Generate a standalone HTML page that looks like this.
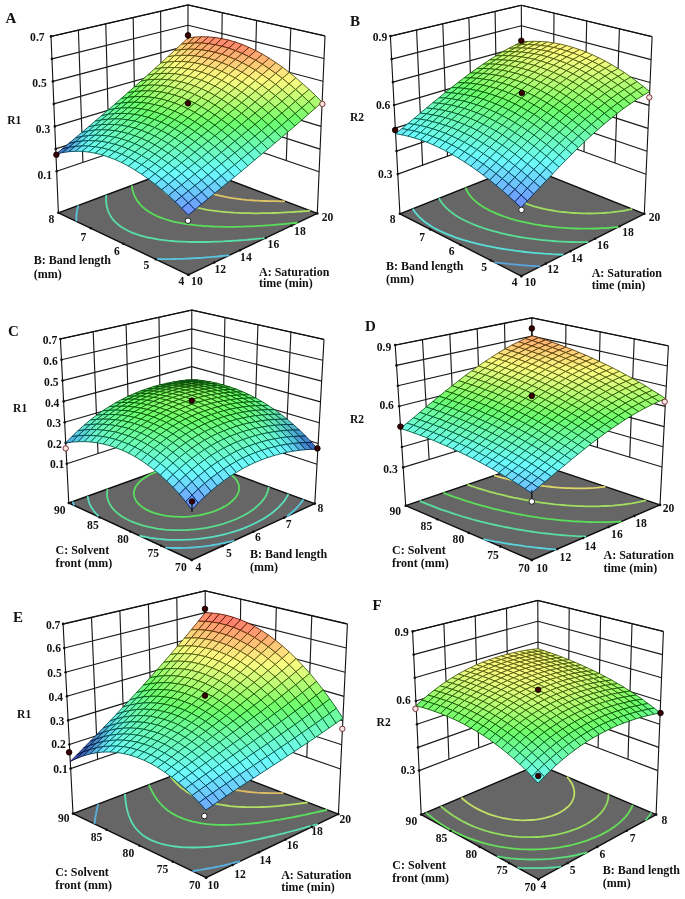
<!DOCTYPE html><html><head><meta charset="utf-8"><style>
html,body{margin:0;padding:0;background:#fff;overflow:hidden;}
svg{display:block;filter:blur(0.45px);}
text{font-family:"Liberation Serif",serif;font-weight:bold;fill:#111;}
</style></head><body>
<svg width="685" height="899" viewBox="0 0 685 899">
<rect width="685" height="899" fill="#fff"/>
<path d="M82.9 162.5L78.4 30.2 M109.1 153.6L105.8 23.9 M135.3 144.8L133.2 17.6 M161.5 135.9L160.6 11.3 M286.3 160.5L290.8 28.2 M253.4 149.4L256.5 20.5 M220.6 138.2L222.2 12.8 M56.7 171.3L187.7 127 M187.7 127L319.1 171.7 M55.7 148.9L187.8 106.7 M187.8 106.7L320.1 149.1 M54.8 126.4L187.8 86.3 M187.8 86.3L321.1 126.4 M53.8 103.9L187.9 66 M187.9 66L322.1 103.8 M52.9 81.4L187.9 45.6 M187.9 45.6L323 81.2 M51.9 58.9L188 25.3 M188 25.3L324 58.5 M51 36.4L188 4.9 M188 4.9L325 35.9" stroke="#1a1a1a" stroke-width="1.15" fill="none"/>
<path d="M58.4 212.8L51 36.5 M187.7 164.5L188 5 M317.3 213.4L325 36 M51 36.5L188 5 M188 5L325 36" stroke="#111" stroke-width="1.1" fill="none"/>
<g fill="#111"><circle cx="56.7" cy="171.3" r="1.3"/><circle cx="55.7" cy="148.9" r="1.3"/><circle cx="54.8" cy="126.4" r="1.3"/><circle cx="53.8" cy="103.9" r="1.3"/><circle cx="52.9" cy="81.4" r="1.3"/><circle cx="51.9" cy="58.9" r="1.3"/><circle cx="51" cy="36.4" r="1.3"/></g>
<polygon points="188.4,274.8 317.3,213.4 187.7,164.5 58.4,212.8" fill="#666" stroke="#0d0d0d" stroke-width="1.4" stroke-linejoin="round"/>
<path d="M155.1 258.9L158.5 259L163.1 259.1L166.4 259.1L170.7 259.1L174.6 259L178.2 258.9L183 258.8L186 258.7L190.1 258.5L194.8 258.2L197.8 258L201.7 257.8L206.2 257.4L210.2 257.1L213.3 256.8L217.4 256.5L221.8 256L226.1 255.6L229.4 255.3L229.4 255.3" stroke="#59c4de" stroke-width="1.8" fill="none"/>
<path d="M78.3 205.4L78 206.6L77.5 208.5L77.1 210.2L76.9 211.6L76.6 213.7L76.5 214.9L76.4 216.9L76.4 218.3L76.4 220.3L76.5 221.4" stroke="#59c4de" stroke-width="1.8" fill="none"/>
<path d="M106.3 194.9L106.2 196.7L106.1 198.2L106.1 199.8L106.2 201.4L106.3 203.2L106.5 204.6L106.9 206.6L107.2 207.9L107.6 209.6L108.3 211.5L109 213.1L109.8 214.6L110.7 216.2L111.9 218L113.2 219.7L114.7 221.4L116.8 223.4L119 225.3L121 226.7L124.3 228.8L128 230.8L132 232.6L136.4 234.2L140.6 235.6L144.4 236.6L147.9 237.5L151.6 238.2L155.5 238.9L159.3 239.6L163.4 240.1L167.7 240.6L172.1 241L176 241.3L179 241.5L183.7 241.7L187.6 241.9L191.1 242L195.8 242L198.8 242L203.6 242L206.7 242L211.2 241.9L214.9 241.7L218.6 241.6L223.4 241.4L226.3 241.2L230.6 241L235.1 240.7L238 240.5L242.2 240.1L246.8 239.8L250.2 239.5L253.6 239.2L258.1 238.7L262.6 238.3L265.8 237.9L265.8 237.9" stroke="#59dea8" stroke-width="1.8" fill="none"/>
<path d="M131.8 185.4L132 186.7L132.2 188.4L132.6 190.1L132.9 191.3L133.5 193.2L134.2 195L134.8 196.4L135.5 197.7L136.5 199.5L137.6 201.2L138.9 202.9L140.2 204.5L141.7 206.1L143.4 207.6L146.1 209.8L148.1 211.2L151.4 213.2L153.7 214.5L157.5 216.3L161.6 217.9L164.5 219L169.2 220.4L172.4 221.3L177.2 222.4L181.3 223.2L185 223.8L188.9 224.4L193 224.9L197.1 225.4L200.5 225.7L203.7 226L208.2 226.2L212.8 226.5L215.8 226.6L220 226.7L224.3 226.8L227.4 226.8L232.4 226.8L235.1 226.8L240.3 226.7L243 226.6L247.9 226.4L251.2 226.3L255.3 226.1L259.5 225.8L262.6 225.7L267.4 225.3L271 225.1L274.6 224.8L279.3 224.4L282.7 224.1L286.2 223.8L290.8 223.4L294.8 223L297.8 222.7L297.8 222.7" stroke="#5ade59" stroke-width="1.8" fill="none"/>
<path d="M155.1 176.7L155.5 178L156.1 179.4L156.9 181.1L157.7 182.9L158.6 184.3L159.4 185.7L160.5 187.2L161.7 188.7L163.2 190.4L165 192.1L167 193.9L168.8 195.4L170.7 196.7L173.8 198.7L176.2 200L179.7 201.7L183.6 203.4L187.8 204.9L190.7 205.8L195.4 207.2L198.7 208L202.8 208.9L207.4 209.8L211.2 210.4L215 210.9L219 211.4L223.1 211.8L226.9 212.2L230.2 212.4L233.8 212.7L238.3 212.9L242.6 213.1L245.6 213.2L250.1 213.2L254.2 213.3L257.4 213.3L262.4 213.2L265.1 213.2L270.2 213.1L273 213L278.1 212.8L280.8 212.7L285.7 212.4L288.9 212.2L293.2 212L297.3 211.7L300.5 211.5L305.3 211.1L308.6 210.8L310.1 210.7" stroke="#adde62" stroke-width="1.8" fill="none"/>
<path d="M176.5 168.7L177.4 170.4L178.4 171.9L179.3 173.2L180.4 174.7L181.7 176.2L183.2 177.8L184.9 179.5L186.7 181L188.4 182.4L190.3 183.7L193.3 185.6L195.5 186.8L198.9 188.6L202.6 190.2L206.6 191.8L210.8 193.2L214.7 194.4L218.5 195.3L221.9 196.1L226.9 197.2L230.5 197.8L234.2 198.4L238 198.9L241.9 199.4L245.9 199.8L250 200.1L254.2 200.5L258.2 200.7L261.4 200.9L265.3 201L269.9 201.1L273.6 201.2L276.9 201.2L281.7 201.3L285 201.2L285 201.2" stroke="#dec668" stroke-width="1.8" fill="none"/>
<g fill="#111"><circle cx="188.4" cy="274.8" r="1.3"/><circle cx="214.2" cy="262.5" r="1.3"/><circle cx="240" cy="250.2" r="1.3"/><circle cx="265.7" cy="238" r="1.3"/><circle cx="291.5" cy="225.7" r="1.3"/><circle cx="317.3" cy="213.4" r="1.3"/><circle cx="188.4" cy="274.8" r="1.3"/><circle cx="155.9" cy="259.3" r="1.3"/><circle cx="123.4" cy="243.8" r="1.3"/><circle cx="90.9" cy="228.3" r="1.3"/><circle cx="58.4" cy="212.8" r="1.3"/></g>
<g stroke-width="0.85" stroke-linejoin="round"><path d="M187.9 43.4L194.7 37.1L187.9 37.9L181.2 44.3Z" fill="#fcb974" stroke="#552d03"/><path d="M181.2 49.7L187.9 43.4L181.2 44.3L174.4 50.6Z" fill="#fcd57a" stroke="#553d06"/><path d="M194.7 43L201.5 36.7L194.7 37.1L187.9 43.4Z" fill="#fca971" stroke="#552301"/><path d="M174.4 55.8L181.2 49.7L174.4 50.6L167.7 56.8Z" fill="#fced80" stroke="#554c09"/><path d="M187.9 49.2L194.7 43L187.9 43.4L181.2 49.7Z" fill="#fcc677" stroke="#553404"/><path d="M201.5 43.1L208.3 36.9L201.5 36.7L194.7 43Z" fill="#fc9d70" stroke="#551c00"/><path d="M167.7 62L174.4 55.8L167.7 56.8L161 63Z" fill="#f5fc80" stroke="#515509"/><path d="M181.2 55.4L187.9 49.2L181.2 49.7L174.4 55.8Z" fill="#fce07d" stroke="#554408"/><path d="M194.7 49.3L201.5 43.1L194.7 43L187.9 49.2Z" fill="#fcba74" stroke="#552d03"/><path d="M208.3 43.7L215.1 37.5L208.3 36.9L201.5 43.1Z" fill="#fc956f" stroke="#551700"/><path d="M161 68L167.7 62L161 63L154.3 69.1Z" fill="#defc7d" stroke="#435508"/><path d="M174.4 61.5L181.2 55.4L174.4 55.8L167.7 62Z" fill="#fcf781" stroke="#55520a"/><path d="M187.9 55.4L194.7 49.3L187.9 49.2L181.2 55.4Z" fill="#fcd47a" stroke="#553d06"/><path d="M201.5 49.9L208.3 43.7L201.5 43.1L194.7 49.3Z" fill="#fcb173" stroke="#552802"/><path d="M215.1 44.8L221.9 38.6L215.1 37.5L208.3 43.7Z" fill="#fc8f6e" stroke="#551300"/><path d="M154.3 74L161 68L154.3 69.1L147.6 75.1Z" fill="#c5fc77" stroke="#345504"/><path d="M167.7 67.5L174.4 61.5L167.7 62L161 68Z" fill="#edfc7f" stroke="#4c5509"/><path d="M181.2 61.5L187.9 55.4L181.2 55.4L174.4 61.5Z" fill="#fcec7f" stroke="#554b09"/><path d="M194.7 55.9L201.5 49.9L194.7 49.3L187.9 55.4Z" fill="#fccb78" stroke="#553705"/><path d="M208.3 50.9L215.1 44.8L208.3 43.7L201.5 49.9Z" fill="#fcab72" stroke="#552402"/><path d="M221.9 46.3L228.7 40.1L221.9 38.6L215.1 44.8Z" fill="#fc8d6e" stroke="#551200"/><path d="M147.7 79.9L154.3 74L147.6 75.1L141 81.1Z" fill="#acfc72" stroke="#255502"/><path d="M161 73.5L167.7 67.5L161 68L154.3 74Z" fill="#d6fc7b" stroke="#3e5506"/><path d="M174.5 67.5L181.2 61.5L174.4 61.5L167.7 67.5Z" fill="#f8fc81" stroke="#53550a"/><path d="M187.9 62L194.7 55.9L187.9 55.4L181.2 61.5Z" fill="#fce37e" stroke="#554608"/><path d="M201.5 56.9L208.3 50.9L201.5 49.9L194.7 55.9Z" fill="#fcc577" stroke="#553404"/><path d="M215 52.4L221.9 46.3L215.1 44.8L208.3 50.9Z" fill="#fca771" stroke="#552201"/><path d="M228.6 48.2L235.5 42.1L228.7 40.1L221.9 46.3Z" fill="#fc8d6e" stroke="#551200"/><path d="M141 85.8L147.7 79.9L141 81.1L134.3 87Z" fill="#93fc6f" stroke="#165500"/><path d="M154.3 79.4L161 73.5L154.3 74L147.7 79.9Z" fill="#befc75" stroke="#305503"/><path d="M167.7 73.4L174.5 67.5L167.7 67.5L161 73.5Z" fill="#e3fc7e" stroke="#465508"/><path d="M181.2 67.9L187.9 62L181.2 61.5L174.5 67.5Z" fill="#fcf881" stroke="#55530a"/><path d="M194.7 62.9L201.5 56.9L194.7 55.9L187.9 62Z" fill="#fcdd7c" stroke="#554207"/><path d="M208.2 58.4L215 52.4L208.3 50.9L201.5 56.9Z" fill="#fcc176" stroke="#553104"/><path d="M221.8 54.3L228.6 48.2L221.9 46.3L215 52.4Z" fill="#fca771" stroke="#552201"/><path d="M235.4 50.6L242.3 44.5L235.5 42.1L228.6 48.2Z" fill="#fc906e" stroke="#551400"/><path d="M134.4 91.6L141 85.8L134.3 87L127.7 92.8Z" fill="#7bfc6d" stroke="#085500"/><path d="M147.7 85.2L154.3 79.4L147.7 79.9L141 85.8Z" fill="#a5fc71" stroke="#205501"/><path d="M161.1 79.3L167.7 73.4L161 73.5L154.3 79.4Z" fill="#ccfc78" stroke="#385505"/><path d="M174.5 73.8L181.2 67.9L174.5 67.5L167.7 73.4Z" fill="#ecfc7f" stroke="#4b5509"/><path d="M187.9 68.9L194.7 62.9L187.9 62L181.2 67.9Z" fill="#fcf280" stroke="#554f09"/><path d="M201.5 64.4L208.2 58.4L201.5 56.9L194.7 62.9Z" fill="#fcd97c" stroke="#554007"/><path d="M215 60.3L221.8 54.3L215 52.4L208.2 58.4Z" fill="#fcc176" stroke="#553104"/><path d="M228.6 56.7L235.4 50.6L228.6 48.2L221.8 54.3Z" fill="#fcaa71" stroke="#552401"/><path d="M242.2 53.5L249 47.4L242.3 44.5L235.4 50.6Z" fill="#fc956f" stroke="#551700"/><path d="M127.8 97.4L134.4 91.6L127.7 92.8L121.1 98.6Z" fill="#6dfc75" stroke="#005504"/><path d="M141 91L147.7 85.2L141 85.8L134.4 91.6Z" fill="#8dfc6e" stroke="#125500"/><path d="M154.4 85.1L161.1 79.3L154.3 79.4L147.7 85.2Z" fill="#b4fc73" stroke="#2a5502"/><path d="M167.8 79.7L174.5 73.8L167.7 73.4L161.1 79.3Z" fill="#d7fc7b" stroke="#3f5506"/><path d="M181.2 74.7L187.9 68.9L181.2 67.9L174.5 73.8Z" fill="#f2fc80" stroke="#4f5509"/><path d="M194.7 70.3L201.5 64.4L194.7 62.9L187.9 68.9Z" fill="#fcef80" stroke="#554d09"/><path d="M208.2 66.3L215 60.3L208.2 58.4L201.5 64.4Z" fill="#fcd87b" stroke="#553f06"/><path d="M221.8 62.7L228.6 56.7L221.8 54.3L215 60.3Z" fill="#fcc376" stroke="#553304"/><path d="M235.3 59.5L242.2 53.5L235.4 50.6L228.6 56.7Z" fill="#fcaf72" stroke="#552702"/><path d="M248.9 56.7L255.8 50.6L249 47.4L242.2 53.5Z" fill="#fc9d70" stroke="#551c00"/><path d="M121.2 103.1L127.8 97.4L121.1 98.6L114.6 104.4Z" fill="#6dfc8b" stroke="#005511"/><path d="M134.4 96.7L141 91L134.4 91.6L127.8 97.4Z" fill="#77fc6d" stroke="#055500"/><path d="M147.7 90.8L154.4 85.1L147.7 85.2L141 91Z" fill="#9dfc70" stroke="#1c5500"/><path d="M161.1 85.5L167.8 79.7L161.1 79.3L154.4 85.1Z" fill="#c0fc76" stroke="#315504"/><path d="M174.5 80.6L181.2 74.7L174.5 73.8L167.8 79.7Z" fill="#defc7d" stroke="#435508"/><path d="M188 76.1L194.7 70.3L187.9 68.9L181.2 74.7Z" fill="#f6fc81" stroke="#51550a"/><path d="M201.5 72.2L208.2 66.3L201.5 64.4L194.7 70.3Z" fill="#fcee80" stroke="#554d09"/><path d="M215 68.6L221.8 62.7L215 60.3L208.2 66.3Z" fill="#fcda7c" stroke="#554007"/><path d="M228.5 65.5L235.3 59.5L228.6 56.7L221.8 62.7Z" fill="#fcc777" stroke="#553504"/><path d="M242.1 62.7L248.9 56.7L242.2 53.5L235.3 59.5Z" fill="#fcb674" stroke="#552b03"/><path d="M255.7 60.3L262.5 54.2L255.8 50.6L248.9 56.7Z" fill="#fca871" stroke="#552201"/><path d="M114.6 108.8L121.2 103.1L114.6 104.4L108 110.1Z" fill="#6cf99f" stroke="#00541e"/><path d="M127.8 102.4L134.4 96.7L127.8 97.4L121.2 103.1Z" fill="#6dfc79" stroke="#005507"/><path d="M141.1 96.5L147.7 90.8L141 91L134.4 96.7Z" fill="#86fc6e" stroke="#0e5500"/><path d="M154.4 91.2L161.1 85.5L154.4 85.1L147.7 90.8Z" fill="#a9fc71" stroke="#235501"/><path d="M167.8 86.3L174.5 80.6L167.8 79.7L161.1 85.5Z" fill="#c9fc78" stroke="#365505"/><path d="M181.2 81.9L188 76.1L181.2 74.7L174.5 80.6Z" fill="#e3fc7e" stroke="#465508"/><path d="M194.7 78L201.5 72.2L194.7 70.3L188 76.1Z" fill="#f8fc81" stroke="#53550a"/><path d="M208.2 74.5L215 68.6L208.2 66.3L201.5 72.2Z" fill="#fcef80" stroke="#554d09"/><path d="M221.7 71.4L228.5 65.5L221.8 62.7L215 68.6Z" fill="#fcde7d" stroke="#554308"/><path d="M235.3 68.7L242.1 62.7L235.3 59.5L228.5 65.5Z" fill="#fcce79" stroke="#553905"/><path d="M248.8 66.3L255.7 60.3L248.9 56.7L242.1 62.7Z" fill="#fcc076" stroke="#553104"/><path d="M262.4 64.3L269.2 58.2L262.5 54.2L255.7 60.3Z" fill="#fcb473" stroke="#552a02"/><path d="M108 114.4L114.6 108.8L108 110.1L101.4 115.7Z" fill="#6bf7b2" stroke="#00532a"/><path d="M121.2 108L127.8 102.4L121.2 103.1L114.6 108.8Z" fill="#6dfc8e" stroke="#005513"/><path d="M134.4 102.2L141.1 96.5L134.4 96.7L127.8 102.4Z" fill="#70fc6d" stroke="#015500"/><path d="M147.8 96.9L154.4 91.2L147.7 90.8L141.1 96.5Z" fill="#92fc6f" stroke="#155500"/><path d="M161.1 92L167.8 86.3L161.1 85.5L154.4 91.2Z" fill="#b2fc73" stroke="#285502"/><path d="M174.5 87.7L181.2 81.9L174.5 80.6L167.8 86.3Z" fill="#cefc79" stroke="#395505"/><path d="M188 83.8L194.7 78L188 76.1L181.2 81.9Z" fill="#e5fc7e" stroke="#475508"/><path d="M201.4 80.3L208.2 74.5L201.5 72.2L194.7 78Z" fill="#f7fc81" stroke="#52550a"/><path d="M214.9 77.2L221.7 71.4L215 68.6L208.2 74.5Z" fill="#fcf280" stroke="#554f09"/><path d="M228.5 74.6L235.3 68.7L228.5 65.5L221.7 71.4Z" fill="#fce47e" stroke="#554608"/><path d="M242 72.3L248.8 66.3L242.1 62.7L235.3 68.7Z" fill="#fcd77b" stroke="#553f06"/><path d="M255.5 70.3L262.4 64.3L255.7 60.3L248.8 66.3Z" fill="#fccc78" stroke="#553805"/><path d="M269.1 68.7L275.9 62.6L269.2 58.2L262.4 64.3Z" fill="#fcc376" stroke="#553304"/><path d="M101.4 120L108 114.4L101.4 115.7L94.9 121.3Z" fill="#69f3c3" stroke="#005235"/><path d="M114.6 113.6L121.2 108L114.6 108.8L108 114.4Z" fill="#6dfca2" stroke="#00551f"/><path d="M127.8 107.8L134.4 102.2L127.8 102.4L121.2 108Z" fill="#6dfc7e" stroke="#00550a"/><path d="M141.1 102.5L147.8 96.9L141.1 96.5L134.4 102.2Z" fill="#7dfc6d" stroke="#095500"/><path d="M154.5 97.7L161.1 92L154.4 91.2L147.8 96.9Z" fill="#9cfc70" stroke="#1b5500"/><path d="M167.8 93.4L174.5 87.7L167.8 86.3L161.1 92Z" fill="#b8fc74" stroke="#2c5503"/><path d="M181.3 89.5L188 83.8L181.2 81.9L174.5 87.7Z" fill="#d0fc79" stroke="#3a5505"/><path d="M194.7 86L201.4 80.3L194.7 78L188 83.8Z" fill="#e4fc7e" stroke="#465508"/><path d="M208.2 83L214.9 77.2L208.2 74.5L201.4 80.3Z" fill="#f5fc80" stroke="#515509"/><path d="M221.7 80.4L228.5 74.6L221.7 71.4L214.9 77.2Z" fill="#fcf781" stroke="#55520a"/><path d="M235.2 78.1L242 72.3L235.3 68.7L228.5 74.6Z" fill="#fceb7f" stroke="#554b09"/><path d="M248.7 76.2L255.5 70.3L248.8 66.3L242 72.3Z" fill="#fce27d" stroke="#554508"/><path d="M262.2 74.7L269.1 68.7L262.4 64.3L255.5 70.3Z" fill="#fcd97c" stroke="#554007"/><path d="M275.7 73.4L282.6 67.3L275.9 62.6L269.1 68.7Z" fill="#fcd37a" stroke="#553c06"/><path d="M94.9 125.5L101.4 120L94.9 121.3L88.4 126.9Z" fill="#67eed3" stroke="#005040"/><path d="M108 119.2L114.6 113.6L108 114.4L101.4 120Z" fill="#6dfbb7" stroke="#00552c"/><path d="M121.2 113.4L127.8 107.8L121.2 108L114.6 113.6Z" fill="#6dfc92" stroke="#005516"/><path d="M134.5 108.1L141.1 102.5L134.4 102.2L127.8 107.8Z" fill="#6dfc72" stroke="#005502"/><path d="M147.8 103.3L154.5 97.7L147.8 96.9L141.1 102.5Z" fill="#86fc6e" stroke="#0e5500"/><path d="M161.2 99L167.8 93.4L161.1 92L154.5 97.7Z" fill="#a2fc70" stroke="#1f5500"/><path d="M174.6 95.2L181.3 89.5L174.5 87.7L167.8 93.4Z" fill="#bbfc75" stroke="#2e5503"/><path d="M188 91.7L194.7 86L188 83.8L181.3 89.5Z" fill="#d0fc79" stroke="#3a5505"/><path d="M201.4 88.8L208.2 83L201.4 80.3L194.7 86Z" fill="#e2fc7d" stroke="#455508"/><path d="M214.9 86.2L221.7 80.4L214.9 77.2L208.2 83Z" fill="#f0fc80" stroke="#4e5509"/><path d="M228.4 84L235.2 78.1L228.5 74.6L221.7 80.4Z" fill="#fbfc81" stroke="#55550a"/><path d="M241.9 82.1L248.7 76.2L242 72.3L235.2 78.1Z" fill="#fcf580" stroke="#555109"/><path d="M255.4 80.6L262.2 74.7L255.5 70.3L248.7 76.2Z" fill="#fced80" stroke="#554c09"/><path d="M268.9 79.4L275.7 73.4L269.1 68.7L262.2 74.7Z" fill="#fce87f" stroke="#554909"/><path d="M282.4 78.4L289.3 72.4L282.6 67.3L275.7 73.4Z" fill="#fce47e" stroke="#554608"/><path d="M88.4 131L94.9 125.5L88.4 126.9L81.9 132.4Z" fill="#64e6e2" stroke="#004e4b"/><path d="M101.5 124.7L108 119.2L101.4 120L94.9 125.5Z" fill="#6cfaca" stroke="#005538"/><path d="M114.6 118.9L121.2 113.4L114.6 113.6L108 119.2Z" fill="#6dfca6" stroke="#005522"/><path d="M127.9 113.6L134.5 108.1L127.8 107.8L121.2 113.4Z" fill="#6dfc85" stroke="#00550e"/><path d="M141.2 108.9L147.8 103.3L141.1 102.5L134.5 108.1Z" fill="#72fc6d" stroke="#025500"/><path d="M154.5 104.6L161.2 99L154.5 97.7L147.8 103.3Z" fill="#8dfc6e" stroke="#125500"/><path d="M167.9 100.8L174.6 95.2L167.8 93.4L161.2 99Z" fill="#a6fc71" stroke="#215501"/><path d="M181.3 97.4L188 91.7L181.3 89.5L174.6 95.2Z" fill="#bcfc75" stroke="#2e5503"/><path d="M194.7 94.5L201.4 88.8L194.7 86L188 91.7Z" fill="#cefc79" stroke="#395505"/><path d="M208.2 91.9L214.9 86.2L208.2 83L201.4 88.8Z" fill="#ddfc7c" stroke="#425507"/><path d="M221.6 89.7L228.4 84L221.7 80.4L214.9 86.2Z" fill="#e9fc7f" stroke="#4a5509"/><path d="M235.1 87.9L241.9 82.1L235.2 78.1L228.4 84Z" fill="#f2fc80" stroke="#4f5509"/><path d="M248.6 86.4L255.4 80.6L248.7 76.2L241.9 82.1Z" fill="#f9fc81" stroke="#53550a"/><path d="M262.1 85.3L268.9 79.4L262.2 74.7L255.4 80.6Z" fill="#fcfa81" stroke="#55540a"/><path d="M275.6 84.4L282.4 78.4L275.7 73.4L268.9 79.4Z" fill="#fcf781" stroke="#55520a"/><path d="M289 83.8L295.9 77.8L289.3 72.4L282.4 78.4Z" fill="#fcf580" stroke="#555109"/><path d="M81.9 136.5L88.4 131L81.9 132.4L75.4 137.9Z" fill="#5ed2e4" stroke="#00434d"/><path d="M94.9 130.1L101.5 124.7L94.9 125.5L88.4 131Z" fill="#6bf6dc" stroke="#005343"/><path d="M108.1 124.4L114.6 118.9L108 119.2L101.5 124.7Z" fill="#6dfbba" stroke="#00552e"/><path d="M121.3 119.1L127.9 113.6L121.2 113.4L114.6 118.9Z" fill="#6dfc99" stroke="#00551a"/><path d="M134.5 114.4L141.2 108.9L134.5 108.1L127.9 113.6Z" fill="#6dfc7c" stroke="#005508"/><path d="M147.9 110.1L154.5 104.6L147.8 103.3L141.2 108.9Z" fill="#79fc6d" stroke="#075500"/><path d="M161.2 106.3L167.9 100.8L161.2 99L154.5 104.6Z" fill="#91fc6f" stroke="#145500"/><path d="M174.6 103L181.3 97.4L174.6 95.2L167.9 100.8Z" fill="#a7fc71" stroke="#225501"/><path d="M188 100.1L194.7 94.5L188 91.7L181.3 97.4Z" fill="#b9fc74" stroke="#2d5503"/><path d="M201.4 97.6L208.2 91.9L201.4 88.8L194.7 94.5Z" fill="#c9fc78" stroke="#365505"/><path d="M214.9 95.5L221.6 89.7L214.9 86.2L208.2 91.9Z" fill="#d6fc7b" stroke="#3e5506"/><path d="M228.3 93.7L235.1 87.9L228.4 84L221.6 89.7Z" fill="#e0fc7d" stroke="#445508"/><path d="M241.8 92.3L248.6 86.4L241.9 82.1L235.1 87.9Z" fill="#e7fc7f" stroke="#485509"/><path d="M255.3 91.1L262.1 85.3L255.4 80.6L248.6 86.4Z" fill="#ecfc7f" stroke="#4b5509"/><path d="M268.7 90.3L275.6 84.4L268.9 79.4L262.1 85.3Z" fill="#f0fc80" stroke="#4e5509"/><path d="M282.2 89.8L289 83.8L282.4 78.4L275.6 84.4Z" fill="#f2fc80" stroke="#4f5509"/><path d="M295.6 89.5L302.5 83.5L295.9 77.8L289 83.8Z" fill="#f2fc80" stroke="#4f5509"/><path d="M75.4 141.9L81.9 136.5L75.4 137.9L68.9 143.3Z" fill="#56b1d9" stroke="#003349"/><path d="M88.4 135.6L94.9 130.1L88.4 131L81.9 136.5Z" fill="#66ebe7" stroke="#004f4d"/><path d="M101.5 129.8L108.1 124.4L101.5 124.7L94.9 130.1Z" fill="#6cf9cc" stroke="#005439"/><path d="M114.7 124.6L121.3 119.1L114.6 118.9L108.1 124.4Z" fill="#6dfcac" stroke="#005525"/><path d="M127.9 119.9L134.5 114.4L127.9 113.6L121.3 119.1Z" fill="#6dfc8f" stroke="#005514"/><path d="M141.2 115.6L147.9 110.1L141.2 108.9L134.5 114.4Z" fill="#6dfc75" stroke="#005504"/><path d="M154.6 111.9L161.2 106.3L154.5 104.6L147.9 110.1Z" fill="#7dfc6d" stroke="#095500"/><path d="M167.9 108.6L174.6 103L167.9 100.8L161.2 106.3Z" fill="#92fc6f" stroke="#155500"/><path d="M181.3 105.7L188 100.1L181.3 97.4L174.6 103Z" fill="#a5fc71" stroke="#205501"/><path d="M194.7 103.2L201.4 97.6L194.7 94.5L188 100.1Z" fill="#b5fc73" stroke="#2a5502"/><path d="M208.1 101.1L214.9 95.5L208.2 91.9L201.4 97.6Z" fill="#c2fc76" stroke="#325504"/><path d="M221.6 99.4L228.3 93.7L221.6 89.7L214.9 95.5Z" fill="#ccfc78" stroke="#385505"/><path d="M235 98L241.8 92.3L235.1 87.9L228.3 93.7Z" fill="#d4fc7a" stroke="#3d5506"/><path d="M248.5 97L255.3 91.1L248.6 86.4L241.8 92.3Z" fill="#dafc7c" stroke="#405507"/><path d="M261.9 96.2L268.7 90.3L262.1 85.3L255.3 91.1Z" fill="#ddfc7d" stroke="#425508"/><path d="M275.4 95.7L282.2 89.8L275.6 84.4L268.7 90.3Z" fill="#dffc7d" stroke="#435508"/><path d="M288.8 95.5L295.6 89.5L289 83.8L282.2 89.8Z" fill="#e0fc7d" stroke="#445508"/><path d="M302.2 95.4L309.1 89.4L302.5 83.5L295.6 89.5Z" fill="#defc7d" stroke="#435508"/><path d="M68.9 147.3L75.4 141.9L68.9 143.3L62.4 148.8Z" fill="#4e92cf" stroke="#002546"/><path d="M81.9 141L88.4 135.6L81.9 136.5L75.4 141.9Z" fill="#60d7ea" stroke="#00444f"/><path d="M95 135.2L101.5 129.8L94.9 130.1L88.4 135.6Z" fill="#6af5dc" stroke="#005344"/><path d="M108.1 130L114.7 124.6L108.1 124.4L101.5 129.8Z" fill="#6dfbbf" stroke="#005531"/><path d="M121.3 125.3L127.9 119.9L121.3 119.1L114.7 124.6Z" fill="#6dfca1" stroke="#00551f"/><path d="M134.6 121.1L141.2 115.6L134.5 114.4L127.9 119.9Z" fill="#6dfc87" stroke="#00550f"/><path d="M147.9 117.4L154.6 111.9L147.9 110.1L141.2 115.6Z" fill="#6dfc70" stroke="#005501"/><path d="M161.3 114.1L167.9 108.6L161.2 106.3L154.6 111.9Z" fill="#7efc6d" stroke="#0a5500"/><path d="M174.6 111.2L181.3 105.7L174.6 103L167.9 108.6Z" fill="#90fc6f" stroke="#145500"/><path d="M188 108.8L194.7 103.2L188 100.1L181.3 105.7Z" fill="#a0fc70" stroke="#1e5500"/><path d="M201.4 106.7L208.1 101.1L201.4 97.6L194.7 103.2Z" fill="#adfc72" stroke="#255502"/><path d="M214.9 105.1L221.6 99.4L214.9 95.5L208.1 101.1Z" fill="#b8fc74" stroke="#2c5503"/><path d="M228.3 103.7L235 98L228.3 93.7L221.6 99.4Z" fill="#c0fc76" stroke="#315504"/><path d="M241.7 102.7L248.5 97L241.8 92.3L235 98Z" fill="#c6fc77" stroke="#345504"/><path d="M255.1 102L261.9 96.2L255.3 91.1L248.5 97Z" fill="#cafc78" stroke="#375505"/><path d="M268.6 101.6L275.4 95.7L268.7 90.3L261.9 96.2Z" fill="#ccfc78" stroke="#385505"/><path d="M282 101.4L288.8 95.5L282.2 89.8L275.4 95.7Z" fill="#ccfc78" stroke="#385505"/><path d="M295.4 101.4L302.2 95.4L295.6 89.5L288.8 95.5Z" fill="#cafc78" stroke="#375505"/><path d="M308.8 101.7L315.6 95.6L309.1 89.4L302.2 95.4Z" fill="#c7fc77" stroke="#355504"/><path d="M62.4 152.6L68.9 147.3L62.4 148.8L55.9 154.2Z" fill="#477cc8" stroke="#001b44"/><path d="M75.4 146.4L81.9 141L75.4 141.9L68.9 147.3Z" fill="#59b8e0" stroke="#00354c"/><path d="M88.4 140.6L95 135.2L88.4 135.6L81.9 141Z" fill="#67eeeb" stroke="#00504f"/><path d="M101.6 135.4L108.1 130L101.5 129.8L95 135.2Z" fill="#6cf9d0" stroke="#00543c"/><path d="M114.8 130.7L121.3 125.3L114.7 124.6L108.1 130Z" fill="#6dfcb4" stroke="#00552a"/><path d="M128 126.5L134.6 121.1L127.9 119.9L121.3 125.3Z" fill="#6dfc9a" stroke="#00551a"/><path d="M141.3 122.8L147.9 117.4L141.2 115.6L134.6 121.1Z" fill="#6dfc83" stroke="#00550d"/><path d="M154.6 119.6L161.3 114.1L154.6 111.9L147.9 117.4Z" fill="#6dfc6f" stroke="#005501"/><path d="M168 116.7L174.6 111.2L167.9 108.6L161.3 114.1Z" fill="#7dfc6d" stroke="#095500"/><path d="M181.3 114.3L188 108.8L181.3 105.7L174.6 111.2Z" fill="#8cfc6e" stroke="#125500"/><path d="M194.7 112.3L201.4 106.7L194.7 103.2L188 108.8Z" fill="#99fc6f" stroke="#195500"/><path d="M208.1 110.7L214.9 105.1L208.1 101.1L201.4 106.7Z" fill="#a4fc71" stroke="#205501"/><path d="M221.5 109.4L228.3 103.7L221.6 99.4L214.9 105.1Z" fill="#acfc72" stroke="#255502"/><path d="M235 108.4L241.7 102.7L235 98L228.3 103.7Z" fill="#b2fc73" stroke="#285502"/><path d="M248.4 107.7L255.1 102L248.5 97L241.7 102.7Z" fill="#b6fc73" stroke="#2b5502"/><path d="M261.8 107.4L268.6 101.6L261.9 96.2L255.1 102Z" fill="#b7fc74" stroke="#2b5503"/><path d="M275.2 107.2L282 101.4L275.4 95.7L268.6 101.6Z" fill="#b7fc74" stroke="#2b5503"/><path d="M288.6 107.3L295.4 101.4L288.8 95.5L282 101.4Z" fill="#b6fc73" stroke="#2b5502"/><path d="M301.9 107.7L308.8 101.7L302.2 95.4L295.4 101.4Z" fill="#b2fc73" stroke="#285502"/><path d="M315.3 108.2L322.1 102.1L315.6 95.6L308.8 101.7Z" fill="#adfc72" stroke="#255502"/><path d="M68.9 151.7L75.4 146.4L68.9 147.3L62.4 152.6Z" fill="#54a1da" stroke="#002a4a"/><path d="M81.9 146L88.4 140.6L81.9 141L75.4 146.4Z" fill="#64e1f1" stroke="#004851"/><path d="M95 140.8L101.6 135.4L95 135.2L88.4 140.6Z" fill="#6bf7e1" stroke="#005346"/><path d="M108.2 136.1L114.8 130.7L108.1 130L101.6 135.4Z" fill="#6dfbc6" stroke="#005535"/><path d="M121.4 131.9L128 126.5L121.3 125.3L114.8 130.7Z" fill="#6dfcac" stroke="#005525"/><path d="M134.7 128.2L141.3 122.8L134.6 121.1L128 126.5Z" fill="#6dfc95" stroke="#005517"/><path d="M148 125L154.6 119.6L147.9 117.4L141.3 122.8Z" fill="#6dfc81" stroke="#00550b"/><path d="M161.3 122.2L168 116.7L161.3 114.1L154.6 119.6Z" fill="#6dfc6f" stroke="#005501"/><path d="M174.7 119.8L181.3 114.3L174.6 111.2L168 116.7Z" fill="#79fc6d" stroke="#075500"/><path d="M188 117.8L194.7 112.3L188 108.8L181.3 114.3Z" fill="#86fc6e" stroke="#0e5500"/><path d="M201.4 116.2L208.1 110.7L201.4 106.7L194.7 112.3Z" fill="#90fc6f" stroke="#145500"/><path d="M214.8 115L221.5 109.4L214.9 105.1L208.1 110.7Z" fill="#98fc6f" stroke="#195500"/><path d="M228.2 114.1L235 108.4L228.3 103.7L221.5 109.4Z" fill="#9efc70" stroke="#1c5500"/><path d="M241.6 113.4L248.4 107.7L241.7 102.7L235 108.4Z" fill="#a2fc70" stroke="#1f5500"/><path d="M255 113.1L261.8 107.4L255.1 102L248.4 107.7Z" fill="#a3fc71" stroke="#1f5501"/><path d="M268.4 113L275.2 107.2L268.6 101.6L261.8 107.4Z" fill="#a3fc70" stroke="#1f5500"/><path d="M281.8 113.2L288.6 107.3L282 101.4L275.2 107.2Z" fill="#a1fc70" stroke="#1e5500"/><path d="M295.1 113.6L301.9 107.7L295.4 101.4L288.6 107.3Z" fill="#9efc70" stroke="#1c5500"/><path d="M308.5 114.1L315.3 108.2L308.8 101.7L301.9 107.7Z" fill="#98fc6f" stroke="#195500"/><path d="M75.4 151.3L81.9 146L75.4 146.4L68.9 151.7Z" fill="#62ccef" stroke="#003d51"/><path d="M88.5 146.1L95 140.8L88.4 140.6L81.9 146Z" fill="#6af4f1" stroke="#005251"/><path d="M101.6 141.4L108.2 136.1L101.6 135.4L95 140.8Z" fill="#6dfbd7" stroke="#00553f"/><path d="M114.8 137.3L121.4 131.9L114.8 130.7L108.2 136.1Z" fill="#6dfcbd" stroke="#00552f"/><path d="M128.1 133.6L134.7 128.2L128 126.5L121.4 131.9Z" fill="#6dfca6" stroke="#005522"/><path d="M141.4 130.4L148 125L141.3 122.8L134.7 128.2Z" fill="#6dfc92" stroke="#005516"/><path d="M154.7 127.6L161.3 122.2L154.6 119.6L148 125Z" fill="#6dfc81" stroke="#00550b"/><path d="M168 125.3L174.7 119.8L168 116.7L161.3 122.2Z" fill="#6dfc73" stroke="#005503"/><path d="M181.4 123.3L188 117.8L181.3 114.3L174.7 119.8Z" fill="#73fc6d" stroke="#035500"/><path d="M194.7 121.8L201.4 116.2L194.7 112.3L188 117.8Z" fill="#7dfc6d" stroke="#095500"/><path d="M208.1 120.6L214.8 115L208.1 110.7L201.4 116.2Z" fill="#85fc6e" stroke="#0d5500"/><path d="M221.5 119.7L228.2 114.1L221.5 109.4L214.8 115Z" fill="#8bfc6e" stroke="#115500"/><path d="M234.9 119.1L241.6 113.4L235 108.4L228.2 114.1Z" fill="#8efc6e" stroke="#135500"/><path d="M248.3 118.8L255 113.1L248.4 107.7L241.6 113.4Z" fill="#90fc6e" stroke="#145500"/><path d="M261.6 118.8L268.4 113L261.8 107.4L255 113.1Z" fill="#8ffc6e" stroke="#135500"/><path d="M275 119L281.8 113.2L275.2 107.2L268.4 113Z" fill="#8dfc6e" stroke="#125500"/><path d="M288.3 119.5L295.1 113.6L288.6 107.3L281.8 113.2Z" fill="#89fc6e" stroke="#105500"/><path d="M301.7 120.1L308.5 114.1L301.9 107.7L295.1 113.6Z" fill="#84fc6e" stroke="#0d5500"/><path d="M82 151.4L88.5 146.1L81.9 146L75.4 151.3Z" fill="#69eaf7" stroke="#004c53"/><path d="M95.1 146.8L101.6 141.4L95 140.8L88.5 146.1Z" fill="#6cfae7" stroke="#005549"/><path d="M108.3 142.6L114.8 137.3L108.2 136.1L101.6 141.4Z" fill="#6dfccf" stroke="#00553a"/><path d="M121.5 138.9L128.1 133.6L121.4 131.9L114.8 137.3Z" fill="#6dfcb8" stroke="#00552c"/><path d="M134.8 135.8L141.4 130.4L134.7 128.2L128.1 133.6Z" fill="#6dfca4" stroke="#005520"/><path d="M148 133L154.7 127.6L148 125L141.4 130.4Z" fill="#6dfc92" stroke="#005516"/><path d="M161.4 130.7L168 125.3L161.3 122.2L154.7 127.6Z" fill="#6dfc84" stroke="#00550d"/><path d="M174.7 128.8L181.4 123.3L174.7 119.8L168 125.3Z" fill="#6dfc78" stroke="#005506"/><path d="M188.1 127.2L194.7 121.8L188 117.8L181.4 123.3Z" fill="#6dfc6e" stroke="#005500"/><path d="M201.4 126.1L208.1 120.6L201.4 116.2L194.7 121.8Z" fill="#73fc6d" stroke="#035500"/><path d="M214.8 125.2L221.5 119.7L214.8 115L208.1 120.6Z" fill="#78fc6d" stroke="#065500"/><path d="M228.2 124.7L234.9 119.1L228.2 114.1L221.5 119.7Z" fill="#7bfc6d" stroke="#085500"/><path d="M241.5 124.5L248.3 118.8L241.6 113.4L234.9 119.1Z" fill="#7dfc6d" stroke="#095500"/><path d="M254.9 124.5L261.6 118.8L255 113.1L248.3 118.8Z" fill="#7cfc6d" stroke="#085500"/><path d="M268.2 124.8L275 119L268.4 113L261.6 118.8Z" fill="#7afc6d" stroke="#075500"/><path d="M281.6 125.3L288.3 119.5L281.8 113.2L275 119Z" fill="#76fc6d" stroke="#055500"/><path d="M294.9 126L301.7 120.1L295.1 113.6L288.3 119.5Z" fill="#71fc6d" stroke="#025500"/><path d="M88.6 152L95.1 146.8L88.5 146.1L82 151.4Z" fill="#6cfaf8" stroke="#005553"/><path d="M101.7 147.9L108.3 142.6L101.6 141.4L95.1 146.8Z" fill="#6dfce0" stroke="#005544"/><path d="M114.9 144.3L121.5 138.9L114.8 137.3L108.3 142.6Z" fill="#6dfcc9" stroke="#005537"/><path d="M128.2 141.1L134.8 135.8L128.1 133.6L121.5 138.9Z" fill="#6dfcb5" stroke="#00552b"/><path d="M141.4 138.4L148 133L141.4 130.4L134.8 135.8Z" fill="#6dfca3" stroke="#005520"/><path d="M154.7 136.1L161.4 130.7L154.7 127.6L148 133Z" fill="#6dfc95" stroke="#005517"/><path d="M168.1 134.2L174.7 128.8L168 125.3L161.4 130.7Z" fill="#6dfc89" stroke="#005510"/><path d="M181.4 132.7L188.1 127.2L181.4 123.3L174.7 128.8Z" fill="#6dfc80" stroke="#00550b"/><path d="M194.8 131.6L201.4 126.1L194.7 121.8L188.1 127.2Z" fill="#6dfc78" stroke="#005506"/><path d="M208.1 130.8L214.8 125.2L208.1 120.6L201.4 126.1Z" fill="#6dfc73" stroke="#005503"/><path d="M221.5 130.3L228.2 124.7L221.5 119.7L214.8 125.2Z" fill="#6dfc70" stroke="#005501"/><path d="M234.8 130.1L241.5 124.5L234.9 119.1L228.2 124.7Z" fill="#6dfc6f" stroke="#005501"/><path d="M248.2 130.2L254.9 124.5L248.3 118.8L241.5 124.5Z" fill="#6dfc70" stroke="#005501"/><path d="M261.5 130.5L268.2 124.8L261.6 118.8L254.9 124.5Z" fill="#6dfc72" stroke="#005502"/><path d="M274.8 131L281.6 125.3L275 119L268.2 124.8Z" fill="#6dfc76" stroke="#005505"/><path d="M288.1 131.8L294.9 126L288.3 119.5L281.6 125.3Z" fill="#6dfc7b" stroke="#005508"/><path d="M95.2 153.2L101.7 147.9L95.1 146.8L88.6 152Z" fill="#6dfcf0" stroke="#00554e"/><path d="M108.4 149.6L114.9 144.3L108.3 142.6L101.7 147.9Z" fill="#6dfcd9" stroke="#005540"/><path d="M121.6 146.4L128.2 141.1L121.5 138.9L114.9 144.3Z" fill="#6dfcc5" stroke="#005534"/><path d="M134.8 143.7L141.4 138.4L134.8 135.8L128.2 141.1Z" fill="#6dfcb4" stroke="#00552a"/><path d="M148.1 141.4L154.7 136.1L148 133L141.4 138.4Z" fill="#6dfca6" stroke="#005522"/><path d="M161.4 139.6L168.1 134.2L161.4 130.7L154.7 136.1Z" fill="#6dfc9a" stroke="#00551a"/><path d="M174.8 138.1L181.4 132.7L174.7 128.8L168.1 134.2Z" fill="#6dfc90" stroke="#005514"/><path d="M188.1 137L194.8 131.6L188.1 127.2L181.4 132.7Z" fill="#6dfc89" stroke="#005510"/><path d="M201.4 136.2L208.1 130.8L201.4 126.1L194.8 131.6Z" fill="#6dfc84" stroke="#00550d"/><path d="M214.8 135.8L221.5 130.3L214.8 125.2L208.1 130.8Z" fill="#6dfc81" stroke="#00550b"/><path d="M228.1 135.7L234.8 130.1L228.2 124.7L221.5 130.3Z" fill="#6dfc80" stroke="#00550b"/><path d="M241.5 135.8L248.2 130.2L241.5 124.5L234.8 130.1Z" fill="#6dfc81" stroke="#00550b"/><path d="M254.8 136.2L261.5 130.5L254.9 124.5L248.2 130.2Z" fill="#6dfc83" stroke="#00550d"/><path d="M268.1 136.8L274.8 131L268.2 124.8L261.5 130.5Z" fill="#6dfc87" stroke="#00550f"/><path d="M281.4 137.6L288.1 131.8L281.6 125.3L274.8 131Z" fill="#6dfc8c" stroke="#005512"/><path d="M101.8 154.8L108.4 149.6L101.7 147.9L95.2 153.2Z" fill="#6dfcea" stroke="#00554a"/><path d="M115 151.7L121.6 146.4L114.9 144.3L108.4 149.6Z" fill="#6dfcd6" stroke="#00553e"/><path d="M128.2 149L134.8 143.7L128.2 141.1L121.6 146.4Z" fill="#6dfcc5" stroke="#005534"/><path d="M141.5 146.8L148.1 141.4L141.4 138.4L134.8 143.7Z" fill="#6dfcb6" stroke="#00552b"/><path d="M154.8 144.9L161.4 139.6L154.7 136.1L148.1 141.4Z" fill="#6dfcaa" stroke="#005524"/><path d="M168.1 143.5L174.8 138.1L168.1 134.2L161.4 139.6Z" fill="#6dfca1" stroke="#00551f"/><path d="M181.4 142.4L188.1 137L181.4 132.7L174.8 138.1Z" fill="#6dfc9a" stroke="#00551a"/><path d="M194.8 141.7L201.4 136.2L194.8 131.6L188.1 137Z" fill="#6dfc95" stroke="#005517"/><path d="M208.1 141.3L214.8 135.8L208.1 130.8L201.4 136.2Z" fill="#6dfc92" stroke="#005516"/><path d="M221.4 141.2L228.1 135.7L221.5 130.3L214.8 135.8Z" fill="#6dfc91" stroke="#005515"/><path d="M234.8 141.4L241.5 135.8L234.8 130.1L228.1 135.7Z" fill="#6dfc92" stroke="#005516"/><path d="M248.1 141.8L254.8 136.2L248.2 130.2L241.5 135.8Z" fill="#6dfc94" stroke="#005517"/><path d="M261.4 142.4L268.1 136.8L261.5 130.5L254.8 136.2Z" fill="#6dfc98" stroke="#005519"/><path d="M274.6 143.3L281.4 137.6L274.8 131L268.1 136.8Z" fill="#6dfc9e" stroke="#00551d"/><path d="M108.4 157L115 151.7L108.4 149.6L101.8 154.8Z" fill="#6dfce6" stroke="#005548"/><path d="M121.7 154.3L128.2 149L121.6 146.4L115 151.7Z" fill="#6dfcd5" stroke="#00553e"/><path d="M134.9 152.1L141.5 146.8L134.8 143.7L128.2 149Z" fill="#6dfcc6" stroke="#005535"/><path d="M148.2 150.3L154.8 144.9L148.1 141.4L141.5 146.8Z" fill="#6dfcbb" stroke="#00552e"/><path d="M161.5 148.9L168.1 143.5L161.4 139.6L154.8 144.9Z" fill="#6dfcb1" stroke="#005528"/><path d="M174.8 147.8L181.4 142.4L174.8 138.1L168.1 143.5Z" fill="#6dfcaa" stroke="#005524"/><path d="M188.1 147.1L194.8 141.7L188.1 137L181.4 142.4Z" fill="#6dfca5" stroke="#005521"/><path d="M201.4 146.7L208.1 141.3L201.4 136.2L194.8 141.7Z" fill="#6dfca2" stroke="#00551f"/><path d="M214.8 146.7L221.4 141.2L214.8 135.8L208.1 141.3Z" fill="#6dfca1" stroke="#00551f"/><path d="M228.1 146.9L234.8 141.4L228.1 135.7L221.4 141.2Z" fill="#6dfca2" stroke="#00551f"/><path d="M241.4 147.4L248.1 141.8L241.5 135.8L234.8 141.4Z" fill="#6dfca5" stroke="#005521"/><path d="M254.7 148.1L261.4 142.4L254.8 136.2L248.1 141.8Z" fill="#6dfca9" stroke="#005523"/><path d="M267.9 149L274.6 143.3L268.1 136.8L261.4 142.4Z" fill="#6dfcaf" stroke="#005527"/><path d="M115.1 159.6L121.7 154.3L115 151.7L108.4 157Z" fill="#6dfce5" stroke="#005547"/><path d="M128.3 157.4L134.9 152.1L128.2 149L121.7 154.3Z" fill="#6dfcd6" stroke="#00553e"/><path d="M141.6 155.6L148.2 150.3L141.5 146.8L134.9 152.1Z" fill="#6dfcca" stroke="#005537"/><path d="M154.9 154.2L161.5 148.9L154.8 144.9L148.2 150.3Z" fill="#6dfcc1" stroke="#005532"/><path d="M168.2 153.2L174.8 147.8L168.1 143.5L161.5 148.9Z" fill="#6dfcba" stroke="#00552e"/><path d="M181.5 152.5L188.1 147.1L181.4 142.4L174.8 147.8Z" fill="#6dfcb5" stroke="#00552b"/><path d="M194.8 152.2L201.4 146.7L194.8 141.7L188.1 147.1Z" fill="#6dfcb2" stroke="#005529"/><path d="M208.1 152.1L214.8 146.7L208.1 141.3L201.4 146.7Z" fill="#6dfcb1" stroke="#005528"/><path d="M221.4 152.4L228.1 146.9L221.4 141.2L214.8 146.7Z" fill="#6dfcb2" stroke="#005529"/><path d="M234.7 152.9L241.4 147.4L234.8 141.4L228.1 146.9Z" fill="#6dfcb5" stroke="#00552b"/><path d="M248 153.7L254.7 148.1L248.1 141.8L241.4 147.4Z" fill="#6dfcb9" stroke="#00552d"/><path d="M261.2 154.6L267.9 149L261.4 142.4L254.7 148.1Z" fill="#6dfcbf" stroke="#005531"/><path d="M121.8 162.6L128.3 157.4L121.7 154.3L115.1 159.6Z" fill="#6dfce6" stroke="#005548"/><path d="M135 160.9L141.6 155.6L134.9 152.1L128.3 157.4Z" fill="#6dfcda" stroke="#005541"/><path d="M148.3 159.5L154.9 154.2L148.2 150.3L141.6 155.6Z" fill="#6dfcd1" stroke="#00553b"/><path d="M161.6 158.5L168.2 153.2L161.5 148.9L154.9 154.2Z" fill="#6dfcca" stroke="#005537"/><path d="M174.9 157.9L181.5 152.5L174.8 147.8L168.2 153.2Z" fill="#6dfcc5" stroke="#005534"/><path d="M188.2 157.6L194.8 152.2L188.1 147.1L181.5 152.5Z" fill="#6dfcc2" stroke="#005532"/><path d="M201.5 157.6L208.1 152.1L201.4 146.7L194.8 152.2Z" fill="#6dfcc1" stroke="#005532"/><path d="M214.7 157.9L221.4 152.4L214.8 146.7L208.1 152.1Z" fill="#6dfcc2" stroke="#005532"/><path d="M228 158.4L234.7 152.9L228.1 146.9L221.4 152.4Z" fill="#6dfcc5" stroke="#005534"/><path d="M241.3 159.2L248 153.7L241.4 147.4L234.7 152.9Z" fill="#6dfcc9" stroke="#005537"/><path d="M254.5 160.2L261.2 154.6L254.7 148.1L248 153.7Z" fill="#6dfccf" stroke="#00553a"/><path d="M128.4 166.1L135 160.9L128.3 157.4L121.8 162.6Z" fill="#6dfce9" stroke="#00554a"/><path d="M141.7 164.8L148.3 159.5L141.6 155.6L135 160.9Z" fill="#6dfce0" stroke="#005544"/><path d="M155 163.8L161.6 158.5L154.9 154.2L148.3 159.5Z" fill="#6dfcd9" stroke="#005540"/><path d="M168.2 163.2L174.9 157.9L168.2 153.2L161.6 158.5Z" fill="#6dfcd4" stroke="#00553d"/><path d="M181.5 162.9L188.2 157.6L181.5 152.5L174.9 157.9Z" fill="#6dfcd1" stroke="#00553b"/><path d="M194.8 163L201.5 157.6L194.8 152.2L188.2 157.6Z" fill="#6dfcd1" stroke="#00553b"/><path d="M208.1 163.3L214.7 157.9L208.1 152.1L201.5 157.6Z" fill="#6dfcd2" stroke="#00553c"/><path d="M221.4 163.9L228 158.4L221.4 152.4L214.7 157.9Z" fill="#6dfcd5" stroke="#00553e"/><path d="M234.6 164.8L241.3 159.2L234.7 152.9L228 158.4Z" fill="#6dfcd9" stroke="#005540"/><path d="M247.9 165.8L254.5 160.2L248 153.7L241.3 159.2Z" fill="#6dfcdf" stroke="#005544"/><path d="M135.1 170.1L141.7 164.8L135 160.9L128.4 166.1Z" fill="#6dfcef" stroke="#00554d"/><path d="M148.4 169.1L155 163.8L148.3 159.5L141.7 164.8Z" fill="#6dfce8" stroke="#005549"/><path d="M161.6 168.5L168.2 163.2L161.6 158.5L155 163.8Z" fill="#6dfce3" stroke="#005546"/><path d="M174.9 168.3L181.5 162.9L174.9 157.9L168.2 163.2Z" fill="#6dfce1" stroke="#005545"/><path d="M188.2 168.4L194.8 163L188.2 157.6L181.5 162.9Z" fill="#6dfce0" stroke="#005544"/><path d="M201.5 168.7L208.1 163.3L201.5 157.6L194.8 163Z" fill="#6dfce1" stroke="#005545"/><path d="M214.7 169.4L221.4 163.9L214.7 157.9L208.1 163.3Z" fill="#6dfce4" stroke="#005547"/><path d="M228 170.3L234.6 164.8L228 158.4L221.4 163.9Z" fill="#6dfce8" stroke="#005549"/><path d="M241.2 171.4L247.9 165.8L241.3 159.2L234.6 164.8Z" fill="#6dfcee" stroke="#00554d"/><path d="M141.8 174.4L148.4 169.1L141.7 164.8L135.1 170.1Z" fill="#6dfcf7" stroke="#005552"/><path d="M155.1 173.8L161.6 168.5L155 163.8L148.4 169.1Z" fill="#6dfcf2" stroke="#00554f"/><path d="M168.3 173.6L174.9 168.3L168.2 163.2L161.6 168.5Z" fill="#6dfcf0" stroke="#00554e"/><path d="M181.6 173.7L188.2 168.4L181.5 162.9L174.9 168.3Z" fill="#6dfcef" stroke="#00554d"/><path d="M194.8 174.1L201.5 168.7L194.8 163L188.2 168.4Z" fill="#6dfcf0" stroke="#00554e"/><path d="M208.1 174.8L214.7 169.4L208.1 163.3L201.5 168.7Z" fill="#6dfcf3" stroke="#005550"/><path d="M221.3 175.7L228 170.3L221.4 163.9L214.7 169.4Z" fill="#6dfcf7" stroke="#005552"/><path d="M234.6 176.9L241.2 171.4L234.6 164.8L228 170.3Z" fill="#6dfcfc" stroke="#005555"/><path d="M148.5 179.1L155.1 173.8L148.4 169.1L141.8 174.4Z" fill="#6df8fc" stroke="#005355"/><path d="M161.7 178.9L168.3 173.6L161.6 168.5L155.1 173.8Z" fill="#6dfbfc" stroke="#005555"/><path d="M175 179.1L181.6 173.7L174.9 168.3L168.3 173.6Z" fill="#6dfcfc" stroke="#005555"/><path d="M188.2 179.5L194.8 174.1L188.2 168.4L181.6 173.7Z" fill="#6dfafc" stroke="#005455"/><path d="M201.5 180.2L208.1 174.8L201.5 168.7L194.8 174.1Z" fill="#6df8fc" stroke="#005355"/><path d="M214.7 181.2L221.3 175.7L214.7 169.4L208.1 174.8Z" fill="#6df3fc" stroke="#005055"/><path d="M227.9 182.4L234.6 176.9L228 170.3L221.3 175.7Z" fill="#6dedfc" stroke="#004c55"/><path d="M155.2 184.3L161.7 178.9L155.1 173.8L148.5 179.1Z" fill="#6decfc" stroke="#004c55"/><path d="M168.4 184.4L175 179.1L168.3 173.6L161.7 178.9Z" fill="#6dedfc" stroke="#004c55"/><path d="M181.6 184.9L188.2 179.5L181.6 173.7L175 179.1Z" fill="#6decfc" stroke="#004c55"/><path d="M194.9 185.6L201.5 180.2L194.8 174.1L188.2 179.5Z" fill="#6de9fc" stroke="#004a55"/><path d="M208.1 186.6L214.7 181.2L208.1 174.8L201.5 180.2Z" fill="#6de5fc" stroke="#004755"/><path d="M221.3 187.8L227.9 182.4L221.3 175.7L214.7 181.2Z" fill="#6ddffc" stroke="#004455"/><path d="M161.8 189.7L168.4 184.4L161.7 178.9L155.2 184.3Z" fill="#6ddffc" stroke="#004455"/><path d="M175 190.2L181.6 184.9L175 179.1L168.4 184.4Z" fill="#6ddefc" stroke="#004355"/><path d="M188.3 191L194.9 185.6L188.2 179.5L181.6 184.9Z" fill="#6ddbfc" stroke="#004155"/><path d="M201.5 192L208.1 186.6L201.5 180.2L194.9 185.6Z" fill="#6dd6fc" stroke="#003e55"/><path d="M214.7 193.3L221.3 187.8L214.7 181.2L208.1 186.6Z" fill="#6dd1fc" stroke="#003b55"/><path d="M168.5 195.6L175 190.2L168.4 184.4L161.8 189.7Z" fill="#6dd0fc" stroke="#003b55"/><path d="M181.7 196.4L188.3 191L181.6 184.9L175 190.2Z" fill="#6dcdfc" stroke="#003955"/><path d="M194.9 197.4L201.5 192L194.9 185.6L188.3 191Z" fill="#6dc9fc" stroke="#003755"/><path d="M208.1 198.7L214.7 193.3L208.1 186.6L201.5 192Z" fill="#6dc3fc" stroke="#003355"/><path d="M175.1 201.7L181.7 196.4L175 190.2L168.5 195.6Z" fill="#6dbffc" stroke="#003155"/><path d="M188.3 202.8L194.9 197.4L188.3 191L181.7 196.4Z" fill="#6dbbfc" stroke="#002e55"/><path d="M201.5 204.1L208.1 198.7L201.5 192L194.9 197.4Z" fill="#6db5fc" stroke="#002b55"/><path d="M181.7 208.2L188.3 202.8L181.7 196.4L175.1 201.7Z" fill="#6dadfc" stroke="#002655"/><path d="M194.9 209.6L201.5 204.1L194.9 197.4L188.3 202.8Z" fill="#6da7fc" stroke="#002255"/><path d="M188.4 215L194.9 209.6L188.3 202.8L181.7 208.2Z" fill="#6d9afc" stroke="#001a55"/></g>
<path d="M422.6 165.1L416.6 30.1 M447.5 156.2L442.8 23.9 M472.3 147.2L468.9 17.7 M497.2 138.3L495.1 11.5 M615 163L619.4 28.9 M584 151.8L586.7 21 M553 140.6L554 13.2 M397.8 174.1L522 129.3 M522 129.3L646 174.2 M396.5 151.1L521.9 108.6 M521.9 108.6L647.1 151.3 M395.3 128.1L521.8 87.9 M521.8 87.9L648.1 128.4 M394.1 105.1L521.7 67.2 M521.7 67.2L649.1 105.4 M392.9 82.1L521.5 46.5 M521.5 46.5L650.1 82.5 M391.6 59.1L521.4 25.8 M521.4 25.8L651.1 59.6 M390.4 36.1L521.3 5.2 M521.3 5.2L652.1 36.6" stroke="#1a1a1a" stroke-width="1.15" fill="none"/>
<path d="M399.9 213.8L390.4 36.3 M522.2 165.1L521.3 5.3 M644.3 213.8L652.1 36.8 M390.4 36.3L521.3 5.3 M521.3 5.3L652.1 36.8" stroke="#111" stroke-width="1.1" fill="none"/>
<g fill="#111"><circle cx="397.8" cy="174.1" r="1.3"/><circle cx="396.5" cy="151.1" r="1.3"/><circle cx="395.3" cy="128.1" r="1.3"/><circle cx="394.1" cy="105.1" r="1.3"/><circle cx="392.9" cy="82.1" r="1.3"/><circle cx="391.6" cy="59.1" r="1.3"/><circle cx="390.4" cy="36.1" r="1.3"/></g>
<polygon points="521.3,276.1 644.3,213.8 522.2,165.1 399.9,213.8" fill="#666" stroke="#0d0d0d" stroke-width="1.4" stroke-linejoin="round"/>
<path d="M494.4 262.3L498.3 262.8L502.4 263.2L506.4 263.7L510 264.1L513 264.4L516.8 264.7L521 265.1L524.9 265.4L527.9 265.6L531.7 265.9L536 266.2L539.3 266.4L540.4 266.4" stroke="#59a6de" stroke-width="1.8" fill="none"/>
<path d="M412.8 208.7L413.9 210.4L415.1 212.2L416.4 213.9L417.9 215.5L419.4 217.1L421.7 219.3L423.7 221L425.6 222.5L428.7 224.6L431.9 226.7L434.2 228L437.8 229.9L441.6 231.7L444.2 232.9L448.3 234.6L452.5 236.2L455.4 237.3L459.9 238.8L462.9 239.8L466.6 240.9L470.9 242.1L474.2 242.9L477.5 243.8L481.1 244.6L485.4 245.6L489.5 246.4L493.2 247.1L496.8 247.8L500.5 248.5L504.2 249.1L508 249.7L511.6 250.2L515 250.7L518.4 251.1L521.7 251.5L525.5 252L529.6 252.4L533.6 252.8L537.4 253.1L540.4 253.4L544 253.7L548.3 253.9L552.2 254.2L555.1 254.3L559.2 254.5L563.5 254.7L563.6 254.7" stroke="#59ded6" stroke-width="1.8" fill="none"/>
<path d="M439.1 198.2L440 200L441.1 201.7L442.3 203.4L443.6 205L445.1 206.6L446.6 208.2L448.9 210.3L450.9 211.9L452.8 213.3L455.8 215.4L459.1 217.4L461.3 218.7L464.8 220.5L468.6 222.3L472.5 224L475.2 225.1L479.3 226.7L483.2 228L486.6 229.1L490 230.2L494.4 231.4L497.6 232.2L500.8 233.1L505.5 234.1L509.2 235L512.7 235.7L516.3 236.3L519.8 237L523.5 237.6L527.2 238.2L531 238.7L534.8 239.2L538.7 239.7L542.7 240.1L546 240.4L549.1 240.7L552.8 241L557 241.3L561.2 241.6L564.1 241.7L567.7 241.9L572.2 242L575.3 242.1L579 242.2L583.3 242.2L586 242.2L588.3 242.1" stroke="#59de97" stroke-width="1.8" fill="none"/>
<path d="M465.6 187.6L466.2 189.1L466.8 190.5L467.7 192.1L468.7 193.8L469.9 195.4L471.2 197L472.6 198.6L474.6 200.4L476.7 202.3L478.5 203.7L481.4 205.7L483.5 207L486.7 208.9L490.2 210.7L493.9 212.4L497.7 214.1L501.7 215.6L505.6 217L508.8 218.1L513.1 219.3L516.4 220.3L519.6 221.1L524.1 222.1L527.8 222.9L531.2 223.6L534.7 224.3L538.3 224.9L541.9 225.5L545.6 226L549.4 226.5L553.3 226.9L557.2 227.3L561.3 227.7L564.6 227.9L567.6 228.1L571.7 228.3L576.1 228.5L579.1 228.6L582.8 228.6L587.1 228.7L589.8 228.6L594.6 228.5L597.3 228.5L602.1 228.2L604.7 228.1L609.1 227.8L612.8 227.5L615.8 227.2L618.5 226.9" stroke="#5bde59" stroke-width="1.8" fill="none"/>
<path d="M496.6 175.3L496.5 176.5L496.6 178.3L496.9 179.7L497.2 181.1L497.9 182.9L498.7 184.7L499.6 186.1L500.7 187.6L502.1 189.3L503.7 191L505.3 192.4L507 193.8L509.8 195.8L511.9 197.1L515.1 198.9L518.6 200.6L522.3 202.2L526.2 203.7L530.3 205.2L533.2 206.1L537.7 207.3L540.8 208.1L544.9 209.1L549 209.9L552.4 210.5L556 211.1L559.6 211.6L563.4 212L567.3 212.4L571.2 212.8L574.7 213L577.7 213.2L581.8 213.4L586.2 213.4L588.8 213.5L593.2 213.4L596.5 213.3L600.7 213.1L603.7 213L608.2 212.6L611.5 212.3L614.7 211.9L618.9 211.4L622.9 210.8L626.7 210.1L630.5 209.4L632.3 209" stroke="#9ede5f" stroke-width="1.8" fill="none"/>
<g fill="#111"><circle cx="521.3" cy="276.1" r="1.3"/><circle cx="545.9" cy="263.6" r="1.3"/><circle cx="570.5" cy="251.2" r="1.3"/><circle cx="595.1" cy="238.7" r="1.3"/><circle cx="619.7" cy="226.3" r="1.3"/><circle cx="644.3" cy="213.8" r="1.3"/><circle cx="521.3" cy="276.1" r="1.3"/><circle cx="490.9" cy="260.5" r="1.3"/><circle cx="460.6" cy="245" r="1.3"/><circle cx="430.2" cy="229.4" r="1.3"/><circle cx="399.9" cy="213.8" r="1.3"/></g>
<g stroke-width="0.85" stroke-linejoin="round"><path d="M521.5 44.6L528 41.4L521.5 41.8L515.1 45Z" fill="#ddf77b" stroke="#445308"/><path d="M515.1 48L521.5 44.6L515.1 45L508.7 48.4Z" fill="#d9fc7c" stroke="#405507"/><path d="M527.9 44.5L534.4 41.3L528 41.4L521.5 44.6Z" fill="#ebfc7f" stroke="#4b5509"/><path d="M508.6 51.7L515.1 48L508.7 48.4L502.2 52Z" fill="#d0fc79" stroke="#3a5505"/><path d="M521.5 48L527.9 44.5L521.5 44.6L515.1 48Z" fill="#e3fc7e" stroke="#465508"/><path d="M534.4 44.8L540.8 41.5L534.4 41.3L527.9 44.5Z" fill="#f3fc80" stroke="#505509"/><path d="M502.2 55.6L508.6 51.7L502.2 52L495.8 55.9Z" fill="#c5fc77" stroke="#345504"/><path d="M515.1 51.8L521.5 48L515.1 48L508.6 51.7Z" fill="#dafc7c" stroke="#405507"/><path d="M527.9 48.3L534.4 44.8L527.9 44.5L521.5 48Z" fill="#ecfc7f" stroke="#4b5509"/><path d="M540.8 45.4L547.3 42L540.8 41.5L534.4 44.8Z" fill="#f9fc81" stroke="#53550a"/><path d="M495.8 59.7L502.2 55.6L495.8 55.9L489.5 59.9Z" fill="#b9fc74" stroke="#2d5503"/><path d="M508.6 55.7L515.1 51.8L508.6 51.7L502.2 55.6Z" fill="#d0fc79" stroke="#3a5505"/><path d="M521.5 52.1L527.9 48.3L521.5 48L515.1 51.8Z" fill="#e3fc7e" stroke="#465508"/><path d="M534.4 49L540.8 45.4L534.4 44.8L527.9 48.3Z" fill="#f2fc80" stroke="#4f5509"/><path d="M547.3 46.3L553.8 42.9L547.3 42L540.8 45.4Z" fill="#fcfb81" stroke="#55550a"/><path d="M489.4 64L495.8 59.7L489.5 59.9L483.1 64.2Z" fill="#acfc72" stroke="#255502"/><path d="M502.2 59.9L508.6 55.7L502.2 55.6L495.8 59.7Z" fill="#c4fc77" stroke="#335504"/><path d="M515 56.1L521.5 52.1L515.1 51.8L508.6 55.7Z" fill="#d9fc7b" stroke="#405506"/><path d="M527.9 52.8L534.4 49L527.9 48.3L521.5 52.1Z" fill="#e9fc7f" stroke="#4a5509"/><path d="M540.8 49.9L547.3 46.3L540.8 45.4L534.4 49Z" fill="#f6fc81" stroke="#51550a"/><path d="M553.8 47.5L560.2 44.1L553.8 42.9L547.3 46.3Z" fill="#fcf881" stroke="#55530a"/><path d="M483.1 68.5L489.4 64L483.1 64.2L476.7 68.6Z" fill="#9efc70" stroke="#1c5500"/><path d="M495.8 64.2L502.2 59.9L495.8 59.7L489.4 64Z" fill="#b7fc74" stroke="#2b5503"/><path d="M508.6 60.4L515 56.1L508.6 55.7L502.2 59.9Z" fill="#cdfc79" stroke="#395505"/><path d="M521.5 56.9L527.9 52.8L521.5 52.1L515 56.1Z" fill="#dffc7d" stroke="#435508"/><path d="M534.3 53.8L540.8 49.9L534.4 49L527.9 52.8Z" fill="#eefc80" stroke="#4d5509"/><path d="M547.3 51.2L553.8 47.5L547.3 46.3L540.8 49.9Z" fill="#fafc81" stroke="#54550a"/><path d="M560.2 49.1L566.7 45.6L560.2 44.1L553.8 47.5Z" fill="#fcf681" stroke="#55510a"/><path d="M476.7 73.1L483.1 68.5L476.7 68.6L470.4 73.1Z" fill="#8ffc6e" stroke="#135500"/><path d="M489.4 68.8L495.8 64.2L489.4 64L483.1 68.5Z" fill="#a9fc71" stroke="#235501"/><path d="M502.2 64.8L508.6 60.4L502.2 59.9L495.8 64.2Z" fill="#c0fc76" stroke="#315504"/><path d="M515 61.2L521.5 56.9L515 56.1L508.6 60.4Z" fill="#d4fc7a" stroke="#3d5506"/><path d="M527.9 57.9L534.3 53.8L527.9 52.8L521.5 56.9Z" fill="#e4fc7e" stroke="#465508"/><path d="M540.8 55.1L547.3 51.2L540.8 49.9L534.3 53.8Z" fill="#f1fc80" stroke="#4e5509"/><path d="M553.7 52.8L560.2 49.1L553.8 47.5L547.3 51.2Z" fill="#fbfc81" stroke="#55550a"/><path d="M566.7 51L573.2 47.5L566.7 45.6L560.2 49.1Z" fill="#fcf681" stroke="#55510a"/><path d="M470.4 77.9L476.7 73.1L470.4 73.1L464.1 77.8Z" fill="#80fc6e" stroke="#0a5500"/><path d="M483.1 73.5L489.4 68.8L483.1 68.5L476.7 73.1Z" fill="#9afc6f" stroke="#1a5500"/><path d="M495.8 69.4L502.2 64.8L495.8 64.2L489.4 68.8Z" fill="#b1fc73" stroke="#285502"/><path d="M508.6 65.6L515 61.2L508.6 60.4L502.2 64.8Z" fill="#c7fc77" stroke="#355504"/><path d="M521.5 62.3L527.9 57.9L521.5 56.9L515 61.2Z" fill="#d8fc7b" stroke="#3f5506"/><path d="M534.3 59.3L540.8 55.1L534.3 53.8L527.9 57.9Z" fill="#e7fc7f" stroke="#485509"/><path d="M547.2 56.8L553.7 52.8L547.3 51.2L540.8 55.1Z" fill="#f2fc80" stroke="#4f5509"/><path d="M560.2 54.7L566.7 51L560.2 49.1L553.7 52.8Z" fill="#fbfc81" stroke="#55550a"/><path d="M573.1 53.1L579.6 49.6L573.2 47.5L566.7 51Z" fill="#fcf781" stroke="#55520a"/><path d="M464.1 82.8L470.4 77.9L464.1 77.8L457.8 82.7Z" fill="#70fc6d" stroke="#015500"/><path d="M476.7 78.3L483.1 73.5L476.7 73.1L470.4 77.9Z" fill="#8afc6e" stroke="#105500"/><path d="M489.4 74.2L495.8 69.4L489.4 68.8L483.1 73.5Z" fill="#a2fc70" stroke="#1f5500"/><path d="M502.2 70.3L508.6 65.6L502.2 64.8L495.8 69.4Z" fill="#b8fc74" stroke="#2c5503"/><path d="M515 66.8L521.5 62.3L515 61.2L508.6 65.6Z" fill="#ccfc78" stroke="#385505"/><path d="M527.9 63.7L534.3 59.3L527.9 57.9L521.5 62.3Z" fill="#dcfc7c" stroke="#425507"/><path d="M540.8 61L547.2 56.8L540.8 55.1L534.3 59.3Z" fill="#e9fc7f" stroke="#4a5509"/><path d="M553.7 58.7L560.2 54.7L553.7 52.8L547.2 56.8Z" fill="#f3fc80" stroke="#505509"/><path d="M566.6 56.9L573.1 53.1L566.7 51L560.2 54.7Z" fill="#fafc81" stroke="#54550a"/><path d="M579.6 55.6L586.1 52L579.6 49.6L573.1 53.1Z" fill="#fcfa81" stroke="#55540a"/><path d="M457.8 87.8L464.1 82.8L457.8 82.7L451.5 87.6Z" fill="#6dfc79" stroke="#005507"/><path d="M470.4 83.3L476.7 78.3L470.4 77.9L464.1 82.8Z" fill="#7afc6d" stroke="#075500"/><path d="M483.1 79.1L489.4 74.2L483.1 73.5L476.7 78.3Z" fill="#92fc6f" stroke="#155500"/><path d="M495.8 75.1L502.2 70.3L495.8 69.4L489.4 74.2Z" fill="#a9fc71" stroke="#235501"/><path d="M508.6 71.5L515 66.8L508.6 65.6L502.2 70.3Z" fill="#bdfc75" stroke="#2f5503"/><path d="M521.4 68.3L527.9 63.7L521.5 62.3L515 66.8Z" fill="#cffc79" stroke="#3a5505"/><path d="M534.3 65.4L540.8 61L534.3 59.3L527.9 63.7Z" fill="#ddfc7c" stroke="#425507"/><path d="M547.2 63L553.7 58.7L547.2 56.8L540.8 61Z" fill="#e9fc7f" stroke="#4a5509"/><path d="M560.1 61L566.6 56.9L560.2 54.7L553.7 58.7Z" fill="#f1fc80" stroke="#4e5509"/><path d="M573.1 59.4L579.6 55.6L573.1 53.1L566.6 56.9Z" fill="#f8fc81" stroke="#53550a"/><path d="M586 58.4L592.5 54.8L586.1 52L579.6 55.6Z" fill="#fcfc81" stroke="#55550a"/><path d="M451.5 92.9L457.8 87.8L451.5 87.6L445.2 92.6Z" fill="#6dfc89" stroke="#005510"/><path d="M464.1 88.4L470.4 83.3L464.1 82.8L457.8 87.8Z" fill="#6dfc70" stroke="#005501"/><path d="M476.7 84.1L483.1 79.1L476.7 78.3L470.4 83.3Z" fill="#82fc6e" stroke="#0c5500"/><path d="M489.4 80.1L495.8 75.1L489.4 74.2L483.1 79.1Z" fill="#99fc6f" stroke="#195500"/><path d="M502.2 76.4L508.6 71.5L502.2 70.3L495.8 75.1Z" fill="#aefc72" stroke="#265502"/><path d="M515 73.1L521.4 68.3L515 66.8L508.6 71.5Z" fill="#c1fc76" stroke="#315504"/><path d="M527.9 70.1L534.3 65.4L527.9 63.7L521.4 68.3Z" fill="#d0fc79" stroke="#3a5505"/><path d="M540.7 67.5L547.2 63L540.8 61L534.3 65.4Z" fill="#ddfc7d" stroke="#425508"/><path d="M553.6 65.3L560.1 61L553.7 58.7L547.2 63Z" fill="#e7fc7f" stroke="#485509"/><path d="M566.6 63.5L573.1 59.4L566.6 56.9L560.1 61Z" fill="#effc80" stroke="#4d5509"/><path d="M579.5 62.2L586 58.4L579.6 55.6L573.1 59.4Z" fill="#f4fc80" stroke="#505509"/><path d="M592.4 61.4L598.9 57.8L592.5 54.8L586 58.4Z" fill="#f7fc81" stroke="#52550a"/><path d="M445.2 98.1L451.5 92.9L445.2 92.6L439 97.7Z" fill="#6dfc99" stroke="#00551a"/><path d="M457.8 93.6L464.1 88.4L457.8 87.8L451.5 92.9Z" fill="#6dfc80" stroke="#00550b"/><path d="M470.4 89.3L476.7 84.1L470.4 83.3L464.1 88.4Z" fill="#72fc6d" stroke="#025500"/><path d="M483.1 85.2L489.4 80.1L483.1 79.1L476.7 84.1Z" fill="#88fc6e" stroke="#0f5500"/><path d="M495.8 81.5L502.2 76.4L495.8 75.1L489.4 80.1Z" fill="#9efc70" stroke="#1c5500"/><path d="M508.6 78L515 73.1L508.6 71.5L502.2 76.4Z" fill="#b1fc73" stroke="#285502"/><path d="M521.4 74.9L527.9 70.1L521.4 68.3L515 73.1Z" fill="#c2fc76" stroke="#325504"/><path d="M534.3 72.2L540.7 67.5L534.3 65.4L527.9 70.1Z" fill="#d1fc79" stroke="#3b5505"/><path d="M547.2 69.8L553.6 65.3L547.2 63L540.7 67.5Z" fill="#dcfc7c" stroke="#425507"/><path d="M560.1 67.9L566.6 63.5L560.1 61L553.6 65.3Z" fill="#e5fc7e" stroke="#475508"/><path d="M573 66.4L579.5 62.2L573.1 59.4L566.6 63.5Z" fill="#ebfc7f" stroke="#4b5509"/><path d="M585.9 65.3L592.4 61.4L586 58.4L579.5 62.2Z" fill="#effc80" stroke="#4d5509"/><path d="M598.8 64.7L605.3 61.1L598.9 57.8L592.4 61.4Z" fill="#f0fc80" stroke="#4e5509"/><path d="M439 103.3L445.2 98.1L439 97.7L432.7 102.8Z" fill="#6dfca9" stroke="#005523"/><path d="M451.5 98.8L457.8 93.6L451.5 92.9L445.2 98.1Z" fill="#6dfc90" stroke="#005514"/><path d="M464.1 94.5L470.4 89.3L464.1 88.4L457.8 93.6Z" fill="#6dfc78" stroke="#005506"/><path d="M476.8 90.5L483.1 85.2L476.7 84.1L470.4 89.3Z" fill="#78fc6d" stroke="#065500"/><path d="M489.5 86.7L495.8 81.5L489.4 80.1L483.1 85.2Z" fill="#8dfc6e" stroke="#125500"/><path d="M502.2 83.2L508.6 78L502.2 76.4L495.8 81.5Z" fill="#a1fc70" stroke="#1e5500"/><path d="M515 80L521.4 74.9L515 73.1L508.6 78Z" fill="#b3fc73" stroke="#295502"/><path d="M527.8 77.1L534.3 72.2L527.9 70.1L521.4 74.9Z" fill="#c2fc76" stroke="#325504"/><path d="M540.7 74.6L547.2 69.8L540.7 67.5L534.3 72.2Z" fill="#cffc79" stroke="#3a5505"/><path d="M553.6 72.5L560.1 67.9L553.6 65.3L547.2 69.8Z" fill="#d9fc7c" stroke="#405507"/><path d="M566.5 70.7L573 66.4L566.6 63.5L560.1 67.9Z" fill="#e1fc7d" stroke="#455508"/><path d="M579.4 69.5L585.9 65.3L579.5 62.2L573 66.4Z" fill="#e6fc7e" stroke="#485508"/><path d="M592.3 68.7L598.8 64.7L592.4 61.4L585.9 65.3Z" fill="#e9fc7f" stroke="#4a5509"/><path d="M605.2 68.3L611.7 64.7L605.3 61.1L598.8 64.7Z" fill="#e9fc7f" stroke="#4a5509"/><path d="M432.7 108.6L439 103.3L432.7 102.8L426.5 108Z" fill="#6dfcba" stroke="#00552e"/><path d="M445.3 104.2L451.5 98.8L445.2 98.1L439 103.3Z" fill="#6dfca1" stroke="#00551f"/><path d="M457.8 99.9L464.1 94.5L457.8 93.6L451.5 98.8Z" fill="#6dfc89" stroke="#005510"/><path d="M470.4 95.8L476.8 90.5L470.4 89.3L464.1 94.5Z" fill="#6dfc73" stroke="#005503"/><path d="M483.1 92L489.5 86.7L483.1 85.2L476.8 90.5Z" fill="#7cfc6d" stroke="#085500"/><path d="M495.8 88.4L502.2 83.2L495.8 81.5L489.5 86.7Z" fill="#90fc6e" stroke="#145500"/><path d="M508.6 85.1L515 80L508.6 78L502.2 83.2Z" fill="#a2fc70" stroke="#1f5500"/><path d="M521.4 82.2L527.8 77.1L521.4 74.9L515 80Z" fill="#b3fc73" stroke="#295502"/><path d="M534.2 79.5L540.7 74.6L534.3 72.2L527.8 77.1Z" fill="#c1fc76" stroke="#315504"/><path d="M547.1 77.3L553.6 72.5L547.2 69.8L540.7 74.6Z" fill="#ccfc78" stroke="#385505"/><path d="M560 75.4L566.5 70.7L560.1 67.9L553.6 72.5Z" fill="#d5fc7b" stroke="#3d5506"/><path d="M572.9 73.9L579.4 69.5L573 66.4L566.5 70.7Z" fill="#dcfc7c" stroke="#425507"/><path d="M585.8 72.9L592.3 68.7L585.9 65.3L579.4 69.5Z" fill="#dffc7d" stroke="#435508"/><path d="M598.7 72.3L605.2 68.3L598.8 64.7L592.3 68.7Z" fill="#e1fc7d" stroke="#455508"/><path d="M611.6 72.2L618.1 68.5L611.7 64.7L605.2 68.3Z" fill="#e0fc7d" stroke="#445508"/><path d="M426.5 113.9L432.7 108.6L426.5 108L420.3 113.2Z" fill="#6dfcca" stroke="#005537"/><path d="M439 109.5L445.3 104.2L439 103.3L432.7 108.6Z" fill="#6dfcb1" stroke="#005528"/><path d="M451.5 105.3L457.8 99.9L451.5 98.8L445.3 104.2Z" fill="#6dfc9a" stroke="#00551a"/><path d="M464.1 101.2L470.4 95.8L464.1 94.5L457.8 99.9Z" fill="#6dfc84" stroke="#00550d"/><path d="M476.8 97.4L483.1 92L476.8 90.5L470.4 95.8Z" fill="#6dfc6f" stroke="#005501"/><path d="M489.5 93.8L495.8 88.4L489.5 86.7L483.1 92Z" fill="#7ffc6d" stroke="#0a5500"/><path d="M502.2 90.5L508.6 85.1L502.2 83.2L495.8 88.4Z" fill="#91fc6f" stroke="#145500"/><path d="M515 87.4L521.4 82.2L515 80L508.6 85.1Z" fill="#a2fc70" stroke="#1f5500"/><path d="M527.8 84.7L534.2 79.5L527.8 77.1L521.4 82.2Z" fill="#b1fc73" stroke="#285502"/><path d="M540.6 82.3L547.1 77.3L540.7 74.6L534.2 79.5Z" fill="#befc75" stroke="#305503"/><path d="M553.5 80.2L560 75.4L553.6 72.5L547.1 77.3Z" fill="#c8fc77" stroke="#365504"/><path d="M566.4 78.6L572.9 73.9L566.5 70.7L560 75.4Z" fill="#d0fc79" stroke="#3a5505"/><path d="M579.3 77.3L585.8 72.9L579.4 69.5L572.9 73.9Z" fill="#d5fc7a" stroke="#3d5506"/><path d="M592.2 76.5L598.7 72.3L592.3 68.7L585.8 72.9Z" fill="#d8fc7b" stroke="#3f5506"/><path d="M605.1 76.2L611.6 72.2L605.2 68.3L598.7 72.3Z" fill="#d8fc7b" stroke="#3f5506"/><path d="M618 76.4L624.5 72.6L618.1 68.5L611.6 72.2Z" fill="#d5fc7b" stroke="#3d5506"/><path d="M420.3 119.2L426.5 113.9L420.3 113.2L414.1 118.4Z" fill="#6dfcda" stroke="#005541"/><path d="M432.8 114.9L439 109.5L432.7 108.6L426.5 113.9Z" fill="#6dfcc2" stroke="#005532"/><path d="M445.3 110.7L451.5 105.3L445.3 104.2L439 109.5Z" fill="#6dfcab" stroke="#005525"/><path d="M457.9 106.7L464.1 101.2L457.8 99.9L451.5 105.3Z" fill="#6dfc95" stroke="#005517"/><path d="M470.5 102.9L476.8 97.4L470.4 95.8L464.1 101.2Z" fill="#6dfc80" stroke="#00550b"/><path d="M483.1 99.3L489.5 93.8L483.1 92L476.8 97.4Z" fill="#6dfc6d" stroke="#005500"/><path d="M495.8 95.9L502.2 90.5L495.8 88.4L489.5 93.8Z" fill="#80fc6e" stroke="#0a5500"/><path d="M508.6 92.8L515 87.4L508.6 85.1L502.2 90.5Z" fill="#91fc6f" stroke="#145500"/><path d="M521.4 90L527.8 84.7L521.4 82.2L515 87.4Z" fill="#a0fc70" stroke="#1e5500"/><path d="M534.2 87.5L540.6 82.3L534.2 79.5L527.8 84.7Z" fill="#aefc72" stroke="#265502"/><path d="M547 85.3L553.5 80.2L547.1 77.3L540.6 82.3Z" fill="#b9fc74" stroke="#2d5503"/><path d="M559.9 83.5L566.4 78.6L560 75.4L553.5 80.2Z" fill="#c2fc76" stroke="#325504"/><path d="M572.8 82L579.3 77.3L572.9 73.9L566.4 78.6Z" fill="#c9fc78" stroke="#365505"/><path d="M585.7 81L592.2 76.5L585.8 72.9L579.3 77.3Z" fill="#cdfc78" stroke="#395505"/><path d="M598.6 80.5L605.1 76.2L598.7 72.3L592.2 76.5Z" fill="#cefc79" stroke="#395505"/><path d="M611.4 80.4L618 76.4L611.6 72.2L605.1 76.2Z" fill="#cdfc79" stroke="#395505"/><path d="M624.3 80.8L630.8 77L624.5 72.6L618 76.4Z" fill="#c9fc78" stroke="#365505"/><path d="M414.1 124.4L420.3 119.2L414.1 118.4L407.9 123.6Z" fill="#6dfcea" stroke="#00554a"/><path d="M426.6 120.3L432.8 114.9L426.5 113.9L420.3 119.2Z" fill="#6dfcd2" stroke="#00553c"/><path d="M439.1 116.2L445.3 110.7L439 109.5L432.8 114.9Z" fill="#6dfcbb" stroke="#00552e"/><path d="M451.6 112.3L457.9 106.7L451.5 105.3L445.3 110.7Z" fill="#6dfca6" stroke="#005522"/><path d="M464.2 108.5L470.5 102.9L464.1 101.2L457.9 106.7Z" fill="#6dfc91" stroke="#005515"/><path d="M476.8 104.9L483.1 99.3L476.8 97.4L470.5 102.9Z" fill="#6dfc7d" stroke="#005509"/><path d="M489.5 101.5L495.8 95.9L489.5 93.8L483.1 99.3Z" fill="#6efc6d" stroke="#005500"/><path d="M502.2 98.3L508.6 92.8L502.2 90.5L495.8 95.9Z" fill="#7ffc6d" stroke="#0a5500"/><path d="M515 95.4L521.4 90L515 87.4L508.6 92.8Z" fill="#8ffc6e" stroke="#135500"/><path d="M527.8 92.8L534.2 87.5L527.8 84.7L521.4 90Z" fill="#9dfc70" stroke="#1c5500"/><path d="M540.6 90.5L547 85.3L540.6 82.3L534.2 87.5Z" fill="#a9fc71" stroke="#235501"/><path d="M553.4 88.6L559.9 83.5L553.5 80.2L547 85.3Z" fill="#b3fc73" stroke="#295502"/><path d="M566.3 87L572.8 82L566.4 78.6L559.9 83.5Z" fill="#bbfc74" stroke="#2e5503"/><path d="M579.2 85.8L585.7 81L579.3 77.3L572.8 82Z" fill="#c0fc76" stroke="#315504"/><path d="M592 85L598.6 80.5L592.2 76.5L585.7 81Z" fill="#c3fc76" stroke="#335504"/><path d="M604.9 84.7L611.4 80.4L605.1 76.2L598.6 80.5Z" fill="#c3fc76" stroke="#335504"/><path d="M617.8 84.8L624.3 80.8L618 76.4L611.4 80.4Z" fill="#c0fc76" stroke="#315504"/><path d="M630.6 85.4L637.1 81.7L630.8 77L624.3 80.8Z" fill="#bbfc75" stroke="#2e5503"/><path d="M408 129.7L414.1 124.4L407.9 123.6L401.8 128.7Z" fill="#6dfcfa" stroke="#005554"/><path d="M420.4 125.6L426.6 120.3L420.3 119.2L414.1 124.4Z" fill="#6dfce3" stroke="#005546"/><path d="M432.8 121.7L439.1 116.2L432.8 114.9L426.6 120.3Z" fill="#6dfccc" stroke="#005538"/><path d="M445.3 117.8L451.6 112.3L445.3 110.7L439.1 116.2Z" fill="#6dfcb7" stroke="#00552c"/><path d="M457.9 114.1L464.2 108.5L457.9 106.7L451.6 112.3Z" fill="#6dfca2" stroke="#00551f"/><path d="M470.5 110.5L476.8 104.9L470.5 102.9L464.2 108.5Z" fill="#6dfc8f" stroke="#005514"/><path d="M483.2 107.1L489.5 101.5L483.1 99.3L476.8 104.9Z" fill="#6dfc7d" stroke="#005509"/><path d="M495.9 104L502.2 98.3L495.8 95.9L489.5 101.5Z" fill="#6efc6d" stroke="#005500"/><path d="M508.6 101L515 95.4L508.6 92.8L502.2 98.3Z" fill="#7efc6d" stroke="#0a5500"/><path d="M521.4 98.3L527.8 92.8L521.4 90L515 95.4Z" fill="#8cfc6e" stroke="#125500"/><path d="M534.2 95.9L540.6 90.5L534.2 87.5L527.8 92.8Z" fill="#98fc6f" stroke="#195500"/><path d="M547 93.9L553.4 88.6L547 85.3L540.6 90.5Z" fill="#a3fc71" stroke="#1f5501"/><path d="M559.8 92.1L566.3 87L559.9 83.5L553.4 88.6Z" fill="#acfc72" stroke="#255502"/><path d="M572.7 90.8L579.2 85.8L572.8 82L566.3 87Z" fill="#b2fc73" stroke="#285502"/><path d="M585.5 89.8L592 85L585.7 81L579.2 85.8Z" fill="#b6fc74" stroke="#2b5503"/><path d="M598.4 89.2L604.9 84.7L598.6 80.5L592 85Z" fill="#b8fc74" stroke="#2c5503"/><path d="M611.3 89.1L617.8 84.8L611.4 80.4L604.9 84.7Z" fill="#b6fc74" stroke="#2b5503"/><path d="M624.1 89.5L630.6 85.4L624.3 80.8L617.8 84.8Z" fill="#b3fc73" stroke="#295502"/><path d="M636.9 90.3L643.4 86.5L637.1 81.7L630.6 85.4Z" fill="#acfc72" stroke="#255502"/><path d="M401.8 134.8L408 129.7L401.8 128.7L395.6 133.7Z" fill="#6df0fc" stroke="#004e55"/><path d="M414.2 131L420.4 125.6L414.1 124.4L408 129.7Z" fill="#6dfcf3" stroke="#005550"/><path d="M426.6 127.1L432.8 121.7L426.6 120.3L420.4 125.6Z" fill="#6dfcdd" stroke="#005543"/><path d="M439.1 123.4L445.3 117.8L439.1 116.2L432.8 121.7Z" fill="#6dfcc8" stroke="#005536"/><path d="M451.6 119.7L457.9 114.1L451.6 112.3L445.3 117.8Z" fill="#6dfcb3" stroke="#005529"/><path d="M464.2 116.2L470.5 110.5L464.2 108.5L457.9 114.1Z" fill="#6dfca0" stroke="#00551e"/><path d="M476.9 112.9L483.2 107.1L476.8 104.9L470.5 110.5Z" fill="#6dfc8e" stroke="#005513"/><path d="M489.5 109.7L495.9 104L489.5 101.5L483.2 107.1Z" fill="#6dfc7d" stroke="#005509"/><path d="M502.2 106.7L508.6 101L502.2 98.3L495.9 104Z" fill="#6dfc6e" stroke="#005500"/><path d="M515 104L521.4 98.3L515 95.4L508.6 101Z" fill="#7afc6d" stroke="#075500"/><path d="M527.7 101.5L534.2 95.9L527.8 92.8L521.4 98.3Z" fill="#87fc6e" stroke="#0f5500"/><path d="M540.5 99.3L547 93.9L540.6 90.5L534.2 95.9Z" fill="#92fc6f" stroke="#155500"/><path d="M553.4 97.5L559.8 92.1L553.4 88.6L547 93.9Z" fill="#9cfc70" stroke="#1b5500"/><path d="M566.2 96L572.7 90.8L566.3 87L559.8 92.1Z" fill="#a3fc70" stroke="#1f5500"/><path d="M579.1 94.8L585.5 89.8L579.2 85.8L572.7 90.8Z" fill="#a8fc71" stroke="#225501"/><path d="M591.9 94.1L598.4 89.2L592 85L585.5 89.8Z" fill="#abfc72" stroke="#245502"/><path d="M604.7 93.7L611.3 89.1L604.9 84.7L598.4 89.2Z" fill="#abfc72" stroke="#245502"/><path d="M617.6 93.8L624.1 89.5L617.8 84.8L611.3 89.1Z" fill="#a9fc71" stroke="#235501"/><path d="M630.4 94.4L636.9 90.3L630.6 85.4L624.1 89.5Z" fill="#a3fc71" stroke="#1f5501"/><path d="M643.2 95.4L649.7 91.6L643.4 86.5L636.9 90.3Z" fill="#9bfc70" stroke="#1a5500"/><path d="M408 136.2L414.2 131L408 129.7L401.8 134.8Z" fill="#6df7fc" stroke="#005255"/><path d="M420.4 132.6L426.6 127.1L420.4 125.6L414.2 131Z" fill="#6dfced" stroke="#00554c"/><path d="M432.9 128.9L439.1 123.4L432.8 121.7L426.6 127.1Z" fill="#6dfcd8" stroke="#005540"/><path d="M445.4 125.4L451.6 119.7L445.3 117.8L439.1 123.4Z" fill="#6dfcc5" stroke="#005534"/><path d="M458 122L464.2 116.2L457.9 114.1L451.6 119.7Z" fill="#6dfcb2" stroke="#005529"/><path d="M470.6 118.6L476.9 112.9L470.5 110.5L464.2 116.2Z" fill="#6dfca0" stroke="#00551e"/><path d="M483.2 115.5L489.5 109.7L483.2 107.1L476.9 112.9Z" fill="#6dfc8f" stroke="#005514"/><path d="M495.9 112.5L502.2 106.7L495.9 104L489.5 109.7Z" fill="#6dfc7f" stroke="#00550a"/><path d="M508.6 109.8L515 104L508.6 101L502.2 106.7Z" fill="#6dfc71" stroke="#005502"/><path d="M521.3 107.2L527.7 101.5L521.4 98.3L515 104Z" fill="#76fc6d" stroke="#055500"/><path d="M534.1 105L540.5 99.3L534.2 95.9L527.7 101.5Z" fill="#81fc6e" stroke="#0b5500"/><path d="M546.9 103L553.4 97.5L547 93.9L540.5 99.3Z" fill="#8bfc6e" stroke="#115500"/><path d="M559.7 101.4L566.2 96L559.8 92.1L553.4 97.5Z" fill="#93fc6f" stroke="#165500"/><path d="M572.6 100.1L579.1 94.8L572.7 90.8L566.2 96Z" fill="#99fc6f" stroke="#195500"/><path d="M585.4 99.1L591.9 94.1L585.5 89.8L579.1 94.8Z" fill="#9dfc70" stroke="#1c5500"/><path d="M598.2 98.6L604.7 93.7L598.4 89.2L591.9 94.1Z" fill="#9efc70" stroke="#1c5500"/><path d="M611.1 98.4L617.6 93.8L611.3 89.1L604.7 93.7Z" fill="#9dfc70" stroke="#1c5500"/><path d="M623.9 98.7L630.4 94.4L624.1 89.5L617.6 93.8Z" fill="#9afc6f" stroke="#1a5500"/><path d="M636.7 99.5L643.2 95.4L636.9 90.3L630.4 94.4Z" fill="#93fc6f" stroke="#165500"/><path d="M414.2 137.9L420.4 132.6L414.2 131L408 136.2Z" fill="#6dfcfc" stroke="#005555"/><path d="M426.7 134.5L432.9 128.9L426.6 127.1L420.4 132.6Z" fill="#6dfce9" stroke="#00554a"/><path d="M439.2 131L445.4 125.4L439.1 123.4L432.9 128.9Z" fill="#6dfcd6" stroke="#00553e"/><path d="M451.7 127.7L458 122L451.6 119.7L445.4 125.4Z" fill="#6dfcc3" stroke="#005533"/><path d="M464.3 124.5L470.6 118.6L464.2 116.2L458 122Z" fill="#6dfcb1" stroke="#005528"/><path d="M476.9 121.4L483.2 115.5L476.9 112.9L470.6 118.6Z" fill="#6dfca1" stroke="#00551f"/><path d="M489.5 118.4L495.9 112.5L489.5 109.7L483.2 115.5Z" fill="#6dfc91" stroke="#005515"/><path d="M502.2 115.6L508.6 109.8L502.2 106.7L495.9 112.5Z" fill="#6dfc83" stroke="#00550d"/><path d="M515 113.1L521.3 107.2L515 104L508.6 109.8Z" fill="#6dfc76" stroke="#005505"/><path d="M527.7 110.8L534.1 105L527.7 101.5L521.3 107.2Z" fill="#70fc6d" stroke="#015500"/><path d="M540.5 108.7L546.9 103L540.5 99.3L534.1 105Z" fill="#7afc6d" stroke="#075500"/><path d="M553.3 106.9L559.7 101.4L553.4 97.5L546.9 103Z" fill="#83fc6e" stroke="#0c5500"/><path d="M566.1 105.5L572.6 100.1L566.2 96L559.7 101.4Z" fill="#89fc6e" stroke="#105500"/><path d="M578.9 104.4L585.4 99.1L579.1 94.8L572.6 100.1Z" fill="#8efc6e" stroke="#135500"/><path d="M591.7 103.6L598.2 98.6L591.9 94.1L585.4 99.1Z" fill="#91fc6f" stroke="#145500"/><path d="M604.6 103.3L611.1 98.4L604.7 93.7L598.2 98.6Z" fill="#91fc6f" stroke="#145500"/><path d="M617.4 103.4L623.9 98.7L617.6 93.8L611.1 98.4Z" fill="#8efc6e" stroke="#135500"/><path d="M630.2 103.9L636.7 99.5L630.4 94.4L623.9 98.7Z" fill="#8afc6e" stroke="#105500"/><path d="M420.5 139.9L426.7 134.5L420.4 132.6L414.2 137.9Z" fill="#6dfcf9" stroke="#005553"/><path d="M433 136.7L439.2 131L432.9 128.9L426.7 134.5Z" fill="#6dfce6" stroke="#005548"/><path d="M445.5 133.4L451.7 127.7L445.4 125.4L439.2 131Z" fill="#6dfcd4" stroke="#00553d"/><path d="M458 130.3L464.3 124.5L458 122L451.7 127.7Z" fill="#6dfcc3" stroke="#005533"/><path d="M470.6 127.3L476.9 121.4L470.6 118.6L464.3 124.5Z" fill="#6dfcb2" stroke="#005529"/><path d="M483.2 124.4L489.5 118.4L483.2 115.5L476.9 121.4Z" fill="#6dfca3" stroke="#005520"/><path d="M495.9 121.6L502.2 115.6L495.9 112.5L489.5 118.4Z" fill="#6dfc94" stroke="#005517"/><path d="M508.6 119L515 113.1L508.6 109.8L502.2 115.6Z" fill="#6dfc87" stroke="#00550f"/><path d="M521.3 116.7L527.7 110.8L521.3 107.2L515 113.1Z" fill="#6dfc7b" stroke="#005508"/><path d="M534.1 114.5L540.5 108.7L534.1 105L527.7 110.8Z" fill="#6dfc71" stroke="#005502"/><path d="M546.8 112.7L553.3 106.9L546.9 103L540.5 108.7Z" fill="#72fc6d" stroke="#025500"/><path d="M559.6 111.1L566.1 105.5L559.7 101.4L553.3 106.9Z" fill="#79fc6d" stroke="#075500"/><path d="M572.4 109.9L578.9 104.4L572.6 100.1L566.1 105.5Z" fill="#7efc6d" stroke="#0a5500"/><path d="M585.3 109L591.7 103.6L585.4 99.1L578.9 104.4Z" fill="#82fc6e" stroke="#0c5500"/><path d="M598.1 108.4L604.6 103.3L598.2 98.6L591.7 103.6Z" fill="#83fc6e" stroke="#0c5500"/><path d="M610.9 108.3L617.4 103.4L611.1 98.4L604.6 103.3Z" fill="#82fc6e" stroke="#0c5500"/><path d="M623.6 108.5L630.2 103.9L623.9 98.7L617.4 103.4Z" fill="#7ffc6d" stroke="#0a5500"/><path d="M426.8 142.2L433 136.7L426.7 134.5L420.5 139.9Z" fill="#6dfcf7" stroke="#005552"/><path d="M439.2 139.2L445.5 133.4L439.2 131L433 136.7Z" fill="#6dfce5" stroke="#005547"/><path d="M451.8 136.1L458 130.3L451.7 127.7L445.5 133.4Z" fill="#6dfcd4" stroke="#00553d"/><path d="M464.3 133.2L470.6 127.3L464.3 124.5L458 130.3Z" fill="#6dfcc4" stroke="#005534"/><path d="M476.9 130.3L483.2 124.4L476.9 121.4L470.6 127.3Z" fill="#6dfcb5" stroke="#00552b"/><path d="M489.6 127.6L495.9 121.6L489.5 118.4L483.2 124.4Z" fill="#6dfca6" stroke="#005522"/><path d="M502.2 125.1L508.6 119L502.2 115.6L495.9 121.6Z" fill="#6dfc99" stroke="#00551a"/><path d="M514.9 122.7L521.3 116.7L515 113.1L508.6 119Z" fill="#6dfc8d" stroke="#005513"/><path d="M527.7 120.5L534.1 114.5L527.7 110.8L521.3 116.7Z" fill="#6dfc82" stroke="#00550c"/><path d="M540.4 118.6L546.8 112.7L540.5 108.7L534.1 114.5Z" fill="#6dfc79" stroke="#005507"/><path d="M553.2 116.9L559.6 111.1L553.3 106.9L546.8 112.7Z" fill="#6dfc72" stroke="#005502"/><path d="M566 115.5L572.4 109.9L566.1 105.5L559.6 111.1Z" fill="#6efc6d" stroke="#005500"/><path d="M578.8 114.5L585.3 109L578.9 104.4L572.4 109.9Z" fill="#73fc6d" stroke="#035500"/><path d="M591.6 113.8L598.1 108.4L591.7 103.6L585.3 109Z" fill="#75fc6d" stroke="#045500"/><path d="M604.4 113.4L610.9 108.3L604.6 103.3L598.1 108.4Z" fill="#75fc6d" stroke="#045500"/><path d="M617.1 113.5L623.6 108.5L617.4 103.4L610.9 108.3Z" fill="#73fc6d" stroke="#035500"/><path d="M433 144.8L439.2 139.2L433 136.7L426.8 142.2Z" fill="#6dfcf6" stroke="#005552"/><path d="M445.5 141.9L451.8 136.1L445.5 133.4L439.2 139.2Z" fill="#6dfce6" stroke="#005548"/><path d="M458.1 139.1L464.3 133.2L458 130.3L451.8 136.1Z" fill="#6dfcd6" stroke="#00553e"/><path d="M470.7 136.3L476.9 130.3L470.6 127.3L464.3 133.2Z" fill="#6dfcc7" stroke="#005535"/><path d="M483.3 133.7L489.6 127.6L483.2 124.4L476.9 130.3Z" fill="#6dfcb9" stroke="#00552d"/><path d="M495.9 131.1L502.2 125.1L495.9 121.6L489.6 127.6Z" fill="#6dfcab" stroke="#005525"/><path d="M508.6 128.8L514.9 122.7L508.6 119L502.2 125.1Z" fill="#6dfc9f" stroke="#00551d"/><path d="M521.3 126.6L527.7 120.5L521.3 116.7L514.9 122.7Z" fill="#6dfc94" stroke="#005517"/><path d="M534 124.6L540.4 118.6L534.1 114.5L527.7 120.5Z" fill="#6dfc8a" stroke="#005511"/><path d="M546.8 122.9L553.2 116.9L546.8 112.7L540.4 118.6Z" fill="#6dfc82" stroke="#00550c"/><path d="M559.5 121.4L566 115.5L559.6 111.1L553.2 116.9Z" fill="#6dfc7c" stroke="#005508"/><path d="M572.3 120.2L578.8 114.5L572.4 109.9L566 115.5Z" fill="#6dfc77" stroke="#005505"/><path d="M585.1 119.3L591.6 113.8L585.3 109L578.8 114.5Z" fill="#6dfc74" stroke="#005504"/><path d="M597.9 118.8L604.4 113.4L598.1 108.4L591.6 113.8Z" fill="#6dfc73" stroke="#005503"/><path d="M610.6 118.7L617.1 113.5L610.9 108.3L604.4 113.4Z" fill="#6dfc73" stroke="#005503"/><path d="M439.3 147.7L445.5 141.9L439.2 139.2L433 144.8Z" fill="#6dfcf6" stroke="#005552"/><path d="M451.8 145L458.1 139.1L451.8 136.1L445.5 141.9Z" fill="#6dfce7" stroke="#005549"/><path d="M464.4 142.3L470.7 136.3L464.3 133.2L458.1 139.1Z" fill="#6dfcd9" stroke="#005540"/><path d="M477 139.8L483.3 133.7L476.9 130.3L470.7 136.3Z" fill="#6dfccb" stroke="#005538"/><path d="M489.6 137.3L495.9 131.1L489.6 127.6L483.3 133.7Z" fill="#6dfcbd" stroke="#00552f"/><path d="M502.3 134.9L508.6 128.8L502.2 125.1L495.9 131.1Z" fill="#6dfcb1" stroke="#005528"/><path d="M514.9 132.8L521.3 126.6L514.9 122.7L508.6 128.8Z" fill="#6dfca6" stroke="#005522"/><path d="M527.6 130.7L534 124.6L527.7 120.5L521.3 126.6Z" fill="#6dfc9c" stroke="#00551c"/><path d="M540.4 129L546.8 122.9L540.4 118.6L534 124.6Z" fill="#6dfc94" stroke="#005517"/><path d="M553.1 127.4L559.5 121.4L553.2 116.9L546.8 122.9Z" fill="#6dfc8d" stroke="#005513"/><path d="M565.9 126.1L572.3 120.2L566 115.5L559.5 121.4Z" fill="#6dfc87" stroke="#00550f"/><path d="M578.6 125.1L585.1 119.3L578.8 114.5L572.3 120.2Z" fill="#6dfc83" stroke="#00550d"/><path d="M591.4 124.4L597.9 118.8L591.6 113.8L585.1 119.3Z" fill="#6dfc81" stroke="#00550b"/><path d="M604.1 124.1L610.6 118.7L604.4 113.4L597.9 118.8Z" fill="#6dfc81" stroke="#00550b"/><path d="M445.6 150.8L451.8 145L445.5 141.9L439.3 147.7Z" fill="#6dfcf8" stroke="#005553"/><path d="M458.2 148.3L464.4 142.3L458.1 139.1L451.8 145Z" fill="#6dfcea" stroke="#00554a"/><path d="M470.7 145.9L477 139.8L470.7 136.3L464.4 142.3Z" fill="#6dfcdc" stroke="#005542"/><path d="M483.3 143.5L489.6 137.3L483.3 133.7L477 139.8Z" fill="#6dfcd0" stroke="#00553b"/><path d="M495.9 141.2L502.3 134.9L495.9 131.1L489.6 137.3Z" fill="#6dfcc4" stroke="#005534"/><path d="M508.6 139L514.9 132.8L508.6 128.8L502.3 134.9Z" fill="#6dfcb8" stroke="#00552c"/><path d="M521.3 137L527.6 130.7L521.3 126.6L514.9 132.8Z" fill="#6dfcae" stroke="#005526"/><path d="M534 135.2L540.4 129L534 124.6L527.6 130.7Z" fill="#6dfca6" stroke="#005522"/><path d="M546.7 133.5L553.1 127.4L546.8 122.9L540.4 129Z" fill="#6dfc9e" stroke="#00551d"/><path d="M559.4 132.2L565.9 126.1L559.5 121.4L553.1 127.4Z" fill="#6dfc98" stroke="#005519"/><path d="M572.2 131L578.6 125.1L572.3 120.2L565.9 126.1Z" fill="#6dfc93" stroke="#005516"/><path d="M584.9 130.2L591.4 124.4L585.1 119.3L578.6 125.1Z" fill="#6dfc90" stroke="#005514"/><path d="M597.7 129.7L604.1 124.1L597.9 118.8L591.4 124.4Z" fill="#6dfc8f" stroke="#005514"/><path d="M451.9 154.3L458.2 148.3L451.8 145L445.6 150.8Z" fill="#6dfcfb" stroke="#005555"/><path d="M464.5 151.9L470.7 145.9L464.4 142.3L458.2 148.3Z" fill="#6dfcee" stroke="#00554d"/><path d="M477 149.6L483.3 143.5L477 139.8L470.7 145.9Z" fill="#6dfce2" stroke="#005546"/><path d="M489.6 147.4L495.9 141.2L489.6 137.3L483.3 143.5Z" fill="#6dfcd6" stroke="#00553e"/><path d="M502.3 145.3L508.6 139L502.3 134.9L495.9 141.2Z" fill="#6dfccb" stroke="#005538"/><path d="M514.9 143.3L521.3 137L514.9 132.8L508.6 139Z" fill="#6dfcc1" stroke="#005532"/><path d="M527.6 141.4L534 135.2L527.6 130.7L521.3 137Z" fill="#6dfcb8" stroke="#00552c"/><path d="M540.3 139.8L546.7 133.5L540.4 129L534 135.2Z" fill="#6dfcb0" stroke="#005528"/><path d="M553 138.3L559.4 132.2L553.1 127.4L546.7 133.5Z" fill="#6dfca9" stroke="#005523"/><path d="M565.7 137.1L572.2 131L565.9 126.1L559.4 132.2Z" fill="#6dfca4" stroke="#005520"/><path d="M578.5 136.2L584.9 130.2L578.6 125.1L572.2 131Z" fill="#6dfca1" stroke="#00551f"/><path d="M591.2 135.5L597.7 129.7L591.4 124.4L584.9 130.2Z" fill="#6dfc9f" stroke="#00551d"/><path d="M458.2 158L464.5 151.9L458.2 148.3L451.9 154.3Z" fill="#6df9fc" stroke="#005355"/><path d="M470.8 155.8L477 149.6L470.7 145.9L464.5 151.9Z" fill="#6dfcf3" stroke="#005550"/><path d="M483.3 153.7L489.6 147.4L483.3 143.5L477 149.6Z" fill="#6dfce8" stroke="#005549"/><path d="M496 151.6L502.3 145.3L495.9 141.2L489.6 147.4Z" fill="#6dfcdd" stroke="#005543"/><path d="M508.6 149.6L514.9 143.3L508.6 139L502.3 145.3Z" fill="#6dfcd3" stroke="#00553d"/><path d="M521.2 147.8L527.6 141.4L521.3 137L514.9 143.3Z" fill="#6dfcca" stroke="#005537"/><path d="M533.9 146.1L540.3 139.8L534 135.2L527.6 141.4Z" fill="#6dfcc2" stroke="#005532"/><path d="M546.6 144.7L553 138.3L546.7 133.5L540.3 139.8Z" fill="#6dfcbb" stroke="#00552e"/><path d="M559.3 143.4L565.7 137.1L559.4 132.2L553 138.3Z" fill="#6dfcb6" stroke="#00552b"/><path d="M572 142.3L578.5 136.2L572.2 131L565.7 137.1Z" fill="#6dfcb1" stroke="#005528"/><path d="M584.7 141.6L591.2 135.5L584.9 130.2L578.5 136.2Z" fill="#6dfcaf" stroke="#005527"/><path d="M464.5 161.9L470.8 155.8L464.5 151.9L458.2 158Z" fill="#6df4fc" stroke="#005055"/><path d="M477.1 159.9L483.3 153.7L477 149.6L470.8 155.8Z" fill="#6dfcfa" stroke="#005554"/><path d="M489.7 157.9L496 151.6L489.6 147.4L483.3 153.7Z" fill="#6dfcef" stroke="#00554d"/><path d="M502.3 156L508.6 149.6L502.3 145.3L496 151.6Z" fill="#6dfce6" stroke="#005548"/><path d="M514.9 154.2L521.2 147.8L514.9 143.3L508.6 149.6Z" fill="#6dfcdc" stroke="#005542"/><path d="M527.5 152.6L533.9 146.1L527.6 141.4L521.2 147.8Z" fill="#6dfcd4" stroke="#00553d"/><path d="M540.2 151.1L546.6 144.7L540.3 139.8L533.9 146.1Z" fill="#6dfccd" stroke="#005539"/><path d="M552.9 149.7L559.3 143.4L553 138.3L546.6 144.7Z" fill="#6dfcc7" stroke="#005535"/><path d="M565.6 148.6L572 142.3L565.7 137.1L559.3 143.4Z" fill="#6dfcc3" stroke="#005533"/><path d="M578.3 147.7L584.7 141.6L578.5 136.2L572 142.3Z" fill="#6dfcbf" stroke="#005531"/><path d="M470.8 166.1L477.1 159.9L470.8 155.8L464.5 161.9Z" fill="#6dedfc" stroke="#004c55"/><path d="M483.4 164.2L489.7 157.9L483.3 153.7L477.1 159.9Z" fill="#6df7fc" stroke="#005255"/><path d="M496 162.4L502.3 156L496 151.6L489.7 157.9Z" fill="#6dfcf8" stroke="#005553"/><path d="M508.6 160.7L514.9 154.2L508.6 149.6L502.3 156Z" fill="#6dfcef" stroke="#00554d"/><path d="M521.2 159.1L527.5 152.6L521.2 147.8L514.9 154.2Z" fill="#6dfce7" stroke="#005549"/><path d="M533.8 157.6L540.2 151.1L533.9 146.1L527.5 152.6Z" fill="#6dfce0" stroke="#005544"/><path d="M546.5 156.2L552.9 149.7L546.6 144.7L540.2 151.1Z" fill="#6dfcd9" stroke="#005540"/><path d="M559.2 155L565.6 148.6L559.3 143.4L552.9 149.7Z" fill="#6dfcd4" stroke="#00553d"/><path d="M571.9 154.1L578.3 147.7L572 142.3L565.6 148.6Z" fill="#6dfcd1" stroke="#00553b"/><path d="M477.1 170.5L483.4 164.2L477.1 159.9L470.8 166.1Z" fill="#6de6fc" stroke="#004855"/><path d="M489.7 168.8L496 162.4L489.7 157.9L483.4 164.2Z" fill="#6deffc" stroke="#004d55"/><path d="M502.3 167.2L508.6 160.7L502.3 156L496 162.4Z" fill="#6df8fc" stroke="#005355"/><path d="M514.9 165.6L521.2 159.1L514.9 154.2L508.6 160.7Z" fill="#6dfcf9" stroke="#005553"/><path d="M527.5 164.1L533.8 157.6L527.5 152.6L521.2 159.1Z" fill="#6dfcf2" stroke="#00554f"/><path d="M540.1 162.8L546.5 156.2L540.2 151.1L533.8 157.6Z" fill="#6dfcec" stroke="#00554c"/><path d="M552.8 161.6L559.2 155L552.9 149.7L546.5 156.2Z" fill="#6dfce6" stroke="#005548"/><path d="M565.4 160.5L571.9 154.1L565.6 148.6L559.2 155Z" fill="#6dfce2" stroke="#005546"/><path d="M483.4 175.2L489.7 168.8L483.4 164.2L477.1 170.5Z" fill="#6dddfc" stroke="#004355"/><path d="M496 173.7L502.3 167.2L496 162.4L489.7 168.8Z" fill="#6de5fc" stroke="#004755"/><path d="M508.6 172.2L514.9 165.6L508.6 160.7L502.3 167.2Z" fill="#6dedfc" stroke="#004c55"/><path d="M521.2 170.7L527.5 164.1L521.2 159.1L514.9 165.6Z" fill="#6df4fc" stroke="#005055"/><path d="M533.8 169.4L540.1 162.8L533.8 157.6L527.5 164.1Z" fill="#6dfbfc" stroke="#005555"/><path d="M546.4 168.2L552.8 161.6L546.5 156.2L540.1 162.8Z" fill="#6dfcf9" stroke="#005553"/><path d="M559 167.1L565.4 160.5L559.2 155L552.8 161.6Z" fill="#6dfcf4" stroke="#005550"/><path d="M489.7 180.1L496 173.7L489.7 168.8L483.4 175.2Z" fill="#6dd4fc" stroke="#003d55"/><path d="M502.3 178.7L508.6 172.2L502.3 167.2L496 173.7Z" fill="#6ddbfc" stroke="#004155"/><path d="M514.8 177.3L521.2 170.7L514.9 165.6L508.6 172.2Z" fill="#6de2fc" stroke="#004655"/><path d="M527.4 176.1L533.8 169.4L527.5 164.1L521.2 170.7Z" fill="#6de8fc" stroke="#004955"/><path d="M540 174.9L546.4 168.2L540.1 162.8L533.8 169.4Z" fill="#6deefc" stroke="#004d55"/><path d="M552.7 173.8L559 167.1L552.8 161.6L546.4 168.2Z" fill="#6df2fc" stroke="#004f55"/><path d="M496 185.2L502.3 178.7L496 173.7L489.7 180.1Z" fill="#6dc9fc" stroke="#003755"/><path d="M508.6 184L514.8 177.3L508.6 172.2L502.3 178.7Z" fill="#6dd0fc" stroke="#003b55"/><path d="M521.1 182.7L527.4 176.1L521.2 170.7L514.8 177.3Z" fill="#6dd6fc" stroke="#003e55"/><path d="M533.7 181.6L540 174.9L533.8 169.4L527.4 176.1Z" fill="#6ddbfc" stroke="#004155"/><path d="M546.3 180.5L552.7 173.8L546.4 168.2L540 174.9Z" fill="#6de0fc" stroke="#004455"/><path d="M502.3 190.6L508.6 184L502.3 178.7L496 185.2Z" fill="#6dbefc" stroke="#003055"/><path d="M514.8 189.4L521.1 182.7L514.8 177.3L508.6 184Z" fill="#6dc4fc" stroke="#003455"/><path d="M527.4 188.3L533.7 181.6L527.4 176.1L521.1 182.7Z" fill="#6dc9fc" stroke="#003755"/><path d="M540 187.3L546.3 180.5L540 174.9L533.7 181.6Z" fill="#6dcefc" stroke="#003a55"/><path d="M508.5 196.1L514.8 189.4L508.6 184L502.3 190.6Z" fill="#6db2fc" stroke="#002955"/><path d="M521.1 195.1L527.4 188.3L521.1 182.7L514.8 189.4Z" fill="#6db7fc" stroke="#002c55"/><path d="M533.6 194.1L540 187.3L533.7 181.6L527.4 188.3Z" fill="#6dbbfc" stroke="#002e55"/><path d="M514.8 201.8L521.1 195.1L514.8 189.4L508.5 196.1Z" fill="#6da5fc" stroke="#002155"/><path d="M527.3 200.9L533.6 194.1L527.4 188.3L521.1 195.1Z" fill="#6da9fc" stroke="#002355"/><path d="M521 207.7L527.3 200.9L521.1 195.1L514.8 201.8Z" fill="#6d97fc" stroke="#001955"/></g>
<path d="M98 453.6L93.2 331.7 M129.2 443.4L126.1 324.4 M160.4 433.2L159 317.2 M285.6 454L290.9 332 M254.3 443.7L257.9 324.7 M222.9 433.3L224.9 317.4 M66.8 463.7L191.6 423 M191.6 423L317 464.3 M65.7 442.9L191.6 404.2 M191.6 404.2L318.2 443.5 M64.7 422.2L191.7 385.4 M191.7 385.4L319.3 422.7 M63.6 401.4L191.7 366.6 M191.7 366.6L320.5 401.9 M62.5 380.6L191.7 347.7 M191.7 347.7L321.7 381.1 M61.5 359.8L191.8 328.9 M191.8 328.9L322.8 360.3 M60.4 339L191.8 310.1 M191.8 310.1L324 339.5" stroke="#1a1a1a" stroke-width="1.15" fill="none"/>
<path d="M68.8 503L60.4 338.9 M191.5 458.6L191.8 310 M314.8 503.6L324 339.4 M60.4 338.9L191.8 310 M191.8 310L324 339.4" stroke="#111" stroke-width="1.1" fill="none"/>
<g fill="#111"><circle cx="66.8" cy="463.7" r="1.3"/><circle cx="65.7" cy="442.9" r="1.3"/><circle cx="64.7" cy="422.2" r="1.3"/><circle cx="63.6" cy="401.4" r="1.3"/><circle cx="62.5" cy="380.6" r="1.3"/><circle cx="61.5" cy="359.8" r="1.3"/><circle cx="60.4" cy="339" r="1.3"/></g>
<polygon points="191.8,560 314.8,503.6 191.5,458.6 68.8,503" fill="#666" stroke="#0d0d0d" stroke-width="1.4" stroke-linejoin="round"/>
<path d="M286.9 516.4L289.1 514.7L290.8 513.2L292.7 511.7L294.9 509.6L296.4 508.1L297.8 506.6L299.2 505L300.5 503.5L301.7 501.9L302.9 500.3L303.4 499.4" stroke="#59cade" stroke-width="1.8" fill="none"/>
<path d="M165.2 547.7L168.5 547.8L173.1 548L175.7 548L180.4 548L183.5 547.9L187.3 547.8L191.7 547.5L194.9 547.3L198 547L202.1 546.6L206 546.1L209.8 545.6L213.5 545L217.1 544.4L220.7 543.7L224.1 543L228.9 541.9L232.4 541L234.3 540.5" stroke="#59cade" stroke-width="1.8" fill="none"/>
<path d="M72.8 501.6L73.2 503L73.7 504.3L74.1 505.5" stroke="#59cade" stroke-width="1.8" fill="none"/>
<path d="M139.5 535.7L143.1 536.5L146.7 537.2L150.4 537.9L154.2 538.4L158.2 538.9L161.3 539.2L164.6 539.5L169.1 539.8L172.4 539.9L176.3 539.9L179.9 539.9L184.1 539.8L186.9 539.7L191.1 539.5L195.3 539.2L199 538.8L202.4 538.4L206 537.9L209.8 537.3L213.9 536.6L217.7 535.8L221.1 535.1L224.3 534.3L229.1 533L232.1 532.1L236.5 530.8L239.4 529.8L243.5 528.3L247.5 526.7L251.3 525L254.9 523.3L258.4 521.5L261.7 519.7L264 518.4L266.9 516.5L269.2 515L271.7 513.2L273.5 511.8L275.6 510L277.7 508.2L279.2 506.7L280.6 505.2L282 503.7L283.3 502.1L284.5 500.6L285.6 498.9L286.6 497.3L287.6 495.6L288.3 494.2L288.4 494" stroke="#59dec0" stroke-width="1.8" fill="none"/>
<path d="M87.7 496.2L87.9 497.5L88.1 499L88.6 500.8L89 502L89.5 503.6L90.3 505.4L91.2 507.1L92.2 508.6L93.2 510.1L94.4 511.7L95.9 513.5L97.5 515.1L99.1 516.6L99.9 517.4" stroke="#59dec0" stroke-width="1.8" fill="none"/>
<path d="M107.7 488.9L107.4 490.1L107.1 492L107 493.1L107 495L107.1 496.1L107.4 498L107.8 499.3L108.2 500.7L109 502.5L109.8 504.2L110.8 505.7L111.8 507.2L113.1 508.9L114.8 510.6L116.3 512.1L118 513.5L120.2 515.2L122.8 516.9L126 518.8L128.3 520L132 521.7L134.6 522.7L138.8 524.2L143.3 525.6L146.5 526.5L149.8 527.2L153.3 527.9L157 528.6L160.8 529.1L164.9 529.6L169.2 529.9L172.4 530.1L176.2 530.2L180.1 530.2L183.9 530.1L187 530L191.2 529.7L195.3 529.4L199.2 528.9L202.9 528.4L206.6 527.8L210.1 527.1L213.4 526.4L216.6 525.6L221.3 524.4L224.2 523.5L228.5 522L232.5 520.5L236.4 519L240 517.3L243.5 515.5L246.7 513.7L248.8 512.4L251.7 510.5L253.6 509.2L255.8 507.4L257.8 505.7L259.3 504.2L260.8 502.7L262.1 501.2L263.4 499.7L264.5 498.1L265.5 496.5L266.4 494.8L267 493.4L267.5 492.2L268.1 490.5L268.4 488.9L268.6 487.7L268.7 486.8" stroke="#59de8e" stroke-width="1.8" fill="none"/>
<path d="M210.4 512.5L214.6 511.1L218.4 509.5L221.9 507.9L224.7 506.4L227.2 504.9L229.2 503.5L231.6 501.5L233.1 500.1L234.5 498.6L235.8 497.1L236.8 495.5L237.7 493.9L238.3 492.6L238.7 491.3L239.1 489.5L239.2 488.3L239.1 486.5L238.9 485.5L238.4 483.7L237.7 482.1L237 480.9L236.1 479.6L234.9 478.2L233.3 476.7L231.3 475.1L229.5 473.9L226.8 472.4L224.2 471.2L220.6 469.8L216.6 468.5L213.6 467.8L209.5 467L205.3 466.3L201.7 466L198.6 465.7L194.8 465.6L190.8 465.6L187 465.7L184 465.9L180.2 466.2L176.6 466.7L172.2 467.4L168.4 468.2L165.4 468.9L161.3 470.1L157.4 471.4L153.8 472.8L150.5 474.3L148.5 475.4L145.6 477.1L143.8 478.2L142.2 479.5L140.5 480.9L139 482.4L137.7 483.8L136.7 485.2L135.8 486.5L135 488.2L134.4 489.9L134.1 491.1L133.9 492.6L133.9 494.1L134.1 495.7L134.4 497L135 498.7L135.9 500.4L136.9 501.9L138.2 503.5L139.8 505L141.4 506.4L143.3 507.8L146.4 509.6L150 511.3L154 512.8L157.2 513.8L161.7 514.9L165.2 515.6L169 516.1L173.1 516.6L176 516.7L180 516.8L183.5 516.8L187.9 516.6L191.3 516.3L194.8 515.9L198.7 515.3L202.8 514.5L206 513.7L210 512.6L210.4 512.5" stroke="#59de5d" stroke-width="1.8" fill="none"/>
<g fill="#111"><circle cx="191.8" cy="560" r="1.3"/><circle cx="222.6" cy="545.9" r="1.3"/><circle cx="253.3" cy="531.8" r="1.3"/><circle cx="284.1" cy="517.7" r="1.3"/><circle cx="314.8" cy="503.6" r="1.3"/><circle cx="191.8" cy="560" r="1.3"/><circle cx="161.1" cy="545.8" r="1.3"/><circle cx="130.3" cy="531.5" r="1.3"/><circle cx="99.5" cy="517.2" r="1.3"/><circle cx="68.8" cy="503" r="1.3"/></g>
<g stroke-width="0.85" stroke-linejoin="round"><path d="M191.7 380.6L198.1 380L191.7 379.5L185.3 380.2Z" fill="#53c062" stroke="#004108"/><path d="M185.3 381.4L191.7 380.6L185.3 380.2L178.9 381Z" fill="#55c35f" stroke="#004206"/><path d="M198.1 381.3L204.5 380.8L198.1 380L191.7 380.6Z" fill="#56c65f" stroke="#004305"/><path d="M178.9 382.3L185.3 381.4L178.9 381L172.5 382.1Z" fill="#56c75c" stroke="#004303"/><path d="M191.7 382L198.1 381.3L191.7 380.6L185.3 381.4Z" fill="#57c95b" stroke="#004402"/><path d="M204.5 382.3L210.9 381.9L204.5 380.8L198.1 381.3Z" fill="#58cc5e" stroke="#004503"/><path d="M172.6 383.6L178.9 382.3L172.5 382.1L166.2 383.4Z" fill="#58cb5b" stroke="#004501"/><path d="M185.4 382.9L191.7 382L185.3 381.4L178.9 382.3Z" fill="#5acd59" stroke="#004500"/><path d="M198.2 383L204.5 382.3L198.1 381.3L191.7 382Z" fill="#5bcf5a" stroke="#004600"/><path d="M211 383.7L217.3 383.3L210.9 381.9L204.5 382.3Z" fill="#5bd15d" stroke="#004701"/><path d="M166.2 385L172.6 383.6L166.2 383.4L159.8 384.9Z" fill="#59ce5a" stroke="#004600"/><path d="M179 384.1L185.4 382.9L178.9 382.3L172.6 383.6Z" fill="#5fd15a" stroke="#024700"/><path d="M191.8 383.8L198.2 383L191.7 382L185.4 382.9Z" fill="#62d35b" stroke="#044700"/><path d="M204.6 384.2L211 383.7L204.5 382.3L198.2 383Z" fill="#61d55c" stroke="#024800"/><path d="M217.4 385.3L223.7 385L217.3 383.3L211 383.7Z" fill="#5dd75e" stroke="#004900"/><path d="M159.8 386.7L166.2 385L159.8 384.9L153.4 386.6Z" fill="#5bd25b" stroke="#004700"/><path d="M172.6 385.4L179 384.1L172.6 383.6L166.2 385Z" fill="#64d55c" stroke="#044800"/><path d="M185.4 384.9L191.8 383.8L185.4 382.9L179 384.1Z" fill="#68d75d" stroke="#064900"/><path d="M198.2 385L204.6 384.2L198.2 383L191.8 383.8Z" fill="#69da5e" stroke="#064a00"/><path d="M211 385.8L217.4 385.3L211 383.7L204.6 384.2Z" fill="#66db5f" stroke="#044a00"/><path d="M223.8 387.2L230.1 387L223.7 385L217.4 385.3Z" fill="#60dd60" stroke="#004b00"/><path d="M153.4 388.6L159.8 386.7L153.4 386.6L147 388.7Z" fill="#5dd65d" stroke="#004800"/><path d="M166.2 387L172.6 385.4L166.2 385L159.8 386.7Z" fill="#67d95e" stroke="#054900"/><path d="M179 386.2L185.4 384.9L179 384.1L172.6 385.4Z" fill="#6edc5f" stroke="#084a00"/><path d="M191.8 386L198.2 385L191.8 383.8L185.4 384.9Z" fill="#70de61" stroke="#094b00"/><path d="M204.6 386.5L211 385.8L204.6 384.2L198.2 385Z" fill="#6fe061" stroke="#084c00"/><path d="M217.4 387.6L223.8 387.2L217.4 385.3L211 385.8Z" fill="#6ae262" stroke="#044c00"/><path d="M230.2 389.4L236.5 389.2L230.1 387L223.8 387.2Z" fill="#62e364" stroke="#004d01"/><path d="M147 390.8L153.4 388.6L147 388.7L140.7 390.9Z" fill="#5eda60" stroke="#004a01"/><path d="M159.8 388.9L166.2 387L159.8 386.7L153.4 388.6Z" fill="#69dd60" stroke="#054b00"/><path d="M172.6 387.7L179 386.2L172.6 385.4L166.2 387Z" fill="#72e062" stroke="#094c00"/><path d="M185.4 387.2L191.8 386L185.4 384.9L179 386.2Z" fill="#77e263" stroke="#0c4c00"/><path d="M198.2 387.4L204.6 386.5L198.2 385L191.8 386Z" fill="#77e564" stroke="#0b4d00"/><path d="M211 388.3L217.4 387.6L211 385.8L204.6 386.5Z" fill="#73e664" stroke="#094e00"/><path d="M223.8 389.8L230.2 389.4L223.8 387.2L217.4 387.6Z" fill="#6be864" stroke="#044e00"/><path d="M236.6 392L242.9 391.8L236.5 389.2L230.2 389.4Z" fill="#65e96a" stroke="#004f03"/><path d="M140.7 393.3L147 390.8L140.7 390.9L134.3 393.5Z" fill="#60de64" stroke="#004b02"/><path d="M153.4 391.1L159.8 388.9L153.4 388.6L147 390.8Z" fill="#6ae162" stroke="#044c00"/><path d="M166.2 389.5L172.6 387.7L166.2 387L159.8 388.9Z" fill="#75e464" stroke="#0a4d00"/><path d="M179 388.7L185.4 387.2L179 386.2L172.6 387.7Z" fill="#7ce765" stroke="#0d4e00"/><path d="M191.8 388.6L198.2 387.4L191.8 386L185.4 387.2Z" fill="#7ee966" stroke="#0e4f00"/><path d="M204.7 389.2L211 388.3L204.6 386.5L198.2 387.4Z" fill="#7beb67" stroke="#0c4f00"/><path d="M217.5 390.5L223.8 389.8L217.4 387.6L211 388.3Z" fill="#75ec66" stroke="#085000"/><path d="M230.2 392.4L236.6 392L230.2 389.4L223.8 389.8Z" fill="#6bee67" stroke="#025000"/><path d="M243 394.9L249.3 394.8L242.9 391.8L236.6 392Z" fill="#67ed71" stroke="#005006"/><path d="M134.3 396.1L140.7 393.3L134.3 393.5L128 396.3Z" fill="#62e26b" stroke="#004c05"/><path d="M147 393.5L153.4 391.1L147 390.8L140.7 393.3Z" fill="#69e663" stroke="#034e00"/><path d="M159.8 391.6L166.2 389.5L159.8 388.9L153.4 391.1Z" fill="#76e966" stroke="#094f00"/><path d="M172.6 390.5L179 388.7L172.6 387.7L166.2 389.5Z" fill="#7fec67" stroke="#0e5000"/><path d="M185.4 390.1L191.8 388.6L185.4 387.2L179 388.7Z" fill="#83ee68" stroke="#105000"/><path d="M198.3 390.4L204.7 389.2L198.2 387.4L191.8 388.6Z" fill="#83f069" stroke="#0f5100"/><path d="M211.1 391.3L217.5 390.5L211 388.3L204.7 389.2Z" fill="#7ff269" stroke="#0d5200"/><path d="M223.9 392.9L230.2 392.4L223.8 389.8L217.5 390.5Z" fill="#75f369" stroke="#075200"/><path d="M236.6 395.2L243 394.9L236.6 392L230.2 392.4Z" fill="#69f36a" stroke="#005200"/><path d="M249.4 398.1L255.7 398L249.3 394.8L243 394.9Z" fill="#68f37b" stroke="#00520b"/><path d="M128 399.2L134.3 396.1L128 396.3L121.6 399.5Z" fill="#64e673" stroke="#004e09"/><path d="M140.7 396.2L147 393.5L140.7 393.3L134.3 396.1Z" fill="#67ea65" stroke="#014f00"/><path d="M153.4 394L159.8 391.6L153.4 391.1L147 393.5Z" fill="#76ed67" stroke="#095000"/><path d="M166.2 392.5L172.6 390.5L166.2 389.5L159.8 391.6Z" fill="#81f069" stroke="#0e5100"/><path d="M179 391.8L185.4 390.1L179 388.7L172.6 390.5Z" fill="#88f36a" stroke="#125200"/><path d="M191.9 391.7L198.3 390.4L191.8 388.6L185.4 390.1Z" fill="#8af56b" stroke="#125300"/><path d="M204.7 392.4L211.1 391.3L204.7 389.2L198.3 390.4Z" fill="#87f76c" stroke="#105300"/><path d="M217.5 393.8L223.9 392.9L217.5 390.5L211.1 391.3Z" fill="#7ff86c" stroke="#0b5400"/><path d="M230.3 395.7L236.6 395.2L230.2 392.4L223.9 392.9Z" fill="#73f96c" stroke="#045400"/><path d="M243 398.4L249.4 398.1L243 394.9L236.6 395.2Z" fill="#6cf874" stroke="#005404"/><path d="M255.7 401.6L262 401.6L255.7 398L249.4 398.1Z" fill="#6bf688" stroke="#005311"/><path d="M121.6 402.5L128 399.2L121.6 399.5L115.3 402.9Z" fill="#65ea7d" stroke="#004f0e"/><path d="M134.3 399.2L140.7 396.2L134.3 396.1L128 399.2Z" fill="#67ee6b" stroke="#005002"/><path d="M147.1 396.6L153.4 394L147 393.5L140.7 396.2Z" fill="#74f269" stroke="#065200"/><path d="M159.8 394.8L166.2 392.5L159.8 391.6L153.4 394Z" fill="#81f56b" stroke="#0d5300"/><path d="M172.6 393.7L179 391.8L172.6 390.5L166.2 392.5Z" fill="#8bf86c" stroke="#125400"/><path d="M185.5 393.4L191.9 391.7L185.4 390.1L179 391.8Z" fill="#8ffa6d" stroke="#145500"/><path d="M198.3 393.8L204.7 392.4L198.3 390.4L191.9 391.7Z" fill="#8efc6e" stroke="#135500"/><path d="M211.1 394.8L217.5 393.8L211.1 391.3L204.7 392.4Z" fill="#88fc6e" stroke="#0f5500"/><path d="M223.9 396.5L230.3 395.7L223.9 392.9L217.5 393.8Z" fill="#7dfc6d" stroke="#095500"/><path d="M236.7 398.9L243 398.4L236.6 395.2L230.3 395.7Z" fill="#6efb6d" stroke="#005500"/><path d="M249.4 401.9L255.7 401.6L249.4 398.1L243 398.4Z" fill="#6cf97e" stroke="#00540a"/><path d="M262 405.5L268.3 405.5L262 401.6L255.7 401.6Z" fill="#6af594" stroke="#005319"/><path d="M115.3 406.3L121.6 402.5L115.3 402.9L109 406.7Z" fill="#67ee89" stroke="#005014"/><path d="M128 402.5L134.3 399.2L128 399.2L121.6 402.5Z" fill="#69f374" stroke="#005206"/><path d="M140.7 399.6L147.1 396.6L140.7 396.2L134.3 399.2Z" fill="#70f66b" stroke="#035300"/><path d="M153.5 397.4L159.8 394.8L153.4 394L147.1 396.6Z" fill="#81fa6d" stroke="#0c5500"/><path d="M166.3 396L172.6 393.7L166.2 392.5L159.8 394.8Z" fill="#8bfc6e" stroke="#115500"/><path d="M179.1 395.3L185.5 393.4L179 391.8L172.6 393.7Z" fill="#90fc6f" stroke="#145500"/><path d="M191.9 395.4L198.3 393.8L191.9 391.7L185.5 393.4Z" fill="#90fc6f" stroke="#145500"/><path d="M204.7 396.1L211.1 394.8L204.7 392.4L198.3 393.8Z" fill="#8cfc6e" stroke="#125500"/><path d="M217.5 397.6L223.9 396.5L217.5 393.8L211.1 394.8Z" fill="#83fc6e" stroke="#0c5500"/><path d="M230.3 399.7L236.7 398.9L230.3 395.7L223.9 396.5Z" fill="#77fc6d" stroke="#055500"/><path d="M243 402.4L249.4 401.9L243 398.4L236.7 398.9Z" fill="#6cfa74" stroke="#005504"/><path d="M255.7 405.8L262 405.5L255.7 401.6L249.4 401.9Z" fill="#6bf788" stroke="#005311"/><path d="M268.4 409.7L274.6 409.7L268.3 405.5L262 405.5Z" fill="#68ef9f" stroke="#005121"/><path d="M109 410.3L115.3 406.3L109 406.7L102.7 410.8Z" fill="#69f197" stroke="#00511b"/><path d="M121.6 406.2L128 402.5L121.6 402.5L115.3 406.3Z" fill="#6bf780" stroke="#00530c"/><path d="M134.3 402.8L140.7 399.6L134.3 399.2L128 402.5Z" fill="#6dfb6e" stroke="#005500"/><path d="M147.1 400.3L153.5 397.4L147.1 396.6L140.7 399.6Z" fill="#7cfc6d" stroke="#085500"/><path d="M159.9 398.5L166.3 396L159.8 394.8L153.5 397.4Z" fill="#88fc6e" stroke="#0f5500"/><path d="M172.7 397.5L179.1 395.3L172.6 393.7L166.3 396Z" fill="#8ffc6e" stroke="#135500"/><path d="M185.5 397.3L191.9 395.4L185.5 393.4L179.1 395.3Z" fill="#91fc6f" stroke="#145500"/><path d="M198.3 397.7L204.7 396.1L198.3 393.8L191.9 395.4Z" fill="#8ffc6e" stroke="#135500"/><path d="M211.1 398.8L217.5 397.6L211.1 394.8L204.7 396.1Z" fill="#88fc6e" stroke="#0f5500"/><path d="M223.9 400.7L230.3 399.7L223.9 396.5L217.5 397.6Z" fill="#7dfc6d" stroke="#095500"/><path d="M236.7 403.1L243 402.4L236.7 398.9L230.3 399.7Z" fill="#6efb6d" stroke="#005500"/><path d="M249.4 406.2L255.7 405.8L249.4 401.9L243 402.4Z" fill="#6cf97e" stroke="#00540a"/><path d="M262.1 410L268.4 409.7L262 405.5L255.7 405.8Z" fill="#69f295" stroke="#00521a"/><path d="M274.6 414.3L280.9 414.3L274.6 409.7L268.4 409.7Z" fill="#64e6ac" stroke="#004e2b"/><path d="M102.8 414.7L109 410.3L102.7 410.8L96.5 415.2Z" fill="#69f4a7" stroke="#005225"/><path d="M115.3 410.1L121.6 406.2L115.3 406.3L109 410.3Z" fill="#6cfb8d" stroke="#005513"/><path d="M128 406.4L134.3 402.8L128 402.5L121.6 406.2Z" fill="#6dfc77" stroke="#005505"/><path d="M140.7 403.5L147.1 400.3L140.7 399.6L134.3 402.8Z" fill="#75fc6d" stroke="#045500"/><path d="M153.5 401.4L159.9 398.5L153.5 397.4L147.1 400.3Z" fill="#83fc6e" stroke="#0c5500"/><path d="M166.3 400L172.7 397.5L166.3 396L159.9 398.5Z" fill="#8cfc6e" stroke="#125500"/><path d="M179.1 399.4L185.5 397.3L179.1 395.3L172.7 397.5Z" fill="#91fc6f" stroke="#145500"/><path d="M191.9 399.6L198.3 397.7L191.9 395.4L185.5 397.3Z" fill="#90fc6f" stroke="#145500"/><path d="M204.7 400.4L211.1 398.8L204.7 396.1L198.3 397.7Z" fill="#8cfc6e" stroke="#125500"/><path d="M217.5 401.9L223.9 400.7L217.5 397.6L211.1 398.8Z" fill="#82fc6e" stroke="#0c5500"/><path d="M230.3 404.1L236.7 403.1L230.3 399.7L223.9 400.7Z" fill="#75fc6d" stroke="#045500"/><path d="M243.1 407L249.4 406.2L243 402.4L236.7 403.1Z" fill="#6cfa76" stroke="#005505"/><path d="M255.7 410.4L262.1 410L255.7 405.8L249.4 406.2Z" fill="#6af58b" stroke="#005313"/><path d="M268.4 414.5L274.6 414.3L268.4 409.7L262.1 410Z" fill="#66eaa2" stroke="#004f24"/><path d="M280.9 419.2L287.2 419.2L280.9 414.3L274.6 414.3Z" fill="#5ed8b9" stroke="#004936"/><path d="M96.5 419.4L102.8 414.7L96.5 415.2L90.3 420Z" fill="#69f4b8" stroke="#00522f"/><path d="M109.1 414.5L115.3 410.1L109 410.3L102.8 414.7Z" fill="#6cfa9c" stroke="#00551c"/><path d="M121.7 410.4L128 406.4L121.6 406.2L115.3 410.1Z" fill="#6dfc82" stroke="#00550c"/><path d="M134.4 407.1L140.7 403.5L134.3 402.8L128 406.4Z" fill="#6dfc6e" stroke="#005500"/><path d="M147.1 404.6L153.5 401.4L147.1 400.3L140.7 403.5Z" fill="#7cfc6d" stroke="#085500"/><path d="M159.9 402.9L166.3 400L159.9 398.5L153.5 401.4Z" fill="#87fc6e" stroke="#0f5500"/><path d="M172.7 401.9L179.1 399.4L172.7 397.5L166.3 400Z" fill="#8efc6e" stroke="#135500"/><path d="M185.5 401.7L191.9 399.6L185.5 397.3L179.1 399.4Z" fill="#90fc6e" stroke="#145500"/><path d="M198.3 402.2L204.7 400.4L198.3 397.7L191.9 399.6Z" fill="#8dfc6e" stroke="#125500"/><path d="M211.2 403.4L217.5 401.9L211.1 398.8L204.7 400.4Z" fill="#86fc6e" stroke="#0e5500"/><path d="M223.9 405.4L230.3 404.1L223.9 400.7L217.5 401.9Z" fill="#7afc6d" stroke="#075500"/><path d="M236.7 407.9L243.1 407L236.7 403.1L230.3 404.1Z" fill="#6dfb6f" stroke="#005501"/><path d="M249.4 411.2L255.7 410.4L249.4 406.2L243.1 407Z" fill="#6cf982" stroke="#00540d"/><path d="M262 415L268.4 414.5L262.1 410L255.7 410.4Z" fill="#68f199" stroke="#00511d"/><path d="M274.6 419.5L280.9 419.2L274.6 414.3L268.4 414.5Z" fill="#61dfb0" stroke="#004b2f"/><path d="M287.1 424.5L293.4 424.5L287.2 419.2L280.9 419.2Z" fill="#57c6c2" stroke="#004340"/><path d="M90.3 424.5L96.5 419.4L90.3 420L84.1 425.2Z" fill="#67edc8" stroke="#00503a"/><path d="M102.8 419.1L109.1 414.5L102.8 414.7L96.5 419.4Z" fill="#6bf7aa" stroke="#005325"/><path d="M115.4 414.6L121.7 410.4L115.3 410.1L109.1 414.5Z" fill="#6dfb8f" stroke="#005514"/><path d="M128 410.9L134.4 407.1L128 406.4L121.7 410.4Z" fill="#6dfc78" stroke="#005506"/><path d="M140.7 408.1L147.1 404.6L140.7 403.5L134.4 407.1Z" fill="#73fc6d" stroke="#035500"/><path d="M153.5 406L159.9 402.9L153.5 401.4L147.1 404.6Z" fill="#81fc6e" stroke="#0b5500"/><path d="M166.3 404.7L172.7 401.9L166.3 400L159.9 402.9Z" fill="#8afc6e" stroke="#105500"/><path d="M179.1 404.1L185.5 401.7L179.1 399.4L172.7 401.9Z" fill="#8efc6e" stroke="#135500"/><path d="M191.9 404.3L198.3 402.2L191.9 399.6L185.5 401.7Z" fill="#8dfc6e" stroke="#125500"/><path d="M204.8 405.3L211.2 403.4L204.7 400.4L198.3 402.2Z" fill="#88fc6e" stroke="#0f5500"/><path d="M217.6 406.9L223.9 405.4L217.5 401.9L211.2 403.4Z" fill="#7efc6d" stroke="#0a5500"/><path d="M230.3 409.2L236.7 407.9L230.3 404.1L223.9 405.4Z" fill="#71fc6d" stroke="#025500"/><path d="M243.1 412.1L249.4 411.2L243.1 407L236.7 407.9Z" fill="#6cfb7b" stroke="#005508"/><path d="M255.7 415.7L262 415L255.7 410.4L249.4 411.2Z" fill="#6bf690" stroke="#005316"/><path d="M268.3 419.9L274.6 419.5L268.4 414.5L262 415Z" fill="#65eaa7" stroke="#004f27"/><path d="M280.9 424.8L287.1 424.5L280.9 419.2L274.6 419.5Z" fill="#5cd1bc" stroke="#00473a"/><path d="M293.3 430.1L299.6 430.1L293.4 424.5L287.1 424.5Z" fill="#4fb2c9" stroke="#003744"/><path d="M84.1 430L90.3 424.5L84.1 425.2L77.9 430.7Z" fill="#61ded5" stroke="#004b46"/><path d="M96.6 424.2L102.8 419.1L96.5 419.4L90.3 424.5Z" fill="#68f0ba" stroke="#005131"/><path d="M109.1 419.3L115.4 414.6L109.1 414.5L102.8 419.1Z" fill="#6cf99e" stroke="#00541e"/><path d="M121.7 415.2L128 410.9L121.7 410.4L115.4 414.6Z" fill="#6dfb85" stroke="#00550e"/><path d="M134.4 411.9L140.7 408.1L134.4 407.1L128 410.9Z" fill="#6dfc71" stroke="#005502"/><path d="M147.1 409.4L153.5 406L147.1 404.6L140.7 408.1Z" fill="#79fc6d" stroke="#075500"/><path d="M159.9 407.8L166.3 404.7L159.9 402.9L153.5 406Z" fill="#84fc6e" stroke="#0d5500"/><path d="M172.7 406.9L179.1 404.1L172.7 401.9L166.3 404.7Z" fill="#8afc6e" stroke="#105500"/><path d="M185.5 406.8L191.9 404.3L185.5 401.7L179.1 404.1Z" fill="#8bfc6e" stroke="#115500"/><path d="M198.4 407.4L204.8 405.3L198.3 402.2L191.9 404.3Z" fill="#88fc6e" stroke="#0f5500"/><path d="M211.2 408.7L217.6 406.9L211.2 403.4L204.8 405.3Z" fill="#80fc6e" stroke="#0a5500"/><path d="M223.9 410.7L230.3 409.2L223.9 405.4L217.6 406.9Z" fill="#75fc6d" stroke="#045500"/><path d="M236.7 413.4L243.1 412.1L236.7 407.9L230.3 409.2Z" fill="#6dfc75" stroke="#005504"/><path d="M249.4 416.7L255.7 415.7L249.4 411.2L243.1 412.1Z" fill="#6cfa88" stroke="#005510"/><path d="M262 420.7L268.3 419.9L262 415L255.7 415.7Z" fill="#69f3a0" stroke="#005220"/><path d="M274.6 425.3L280.9 424.8L274.6 419.5L268.3 419.9Z" fill="#62e0b6" stroke="#004c32"/><path d="M287.1 430.4L293.3 430.1L287.1 424.5L280.9 424.8Z" fill="#55c1c7" stroke="#004043"/><path d="M299.5 436.2L305.7 436.1L299.6 430.1L293.3 430.1Z" fill="#479ece" stroke="#002d46"/><path d="M78 435.8L84.1 430L77.9 430.7L71.8 436.6Z" fill="#5acddf" stroke="#00414b"/><path d="M90.4 429.6L96.6 424.2L90.3 424.5L84.1 430Z" fill="#63e4c8" stroke="#004d3c"/><path d="M102.9 424.3L109.1 419.3L102.8 419.1L96.6 424.2Z" fill="#6af4ae" stroke="#005228"/><path d="M115.4 419.8L121.7 415.2L115.4 414.6L109.1 419.3Z" fill="#6cfa93" stroke="#005517"/><path d="M128.1 416.1L134.4 411.9L128 410.9L121.7 415.2Z" fill="#6dfc7d" stroke="#005509"/><path d="M140.8 413.3L147.1 409.4L140.7 408.1L134.4 411.9Z" fill="#6ffc6d" stroke="#015500"/><path d="M153.5 411.2L159.9 407.8L153.5 406L147.1 409.4Z" fill="#7cfc6d" stroke="#085500"/><path d="M166.3 410L172.7 406.9L166.3 404.7L159.9 407.8Z" fill="#84fc6e" stroke="#0d5500"/><path d="M179.1 409.5L185.5 406.8L179.1 404.1L172.7 406.9Z" fill="#88fc6e" stroke="#0f5500"/><path d="M192 409.8L198.4 407.4L191.9 404.3L185.5 406.8Z" fill="#86fc6e" stroke="#0e5500"/><path d="M204.8 410.8L211.2 408.7L204.8 405.3L198.4 407.4Z" fill="#81fc6e" stroke="#0b5500"/><path d="M217.6 412.5L223.9 410.7L217.6 406.9L211.2 408.7Z" fill="#77fc6d" stroke="#055500"/><path d="M230.3 414.9L236.7 413.4L230.3 409.2L223.9 410.7Z" fill="#6dfc71" stroke="#005502"/><path d="M243 417.9L249.4 416.7L243.1 412.1L236.7 413.4Z" fill="#6dfb83" stroke="#00550d"/><path d="M255.7 421.7L262 420.7L255.7 415.7L249.4 416.7Z" fill="#6bf898" stroke="#00541a"/><path d="M268.3 426L274.6 425.3L268.3 419.9L262 420.7Z" fill="#67eeb0" stroke="#00502b"/><path d="M280.8 430.9L287.1 430.4L280.9 424.8L274.6 425.3Z" fill="#5ed6c5" stroke="#00483e"/><path d="M293.3 436.5L299.5 436.2L293.3 430.1L287.1 430.4Z" fill="#4eb1cf" stroke="#003646"/><path d="M305.6 442.6L311.8 442.4L305.7 436.1L299.5 436.2Z" fill="#4082c6" stroke="#002143"/><path d="M71.9 442.1L78 435.8L71.8 436.6L65.7 443Z" fill="#55b6df" stroke="#00354b"/><path d="M84.2 435.4L90.4 429.6L84.1 430L78 435.8Z" fill="#5ed6d7" stroke="#004849"/><path d="M96.6 429.6L102.9 424.3L96.6 424.2L90.4 429.6Z" fill="#67edbe" stroke="#005034"/><path d="M109.2 424.7L115.4 419.8L109.1 419.3L102.9 424.3Z" fill="#6bf8a3" stroke="#005421"/><path d="M121.8 420.6L128.1 416.1L121.7 415.2L115.4 419.8Z" fill="#6dfb8b" stroke="#005512"/><path d="M134.5 417.4L140.8 413.3L134.4 411.9L128.1 416.1Z" fill="#6dfc77" stroke="#005505"/><path d="M147.2 415L153.5 411.2L147.1 409.4L140.8 413.3Z" fill="#72fc6d" stroke="#025500"/><path d="M160 413.4L166.3 410L159.9 407.8L153.5 411.2Z" fill="#7cfc6d" stroke="#085500"/><path d="M172.8 412.5L179.1 409.5L172.7 406.9L166.3 410Z" fill="#82fc6e" stroke="#0c5500"/><path d="M185.6 412.5L192 409.8L185.5 406.8L179.1 409.5Z" fill="#83fc6e" stroke="#0c5500"/><path d="M198.4 413.2L204.8 410.8L198.4 407.4L192 409.8Z" fill="#80fc6e" stroke="#0a5500"/><path d="M211.2 414.6L217.6 412.5L211.2 408.7L204.8 410.8Z" fill="#78fc6d" stroke="#065500"/><path d="M223.9 416.7L230.3 414.9L223.9 410.7L217.6 412.5Z" fill="#6dfc6e" stroke="#005500"/><path d="M236.7 419.4L243 417.9L236.7 413.4L230.3 414.9Z" fill="#6dfc7e" stroke="#00550a"/><path d="M249.4 422.9L255.7 421.7L249.4 416.7L243 417.9Z" fill="#6cfb92" stroke="#005516"/><path d="M262 427L268.3 426L262 420.7L255.7 421.7Z" fill="#6bf6a9" stroke="#005325"/><path d="M274.5 431.7L280.8 430.9L274.6 425.3L268.3 426Z" fill="#65e8c1" stroke="#004e37"/><path d="M287 437L293.3 436.5L287.1 430.4L280.8 430.9Z" fill="#59ccd3" stroke="#004347"/><path d="M299.4 442.9L305.6 442.6L299.5 436.2L293.3 436.5Z" fill="#499dd0" stroke="#002c46"/><path d="M311.7 449.3L317.8 449.2L311.8 442.4L305.6 442.6Z" fill="#3c6fc1" stroke="#001941"/><path d="M78.1 441.7L84.2 435.4L78 435.8L71.9 442.1Z" fill="#5acde5" stroke="#00404d"/><path d="M90.4 435.4L96.6 429.6L90.4 429.6L84.2 435.4Z" fill="#63e4cf" stroke="#004d40"/><path d="M102.9 430.1L109.2 424.7L102.9 424.3L96.6 429.6Z" fill="#6af4b5" stroke="#00522d"/><path d="M115.5 425.6L121.8 420.6L115.4 419.8L109.2 424.7Z" fill="#6cfa9a" stroke="#00551b"/><path d="M128.1 421.9L134.5 417.4L128.1 416.1L121.8 420.6Z" fill="#6dfc84" stroke="#00550d"/><path d="M140.8 419.1L147.2 415L140.8 413.3L134.5 417.4Z" fill="#6dfc73" stroke="#005503"/><path d="M153.6 417.1L160 413.4L153.5 411.2L147.2 415Z" fill="#73fc6d" stroke="#035500"/><path d="M166.4 415.9L172.8 412.5L166.3 410L160 413.4Z" fill="#7bfc6d" stroke="#085500"/><path d="M179.2 415.5L185.6 412.5L179.1 409.5L172.8 412.5Z" fill="#7efc6d" stroke="#0a5500"/><path d="M192 415.9L198.4 413.2L192 409.8L185.6 412.5Z" fill="#7dfc6d" stroke="#095500"/><path d="M204.8 416.9L211.2 414.6L204.8 410.8L198.4 413.2Z" fill="#77fc6d" stroke="#055500"/><path d="M217.6 418.7L223.9 416.7L217.6 412.5L211.2 414.6Z" fill="#6dfc6d" stroke="#005500"/><path d="M230.3 421.2L236.7 419.4L230.3 414.9L223.9 416.7Z" fill="#6dfc7c" stroke="#005508"/><path d="M243 424.4L249.4 422.9L243 417.9L236.7 419.4Z" fill="#6dfc8e" stroke="#005513"/><path d="M255.6 428.3L262 427L255.7 421.7L249.4 422.9Z" fill="#6cfaa4" stroke="#005521"/><path d="M268.2 432.7L274.5 431.7L268.3 426L262 427Z" fill="#6af4bc" stroke="#005231"/><path d="M280.7 437.8L287 437L280.8 430.9L274.5 431.7Z" fill="#63e3d4" stroke="#004d44"/><path d="M293.2 443.5L299.4 442.9L293.3 436.5L287 437Z" fill="#56c3e0" stroke="#003c4c"/><path d="M305.5 449.7L311.7 449.3L305.6 442.6L299.4 442.9Z" fill="#4688cd" stroke="#002245"/><path d="M84.3 441.6L90.4 435.4L84.2 435.4L78.1 441.7Z" fill="#61dee0" stroke="#004a4c"/><path d="M96.7 435.8L102.9 430.1L96.6 429.6L90.4 435.4Z" fill="#68f0c7" stroke="#005139"/><path d="M109.2 430.9L115.5 425.6L109.2 424.7L102.9 430.1Z" fill="#6cf9ac" stroke="#005426"/><path d="M121.8 426.8L128.1 421.9L121.8 420.6L115.5 425.6Z" fill="#6dfb94" stroke="#005517"/><path d="M134.5 423.6L140.8 419.1L134.5 417.4L128.1 421.9Z" fill="#6dfc80" stroke="#00550b"/><path d="M147.2 421.3L153.6 417.1L147.2 415L140.8 419.1Z" fill="#6dfc72" stroke="#005502"/><path d="M160 419.7L166.4 415.9L160 413.4L153.6 417.1Z" fill="#72fc6d" stroke="#025500"/><path d="M172.8 418.9L179.2 415.5L172.8 412.5L166.4 415.9Z" fill="#77fc6d" stroke="#055500"/><path d="M185.6 418.9L192 415.9L185.6 412.5L179.2 415.5Z" fill="#78fc6d" stroke="#065500"/><path d="M198.4 419.7L204.8 416.9L198.4 413.2L192 415.9Z" fill="#74fc6d" stroke="#045500"/><path d="M211.2 421.1L217.6 418.7L211.2 414.6L204.8 416.9Z" fill="#6dfc6e" stroke="#005500"/><path d="M223.9 423.3L230.3 421.2L223.9 416.7L217.6 418.7Z" fill="#6dfc7a" stroke="#005507"/><path d="M236.6 426.2L243 424.4L236.7 419.4L230.3 421.2Z" fill="#6dfc8b" stroke="#005511"/><path d="M249.3 429.8L255.6 428.3L249.4 422.9L243 424.4Z" fill="#6dfb9f" stroke="#00551e"/><path d="M261.9 434L268.2 432.7L262 427L255.6 428.3Z" fill="#6cf9b8" stroke="#00542d"/><path d="M274.4 438.9L280.7 437.8L274.5 431.7L268.2 432.7Z" fill="#69f2d1" stroke="#00523e"/><path d="M286.9 444.3L293.2 443.5L287 437L280.7 437.8Z" fill="#61dfe7" stroke="#00494e"/><path d="M299.3 450.3L305.5 449.7L299.4 442.9L293.2 443.5Z" fill="#54acde" stroke="#00304b"/><path d="M90.5 442L96.7 435.8L90.4 435.4L84.3 441.6Z" fill="#67edda" stroke="#005045"/><path d="M103 436.6L109.2 430.9L102.9 430.1L96.7 435.8Z" fill="#6bf7bf" stroke="#005332"/><path d="M115.6 432.1L121.8 426.8L115.5 425.6L109.2 430.9Z" fill="#6dfba5" stroke="#005521"/><path d="M128.2 428.5L134.5 423.6L128.1 421.9L121.8 426.8Z" fill="#6dfc8f" stroke="#005514"/><path d="M140.9 425.7L147.2 421.3L140.8 419.1L134.5 423.6Z" fill="#6dfc7f" stroke="#00550a"/><path d="M153.6 423.8L160 419.7L153.6 417.1L147.2 421.3Z" fill="#6dfc73" stroke="#005503"/><path d="M166.4 422.6L172.8 418.9L166.4 415.9L160 419.7Z" fill="#6efc6d" stroke="#005500"/><path d="M179.2 422.3L185.6 418.9L179.2 415.5L172.8 418.9Z" fill="#71fc6d" stroke="#025500"/><path d="M192 422.7L198.4 419.7L192 415.9L185.6 418.9Z" fill="#6ffc6d" stroke="#015500"/><path d="M204.8 423.9L211.2 421.1L204.8 416.9L198.4 419.7Z" fill="#6dfc71" stroke="#005502"/><path d="M217.5 425.8L223.9 423.3L217.6 418.7L211.2 421.1Z" fill="#6dfc7b" stroke="#005508"/><path d="M230.3 428.4L236.6 426.2L230.3 421.2L223.9 423.3Z" fill="#6dfc8a" stroke="#005511"/><path d="M242.9 431.6L249.3 429.8L243 424.4L236.6 426.2Z" fill="#6dfc9c" stroke="#00551c"/><path d="M255.6 435.6L261.9 434L255.6 428.3L249.3 429.8Z" fill="#6dfbb3" stroke="#00552a"/><path d="M268.1 440.2L274.4 438.9L268.2 432.7L261.9 434Z" fill="#6cf9cc" stroke="#005439"/><path d="M280.6 445.4L286.9 444.3L280.7 437.8L274.4 438.9Z" fill="#68f0e7" stroke="#00514c"/><path d="M293 451.2L299.3 450.3L293.2 443.5L286.9 444.3Z" fill="#60ceec" stroke="#003f50"/><path d="M96.8 442.8L103 436.6L96.7 435.8L90.5 442Z" fill="#6af6d4" stroke="#00533f"/><path d="M109.3 437.8L115.6 432.1L109.2 430.9L103 436.6Z" fill="#6cfab9" stroke="#00552e"/><path d="M121.9 433.8L128.2 428.5L121.8 426.8L115.6 432.1Z" fill="#6dfca1" stroke="#00551f"/><path d="M134.6 430.6L140.9 425.7L134.5 423.6L128.2 428.5Z" fill="#6dfc8d" stroke="#005513"/><path d="M147.3 428.3L153.6 423.8L147.2 421.3L140.9 425.7Z" fill="#6dfc7f" stroke="#00550a"/><path d="M160 426.7L166.4 422.6L160 419.7L153.6 423.8Z" fill="#6dfc76" stroke="#005505"/><path d="M172.8 426L179.2 422.3L172.8 418.9L166.4 422.6Z" fill="#6dfc71" stroke="#005502"/><path d="M185.6 426.1L192 422.7L185.6 418.9L179.2 422.3Z" fill="#6dfc71" stroke="#005502"/><path d="M198.4 426.9L204.8 423.9L198.4 419.7L192 422.7Z" fill="#6dfc75" stroke="#005504"/><path d="M211.1 428.5L217.5 425.8L211.2 421.1L204.8 423.9Z" fill="#6dfc7d" stroke="#005509"/><path d="M223.9 430.8L230.3 428.4L223.9 423.3L217.5 425.8Z" fill="#6dfc8a" stroke="#005511"/><path d="M236.6 433.8L242.9 431.6L236.6 426.2L230.3 428.4Z" fill="#6dfc9b" stroke="#00551b"/><path d="M249.2 437.5L255.6 435.6L249.3 429.8L242.9 431.6Z" fill="#6dfcb0" stroke="#005528"/><path d="M261.8 441.8L268.1 440.2L261.9 434L255.6 435.6Z" fill="#6dfbc9" stroke="#005537"/><path d="M274.3 446.8L280.6 445.4L274.4 438.9L268.1 440.2Z" fill="#6bf8e3" stroke="#005447"/><path d="M286.8 452.3L293 451.2L286.9 444.3L280.6 445.4Z" fill="#68e7f6" stroke="#004a53"/><path d="M103.1 444L109.3 437.8L103 436.6L96.8 442.8Z" fill="#6cfacd" stroke="#00553a"/><path d="M115.7 439.5L121.9 433.8L115.6 432.1L109.3 437.8Z" fill="#6dfcb4" stroke="#00552a"/><path d="M128.3 435.9L134.6 430.6L128.2 428.5L121.9 433.8Z" fill="#6dfc9e" stroke="#00551d"/><path d="M141 433.1L147.3 428.3L140.9 425.7L134.6 430.6Z" fill="#6dfc8e" stroke="#005513"/><path d="M153.7 431.2L160 426.7L153.6 423.8L147.3 428.3Z" fill="#6dfc82" stroke="#00550c"/><path d="M166.5 430.1L172.8 426L166.4 422.6L160 426.7Z" fill="#6dfc7b" stroke="#005508"/><path d="M179.2 429.8L185.6 426.1L179.2 422.3L172.8 426Z" fill="#6dfc79" stroke="#005507"/><path d="M192 430.3L198.4 426.9L192 422.7L185.6 426.1Z" fill="#6dfc7b" stroke="#005508"/><path d="M204.8 431.6L211.1 428.5L204.8 423.9L198.4 426.9Z" fill="#6dfc81" stroke="#00550b"/><path d="M217.5 433.5L223.9 430.8L217.5 425.8L211.1 428.5Z" fill="#6dfc8c" stroke="#005512"/><path d="M230.2 436.2L236.6 433.8L230.3 428.4L223.9 430.8Z" fill="#6dfc9b" stroke="#00551b"/><path d="M242.9 439.6L249.2 437.5L242.9 431.6L236.6 433.8Z" fill="#6dfcae" stroke="#005526"/><path d="M255.5 443.7L261.8 441.8L255.6 435.6L249.2 437.5Z" fill="#6dfcc5" stroke="#005534"/><path d="M268 448.4L274.3 446.8L268.1 440.2L261.8 441.8Z" fill="#6dfbe0" stroke="#005545"/><path d="M280.5 453.8L286.8 452.3L280.6 445.4L274.3 446.8Z" fill="#6bf6fa" stroke="#005255"/><path d="M109.5 445.6L115.7 439.5L109.3 437.8L103.1 444Z" fill="#6dfbc9" stroke="#005537"/><path d="M122 441.6L128.3 435.9L121.9 433.8L115.7 439.5Z" fill="#6dfcb1" stroke="#005528"/><path d="M134.7 438.4L141 433.1L134.6 430.6L128.3 435.9Z" fill="#6dfc9e" stroke="#00551d"/><path d="M147.4 436.1L153.7 431.2L147.3 428.3L141 433.1Z" fill="#6dfc90" stroke="#005514"/><path d="M160.1 434.6L166.5 430.1L160 426.7L153.7 431.2Z" fill="#6dfc87" stroke="#00550f"/><path d="M172.9 433.9L179.2 429.8L172.8 426L166.5 430.1Z" fill="#6dfc83" stroke="#00550d"/><path d="M185.6 434.1L192 430.3L185.6 426.1L179.2 429.8Z" fill="#6dfc83" stroke="#00550d"/><path d="M198.4 435L204.8 431.6L198.4 426.9L192 430.3Z" fill="#6dfc87" stroke="#00550f"/><path d="M211.1 436.6L217.5 433.5L211.1 428.5L204.8 431.6Z" fill="#6dfc90" stroke="#005514"/><path d="M223.8 439L230.2 436.2L223.9 430.8L217.5 433.5Z" fill="#6dfc9d" stroke="#00551c"/><path d="M236.5 442.1L242.9 439.6L236.6 433.8L230.2 436.2Z" fill="#6dfcaf" stroke="#005527"/><path d="M249.1 445.9L255.5 443.7L249.2 437.5L242.9 439.6Z" fill="#6dfcc4" stroke="#005534"/><path d="M261.7 450.4L268 448.4L261.8 441.8L255.5 443.7Z" fill="#6dfcdd" stroke="#005543"/><path d="M274.2 455.5L280.5 453.8L274.3 446.8L268 448.4Z" fill="#6dfbf9" stroke="#005554"/><path d="M115.8 447.7L122 441.6L115.7 439.5L109.5 445.6Z" fill="#6dfcc6" stroke="#005535"/><path d="M128.4 444.1L134.7 438.4L128.3 435.9L122 441.6Z" fill="#6dfcb1" stroke="#005528"/><path d="M141.1 441.3L147.4 436.1L141 433.1L134.7 438.4Z" fill="#6dfca1" stroke="#00551f"/><path d="M153.8 439.5L160.1 434.6L153.7 431.2L147.4 436.1Z" fill="#6dfc95" stroke="#005517"/><path d="M166.5 438.4L172.9 433.9L166.5 430.1L160.1 434.6Z" fill="#6dfc8f" stroke="#005514"/><path d="M179.2 438.2L185.6 434.1L179.2 429.8L172.9 433.9Z" fill="#6dfc8d" stroke="#005513"/><path d="M192 438.7L198.4 435L192 430.3L185.6 434.1Z" fill="#6dfc8f" stroke="#005514"/><path d="M204.7 440.1L211.1 436.6L204.8 431.6L198.4 435Z" fill="#6dfc96" stroke="#005518"/><path d="M217.5 442.1L223.8 439L217.5 433.5L211.1 436.6Z" fill="#6dfca1" stroke="#00551f"/><path d="M230.1 444.9L236.5 442.1L230.2 436.2L223.8 439Z" fill="#6dfcb1" stroke="#005528"/><path d="M242.8 448.4L249.1 445.9L242.9 439.6L236.5 442.1Z" fill="#6dfcc4" stroke="#005534"/><path d="M255.4 452.6L261.7 450.4L255.5 443.7L249.1 445.9Z" fill="#6dfcdc" stroke="#005542"/><path d="M267.9 457.5L274.2 455.5L268 448.4L261.7 450.4Z" fill="#6dfcf7" stroke="#005552"/><path d="M122.2 450.2L128.4 444.1L122 441.6L115.8 447.7Z" fill="#6dfcc6" stroke="#005535"/><path d="M134.8 447L141.1 441.3L134.7 438.4L128.4 444.1Z" fill="#6dfcb3" stroke="#005529"/><path d="M147.5 444.7L153.8 439.5L147.4 436.1L141.1 441.3Z" fill="#6dfca5" stroke="#005521"/><path d="M160.2 443.3L166.5 438.4L160.1 434.6L153.8 439.5Z" fill="#6dfc9d" stroke="#00551c"/><path d="M172.9 442.7L179.2 438.2L172.9 433.9L166.5 438.4Z" fill="#6dfc98" stroke="#005519"/><path d="M185.6 442.9L192 438.7L185.6 434.1L179.2 438.2Z" fill="#6dfc99" stroke="#00551a"/><path d="M198.4 443.9L204.7 440.1L198.4 435L192 438.7Z" fill="#6dfc9e" stroke="#00551d"/><path d="M211.1 445.6L217.5 442.1L211.1 436.6L204.7 440.1Z" fill="#6dfca7" stroke="#005522"/><path d="M223.8 448.1L230.1 444.9L223.8 439L217.5 442.1Z" fill="#6dfcb5" stroke="#00552b"/><path d="M236.4 451.3L242.8 448.4L236.5 442.1L230.1 444.9Z" fill="#6dfcc6" stroke="#005535"/><path d="M249 455.2L255.4 452.6L249.1 445.9L242.8 448.4Z" fill="#6dfcdc" stroke="#005542"/><path d="M261.6 459.8L267.9 457.5L261.7 450.4L255.4 452.6Z" fill="#6dfcf5" stroke="#005551"/><path d="M128.5 453.1L134.8 447L128.4 444.1L122.2 450.2Z" fill="#6dfcc7" stroke="#005535"/><path d="M141.2 450.4L147.5 444.7L141.1 441.3L134.8 447Z" fill="#6dfcb7" stroke="#00552c"/><path d="M153.8 448.6L160.2 443.3L153.8 439.5L147.5 444.7Z" fill="#6dfcac" stroke="#005525"/><path d="M166.5 447.6L172.9 442.7L166.5 438.4L160.2 443.3Z" fill="#6dfca6" stroke="#005522"/><path d="M179.3 447.4L185.6 442.9L179.2 438.2L172.9 442.7Z" fill="#6dfca4" stroke="#005520"/><path d="M192 448.1L198.4 443.9L192 438.7L185.6 442.9Z" fill="#6dfca7" stroke="#005522"/><path d="M204.7 449.5L211.1 445.6L204.7 440.1L198.4 443.9Z" fill="#6dfcaf" stroke="#005527"/><path d="M217.4 451.6L223.8 448.1L217.5 442.1L211.1 445.6Z" fill="#6dfcba" stroke="#00552e"/><path d="M230.1 454.5L236.4 451.3L230.1 444.9L223.8 448.1Z" fill="#6dfcca" stroke="#005537"/><path d="M242.7 458.1L249 455.2L242.8 448.4L236.4 451.3Z" fill="#6dfcde" stroke="#005543"/><path d="M255.2 462.4L261.6 459.8L255.4 452.6L249 455.2Z" fill="#6dfcf6" stroke="#005552"/><path d="M134.9 456.6L141.2 450.4L134.8 447L128.5 453.1Z" fill="#6dfccc" stroke="#005538"/><path d="M147.5 454.3L153.8 448.6L147.5 444.7L141.2 450.4Z" fill="#6dfcbe" stroke="#005530"/><path d="M160.2 452.9L166.5 447.6L160.2 443.3L153.8 448.6Z" fill="#6dfcb6" stroke="#00552b"/><path d="M172.9 452.4L179.3 447.4L172.9 442.7L166.5 447.6Z" fill="#6dfcb2" stroke="#005529"/><path d="M185.6 452.6L192 448.1L185.6 442.9L179.3 447.4Z" fill="#6dfcb3" stroke="#005529"/><path d="M198.4 453.7L204.7 449.5L198.4 443.9L192 448.1Z" fill="#6dfcb8" stroke="#00552c"/><path d="M211 455.5L217.4 451.6L211.1 445.6L204.7 449.5Z" fill="#6dfcc2" stroke="#005532"/><path d="M223.7 458.1L230.1 454.5L223.8 448.1L217.4 451.6Z" fill="#6dfcd0" stroke="#00553b"/><path d="M236.3 461.4L242.7 458.1L236.4 451.3L230.1 454.5Z" fill="#6dfce2" stroke="#005546"/><path d="M248.9 465.4L255.2 462.4L249 455.2L242.7 458.1Z" fill="#6dfcf8" stroke="#005553"/><path d="M141.3 460.5L147.5 454.3L141.2 450.4L134.9 456.6Z" fill="#6dfcd2" stroke="#00553c"/><path d="M153.9 458.7L160.2 452.9L153.8 448.6L147.5 454.3Z" fill="#6dfcc8" stroke="#005536"/><path d="M166.6 457.7L172.9 452.4L166.5 447.6L160.2 452.9Z" fill="#6dfcc2" stroke="#005532"/><path d="M179.3 457.6L185.6 452.6L179.3 447.4L172.9 452.4Z" fill="#6dfcc0" stroke="#005531"/><path d="M192 458.3L198.4 453.7L192 448.1L185.6 452.6Z" fill="#6dfcc3" stroke="#005533"/><path d="M204.7 459.8L211 455.5L204.7 449.5L198.4 453.7Z" fill="#6dfccb" stroke="#005538"/><path d="M217.4 462L223.7 458.1L217.4 451.6L211 455.5Z" fill="#6dfcd7" stroke="#00553f"/><path d="M230 465L236.3 461.4L230.1 454.5L223.7 458.1Z" fill="#6dfce7" stroke="#005549"/><path d="M242.6 468.7L248.9 465.4L242.7 458.1L236.3 461.4Z" fill="#6dfcfb" stroke="#005555"/><path d="M147.6 464.9L153.9 458.7L147.5 454.3L141.3 460.5Z" fill="#6dfcdb" stroke="#005541"/><path d="M160.3 463.5L166.6 457.7L160.2 452.9L153.9 458.7Z" fill="#6dfcd3" stroke="#00553d"/><path d="M173 463L179.3 457.6L172.9 452.4L166.6 457.7Z" fill="#6dfcd0" stroke="#00553b"/><path d="M185.7 463.3L192 458.3L185.6 452.6L179.3 457.6Z" fill="#6dfcd1" stroke="#00553b"/><path d="M198.3 464.4L204.7 459.8L198.4 453.7L192 458.3Z" fill="#6dfcd6" stroke="#00553e"/><path d="M211 466.3L217.4 462L211 455.5L204.7 459.8Z" fill="#6dfce0" stroke="#005544"/><path d="M223.6 469L230 465L223.7 458.1L217.4 462Z" fill="#6dfcef" stroke="#00554d"/><path d="M236.2 472.4L242.6 468.7L236.3 461.4L230 465Z" fill="#6df8fc" stroke="#005355"/><path d="M154 469.7L160.3 463.5L153.9 458.7L147.6 464.9Z" fill="#6dfce7" stroke="#005549"/><path d="M166.7 468.8L173 463L166.6 457.7L160.3 463.5Z" fill="#6dfce1" stroke="#005545"/><path d="M179.3 468.8L185.7 463.3L179.3 457.6L173 463Z" fill="#6dfce0" stroke="#005544"/><path d="M192 469.5L198.3 464.4L192 458.3L185.7 463.3Z" fill="#6dfce4" stroke="#005547"/><path d="M204.6 471.1L211 466.3L204.7 459.8L198.3 464.4Z" fill="#6dfcec" stroke="#00554c"/><path d="M217.3 473.4L223.6 469L217.4 462L211 466.3Z" fill="#6dfcf8" stroke="#005553"/><path d="M229.9 476.5L236.2 472.4L230 465L223.6 469Z" fill="#6df0fc" stroke="#004e55"/><path d="M160.4 475.1L166.7 468.8L160.3 463.5L154 469.7Z" fill="#6dfcf5" stroke="#005551"/><path d="M173 474.6L179.3 468.8L173 463L166.7 468.8Z" fill="#6dfcf2" stroke="#00554f"/><path d="M185.7 475L192 469.5L185.7 463.3L179.3 468.8Z" fill="#6dfcf3" stroke="#005550"/><path d="M198.3 476.2L204.6 471.1L198.3 464.4L192 469.5Z" fill="#6dfcf9" stroke="#005553"/><path d="M210.9 478.2L217.3 473.4L211 466.3L204.6 471.1Z" fill="#6df6fc" stroke="#005255"/><path d="M223.5 480.9L229.9 476.5L223.6 469L217.3 473.4Z" fill="#6de7fc" stroke="#004955"/><path d="M166.7 481L173 474.6L166.7 468.8L160.4 475.1Z" fill="#6df4fc" stroke="#005055"/><path d="M179.3 480.9L185.7 475L179.3 468.8L173 474.6Z" fill="#6df4fc" stroke="#005055"/><path d="M192 481.8L198.3 476.2L192 469.5L185.7 475Z" fill="#6df1fc" stroke="#004f55"/><path d="M204.6 483.4L210.9 478.2L204.6 471.1L198.3 476.2Z" fill="#6de8fc" stroke="#004955"/><path d="M217.2 485.8L223.5 480.9L217.3 473.4L210.9 478.2Z" fill="#6ddcfc" stroke="#004255"/><path d="M173.1 487.3L179.3 480.9L173 474.6L166.7 481Z" fill="#6de1fc" stroke="#004555"/><path d="M185.7 487.8L192 481.8L185.7 475L179.3 480.9Z" fill="#6ddffc" stroke="#004455"/><path d="M198.3 489L204.6 483.4L198.3 476.2L192 481.8Z" fill="#6dd9fc" stroke="#004055"/><path d="M210.9 491.1L217.2 485.8L210.9 478.2L204.6 483.4Z" fill="#6dcefc" stroke="#003a55"/><path d="M179.4 494.2L185.7 487.8L179.3 480.9L173.1 487.3Z" fill="#6dccfc" stroke="#003855"/><path d="M192 495.1L198.3 489L192 481.8L185.7 487.8Z" fill="#6dc7fc" stroke="#003555"/><path d="M204.5 496.8L210.9 491.1L204.6 483.4L198.3 489Z" fill="#6dbffc" stroke="#003155"/><path d="M185.7 501.7L192 495.1L185.7 487.8L179.4 494.2Z" fill="#6db4fc" stroke="#002a55"/><path d="M198.2 503L204.5 496.8L198.3 489L192 495.1Z" fill="#6dadfc" stroke="#002655"/><path d="M191.9 509.6L198.2 503L192 495.1L185.7 501.7Z" fill="#6d9afc" stroke="#001a55"/></g>
<path d="M429.1 459.5L422.5 339.7 M455 451.6L449.8 334.3 M481 443.7L477.2 328.8 M506.9 435.8L504.5 323.4 M629.7 457.2L634.2 339 M597.4 447.4L600.1 331.9 M565.1 437.6L565.9 324.9 M403.2 467.4L532.8 427.9 M532.8 427.9L662 467 M401.9 447L532.6 409.5 M532.6 409.5L663.1 446.8 M400.5 426.6L532.5 391.2 M532.5 391.2L664.1 426.6 M399.2 406.2L532.3 372.8 M532.3 372.8L665.2 406.4 M397.9 385.8L532.1 354.5 M532.1 354.5L666.3 386.2 M396.5 365.4L532 336.1 M532 336.1L667.3 366 M395.2 345L531.8 317.7 M531.8 317.7L668.4 345.8" stroke="#1a1a1a" stroke-width="1.15" fill="none"/>
<path d="M405.7 505.7L395.2 345.2 M533.1 462.3L531.8 317.9 M660 504.9L668.4 346 M395.2 345.2L531.8 317.9 M531.8 317.9L668.4 346" stroke="#111" stroke-width="1.1" fill="none"/>
<g fill="#111"><circle cx="403.2" cy="467.4" r="1.3"/><circle cx="401.9" cy="447" r="1.3"/><circle cx="400.5" cy="426.6" r="1.3"/><circle cx="399.2" cy="406.2" r="1.3"/><circle cx="397.9" cy="385.8" r="1.3"/><circle cx="396.5" cy="365.4" r="1.3"/><circle cx="395.2" cy="345" r="1.3"/></g>
<polygon points="531.8,560 660,504.9 533.1,462.3 405.7,505.7" fill="#666" stroke="#0d0d0d" stroke-width="1.4" stroke-linejoin="round"/>
<path d="M483.3 539.1L486.9 539.9L490.4 540.6L494 541.3L497.6 541.9L501.4 542.6L505.6 543.3L509.7 544L513.8 544.6L517.7 545.2L521.5 545.7L525.3 546.3L529 546.7L532.7 547.2L536.3 547.6L539.8 548L543.8 548.4L547.9 548.8L552 549.2L556.2 549.5L556.2 549.5" stroke="#59d4de" stroke-width="1.8" fill="none"/>
<path d="M419.7 500.9L423.5 502.6L427.3 504.1L431.3 505.7L433.9 506.7L438 508.3L442.1 509.8L446.3 511.2L449.8 512.4L453.4 513.6L457.8 515L460.8 516L465.3 517.3L468.4 518.2L472.9 519.5L476.1 520.3L480.8 521.6L484.1 522.4L488.2 523.4L492.2 524.3L495.6 525L499.2 525.8L504.1 526.8L507.6 527.5L511.1 528.2L514.6 528.9L518.2 529.5L522.6 530.2L526.8 530.9L530.9 531.5L534.9 532.1L538.7 532.6L542.5 533.1L546.3 533.5L550 533.9L553.6 534.3L557.1 534.7L560.5 535L564.6 535.3L568.8 535.7L573.1 535.9L576.9 536.2L580 536.3L584 536.5L586.2 536.6" stroke="#59dea0" stroke-width="1.8" fill="none"/>
<path d="M443.4 492.9L447.3 494.4L451.3 495.8L455.4 497.3L459.5 498.7L462.3 499.7L466.5 501.1L470.9 502.4L473.8 503.3L478.2 504.6L481.9 505.7L485.8 506.7L489.5 507.7L493.6 508.8L496.8 509.5L501.7 510.7L504.9 511.4L508.2 512.1L513.3 513.2L516.7 513.9L520.2 514.5L523.7 515.2L527.9 515.9L532.3 516.6L536.3 517.2L540 517.8L543.7 518.3L547.5 518.8L551.4 519.2L555.3 519.7L559.3 520.1L563.3 520.5L566.7 520.7L570.1 521L573.7 521.3L578 521.5L582.4 521.7L585.9 521.9L589.1 522L593.7 522.1L597.5 522.1L600.8 522.1L605.7 522.1L608.4 522.1L613.3 521.9L616.1 521.8L621 521.5L621.3 521.5" stroke="#59de59" stroke-width="1.8" fill="none"/>
<path d="M467.4 484.7L470.1 485.6L474.2 487L478.4 488.3L482.7 489.6L485.6 490.5L490 491.8L493.4 492.7L497.5 493.8L501.2 494.7L505.3 495.7L508.5 496.5L513.4 497.6L516.7 498.2L520 498.9L524.9 499.9L528.6 500.5L532.1 501.1L535.6 501.7L539.3 502.3L543.1 502.8L547.2 503.4L551.1 503.8L554.9 504.3L558.6 504.7L562.3 505L566.4 505.3L570.6 505.6L574.8 505.9L578.5 506.1L581.6 506.2L586 506.3L590.2 506.3L593.1 506.4L598.1 506.3L600.9 506.2L605.9 506L608.7 505.9L613.1 505.6L617.4 505.2L620.5 504.9L624.1 504.5L628.2 503.9L632.1 503.3L635.9 502.6L639.5 501.9L644.6 500.7L646.2 500.3" stroke="#a4de60" stroke-width="1.8" fill="none"/>
<path d="M494.1 475.5L497.3 476.4L501.4 477.6L505.9 478.7L509 479.5L513.7 480.6L516.8 481.3L520.2 482L525 483L528.4 483.6L531.9 484.2L535.8 484.8L540.2 485.5L544.4 486.1L548.3 486.5L552.2 487L555.8 487.3L559.3 487.6L562.6 487.8L566.6 488.1L571 488.2L574.8 488.3L578 488.4L583 488.3L585.6 488.3L590.5 488.1L593.9 487.9L597.3 487.6L601.5 487.1L605.5 486.6L605.5 486.6" stroke="#ded66a" stroke-width="1.8" fill="none"/>
<g fill="#111"><circle cx="531.8" cy="560" r="1.3"/><circle cx="557.4" cy="549" r="1.3"/><circle cx="583.1" cy="538" r="1.3"/><circle cx="608.7" cy="526.9" r="1.3"/><circle cx="634.4" cy="515.9" r="1.3"/><circle cx="660" cy="504.9" r="1.3"/><circle cx="531.8" cy="560" r="1.3"/><circle cx="500.3" cy="546.4" r="1.3"/><circle cx="468.8" cy="532.9" r="1.3"/><circle cx="437.2" cy="519.3" r="1.3"/><circle cx="405.7" cy="505.7" r="1.3"/></g>
<g stroke-width="0.85" stroke-linejoin="round"><path d="M532 340.6L538.7 337.7L532 335.7L525.2 338.6Z" fill="#fcae72" stroke="#552602"/><path d="M525.2 343.8L532 340.6L525.2 338.6L518.5 341.8Z" fill="#fcb874" stroke="#552c03"/><path d="M538.7 342.8L545.5 339.9L538.7 337.7L532 340.6Z" fill="#fcb273" stroke="#552802"/><path d="M518.5 347.3L525.2 343.8L518.5 341.8L511.7 345.2Z" fill="#fcc476" stroke="#553304"/><path d="M532 346L538.7 342.8L532 340.6L525.2 343.8Z" fill="#fcbc75" stroke="#552e03"/><path d="M545.5 345.1L552.3 342.2L545.5 339.9L538.7 342.8Z" fill="#fcb774" stroke="#552b03"/><path d="M511.8 351L518.5 347.3L511.7 345.2L505 348.9Z" fill="#fcd179" stroke="#553b05"/><path d="M525.2 349.5L532 346L525.2 343.8L518.5 347.3Z" fill="#fcc777" stroke="#553504"/><path d="M538.7 348.3L545.5 345.1L538.7 342.8L532 346Z" fill="#fcc076" stroke="#553104"/><path d="M552.3 347.5L559 344.6L552.3 342.2L545.5 345.1Z" fill="#fcbc75" stroke="#552e03"/><path d="M505.1 355L511.8 351L505 348.9L498.3 352.9Z" fill="#fcde7d" stroke="#554308"/><path d="M518.5 353.2L525.2 349.5L518.5 347.3L511.8 351Z" fill="#fcd47a" stroke="#553d06"/><path d="M532 351.7L538.7 348.3L532 346L525.2 349.5Z" fill="#fccb78" stroke="#553705"/><path d="M545.5 350.7L552.3 347.5L545.5 345.1L538.7 348.3Z" fill="#fcc577" stroke="#553404"/><path d="M559 350L565.8 347.1L559 344.6L552.3 347.5Z" fill="#fcc276" stroke="#553204"/><path d="M498.4 359.1L505.1 355L498.3 352.9L491.7 357.1Z" fill="#fcec7f" stroke="#554b09"/><path d="M511.8 357.1L518.5 353.2L511.8 351L505.1 355Z" fill="#fce17d" stroke="#554508"/><path d="M525.3 355.4L532 351.7L525.2 349.5L518.5 353.2Z" fill="#fcd77b" stroke="#553f06"/><path d="M538.7 354.1L545.5 350.7L538.7 348.3L532 351.7Z" fill="#fcd079" stroke="#553a05"/><path d="M552.2 353.2L559 350L552.3 347.5L545.5 350.7Z" fill="#fccb78" stroke="#553705"/><path d="M565.7 352.6L572.5 349.7L565.8 347.1L559 350Z" fill="#fcc877" stroke="#553604"/><path d="M491.7 363.5L498.4 359.1L491.7 357.1L485 361.5Z" fill="#fcfa81" stroke="#55540a"/><path d="M505.1 361.3L511.8 357.1L505.1 355L498.4 359.1Z" fill="#fcee80" stroke="#554d09"/><path d="M518.5 359.4L525.3 355.4L518.5 353.2L511.8 357.1Z" fill="#fce47e" stroke="#554608"/><path d="M532 357.8L538.7 354.1L532 351.7L525.3 355.4Z" fill="#fcdb7c" stroke="#554107"/><path d="M545.5 356.6L552.2 353.2L545.5 350.7L538.7 354.1Z" fill="#fcd57a" stroke="#553d06"/><path d="M559 355.8L565.7 352.6L559 350L552.2 353.2Z" fill="#fcd179" stroke="#553b05"/><path d="M572.5 355.4L579.3 352.5L572.5 349.7L565.7 352.6Z" fill="#fccf79" stroke="#553a05"/><path d="M485.1 368.1L491.7 363.5L485 361.5L478.4 366Z" fill="#f0fc80" stroke="#4e5509"/><path d="M498.4 365.7L505.1 361.3L498.4 359.1L491.7 363.5Z" fill="#fcfc81" stroke="#55550a"/><path d="M511.8 363.6L518.5 359.4L511.8 357.1L505.1 361.3Z" fill="#fcf180" stroke="#554e09"/><path d="M525.3 361.8L532 357.8L525.3 355.4L518.5 359.4Z" fill="#fce87f" stroke="#554909"/><path d="M538.7 360.3L545.5 356.6L538.7 354.1L532 357.8Z" fill="#fce07d" stroke="#554408"/><path d="M552.2 359.2L559 355.8L552.2 353.2L545.5 356.6Z" fill="#fcda7c" stroke="#554007"/><path d="M565.7 358.5L572.5 355.4L565.7 352.6L559 355.8Z" fill="#fcd77b" stroke="#553f06"/><path d="M579.2 358.2L586 355.3L579.3 352.5L572.5 355.4Z" fill="#fcd67b" stroke="#553e06"/><path d="M478.5 372.8L485.1 368.1L478.4 366L471.8 370.8Z" fill="#dffc7d" stroke="#435508"/><path d="M491.8 370.3L498.4 365.7L491.7 363.5L485.1 368.1Z" fill="#eefc80" stroke="#4d5509"/><path d="M505.2 368L511.8 363.6L505.1 361.3L498.4 365.7Z" fill="#fafc81" stroke="#54550a"/><path d="M518.6 366L525.3 361.8L518.5 359.4L511.8 363.6Z" fill="#fcf480" stroke="#555009"/><path d="M532 364.3L538.7 360.3L532 357.8L525.3 361.8Z" fill="#fcec7f" stroke="#554b09"/><path d="M545.5 362.9L552.2 359.2L545.5 356.6L538.7 360.3Z" fill="#fce57e" stroke="#554708"/><path d="M558.9 362L565.7 358.5L559 355.8L552.2 359.2Z" fill="#fce07d" stroke="#554408"/><path d="M572.4 361.4L579.2 358.2L572.5 355.4L565.7 358.5Z" fill="#fcde7d" stroke="#554308"/><path d="M585.9 361.2L592.7 358.3L586 355.3L579.2 358.2Z" fill="#fcde7d" stroke="#554308"/><path d="M471.9 377.7L478.5 372.8L471.8 370.8L465.2 375.6Z" fill="#cdfc79" stroke="#395505"/><path d="M485.2 375L491.8 370.3L485.1 368.1L478.5 372.8Z" fill="#defc7d" stroke="#435508"/><path d="M498.5 372.6L505.2 368L498.4 365.7L491.8 370.3Z" fill="#ebfc7f" stroke="#4b5509"/><path d="M511.9 370.4L518.6 366L511.8 363.6L505.2 368Z" fill="#f7fc81" stroke="#52550a"/><path d="M525.3 368.5L532 364.3L525.3 361.8L518.6 366Z" fill="#fcf881" stroke="#55530a"/><path d="M538.7 366.9L545.5 362.9L538.7 360.3L532 364.3Z" fill="#fcf180" stroke="#554e09"/><path d="M552.2 365.7L558.9 362L552.2 359.2L545.5 362.9Z" fill="#fceb7f" stroke="#554b09"/><path d="M565.7 364.8L572.4 361.4L565.7 358.5L558.9 362Z" fill="#fce77e" stroke="#554808"/><path d="M579.1 364.3L585.9 361.2L579.2 358.2L572.4 361.4Z" fill="#fce57e" stroke="#554708"/><path d="M592.6 364.2L599.4 361.4L592.7 358.3L585.9 361.2Z" fill="#fce67e" stroke="#554808"/><path d="M465.3 382.8L471.9 377.7L465.2 375.6L458.7 380.7Z" fill="#b9fc74" stroke="#2d5503"/><path d="M478.6 379.9L485.2 375L478.5 372.8L471.9 377.7Z" fill="#cbfc78" stroke="#375505"/><path d="M491.9 377.3L498.5 372.6L491.8 370.3L485.2 375Z" fill="#dbfc7c" stroke="#415507"/><path d="M505.2 375L511.9 370.4L505.2 368L498.5 372.6Z" fill="#e8fc7f" stroke="#495509"/><path d="M518.6 372.9L525.3 368.5L518.6 366L511.9 370.4Z" fill="#f3fc80" stroke="#505509"/><path d="M532 371.1L538.7 366.9L532 364.3L525.3 368.5Z" fill="#fcfc81" stroke="#55550a"/><path d="M545.4 369.6L552.2 365.7L545.5 362.9L538.7 366.9Z" fill="#fcf681" stroke="#55510a"/><path d="M558.9 368.5L565.7 364.8L558.9 362L552.2 365.7Z" fill="#fcf180" stroke="#554e09"/><path d="M572.4 367.8L579.1 364.3L572.4 361.4L565.7 364.8Z" fill="#fcee80" stroke="#554d09"/><path d="M585.8 367.4L592.6 364.2L585.9 361.2L579.1 364.3Z" fill="#fced80" stroke="#554c09"/><path d="M599.3 367.4L606.1 364.6L599.4 361.4L592.6 364.2Z" fill="#fcee80" stroke="#554d09"/><path d="M458.8 387.9L465.3 382.8L458.7 380.7L452.1 385.8Z" fill="#a4fc71" stroke="#205501"/><path d="M472 385L478.6 379.9L471.9 377.7L465.3 382.8Z" fill="#b7fc74" stroke="#2b5503"/><path d="M485.2 382.2L491.9 377.3L485.2 375L478.6 379.9Z" fill="#c9fc78" stroke="#365505"/><path d="M498.6 379.7L505.2 375L498.5 372.6L491.9 377.3Z" fill="#d8fc7b" stroke="#3f5506"/><path d="M511.9 377.5L518.6 372.9L511.9 370.4L505.2 375Z" fill="#e5fc7e" stroke="#475508"/><path d="M525.3 375.5L532 371.1L525.3 368.5L518.6 372.9Z" fill="#effc80" stroke="#4d5509"/><path d="M538.7 373.8L545.4 369.6L538.7 366.9L532 371.1Z" fill="#f7fc81" stroke="#52550a"/><path d="M552.1 372.5L558.9 368.5L552.2 365.7L545.4 369.6Z" fill="#fcfb81" stroke="#55550a"/><path d="M565.6 371.5L572.4 367.8L565.7 364.8L558.9 368.5Z" fill="#fcf781" stroke="#55520a"/><path d="M579.1 370.8L585.8 367.4L579.1 364.3L572.4 367.8Z" fill="#fcf580" stroke="#555109"/><path d="M592.5 370.6L599.3 367.4L592.6 364.2L585.8 367.4Z" fill="#fcf580" stroke="#555109"/><path d="M606 370.7L612.8 367.9L606.1 364.6L599.3 367.4Z" fill="#fcf781" stroke="#55520a"/><path d="M452.2 393.1L458.8 387.9L452.1 385.8L445.6 391Z" fill="#8efc6e" stroke="#135500"/><path d="M465.4 390.1L472 385L465.3 382.8L458.8 387.9Z" fill="#a2fc70" stroke="#1f5500"/><path d="M478.7 387.3L485.2 382.2L478.6 379.9L472 385Z" fill="#b5fc73" stroke="#2a5502"/><path d="M491.9 384.6L498.6 379.7L491.9 377.3L485.2 382.2Z" fill="#c6fc77" stroke="#345504"/><path d="M505.2 382.2L511.9 377.5L505.2 375L498.6 379.7Z" fill="#d4fc7a" stroke="#3d5506"/><path d="M518.6 380.1L525.3 375.5L518.6 372.9L511.9 377.5Z" fill="#e0fc7d" stroke="#445508"/><path d="M532 378.2L538.7 373.8L532 371.1L525.3 375.5Z" fill="#eafc7f" stroke="#4a5509"/><path d="M545.4 376.7L552.1 372.5L545.4 369.6L538.7 373.8Z" fill="#f2fc80" stroke="#4f5509"/><path d="M558.8 375.4L565.6 371.5L558.9 368.5L552.1 372.5Z" fill="#f8fc81" stroke="#53550a"/><path d="M572.3 374.5L579.1 370.8L572.4 367.8L565.6 371.5Z" fill="#fbfc81" stroke="#55550a"/><path d="M585.8 374L592.5 370.6L585.8 367.4L579.1 370.8Z" fill="#fcfc81" stroke="#55550a"/><path d="M599.2 373.9L606 370.7L599.3 367.4L592.5 370.6Z" fill="#fcfc81" stroke="#55550a"/><path d="M612.7 374.2L619.4 371.3L612.8 367.9L606 370.7Z" fill="#f9fc81" stroke="#53550a"/><path d="M445.8 398.4L452.2 393.1L445.6 391L439.1 396.3Z" fill="#79fc6d" stroke="#075500"/><path d="M458.9 395.4L465.4 390.1L458.8 387.9L452.2 393.1Z" fill="#8dfc6e" stroke="#125500"/><path d="M472.1 392.4L478.7 387.3L472 385L465.4 390.1Z" fill="#a0fc70" stroke="#1e5500"/><path d="M485.3 389.7L491.9 384.6L485.2 382.2L478.7 387.3Z" fill="#b2fc73" stroke="#285502"/><path d="M498.6 387.2L505.2 382.2L498.6 379.7L491.9 384.6Z" fill="#c2fc76" stroke="#325504"/><path d="M511.9 384.9L518.6 380.1L511.9 377.5L505.2 382.2Z" fill="#d0fc79" stroke="#3a5505"/><path d="M525.3 382.8L532 378.2L525.3 375.5L518.6 380.1Z" fill="#dbfc7c" stroke="#415507"/><path d="M538.7 381.1L545.4 376.7L538.7 373.8L532 378.2Z" fill="#e5fc7e" stroke="#475508"/><path d="M552.1 379.6L558.8 375.4L552.1 372.5L545.4 376.7Z" fill="#ecfc7f" stroke="#4b5509"/><path d="M565.5 378.5L572.3 374.5L565.6 371.5L558.8 375.4Z" fill="#f1fc80" stroke="#4e5509"/><path d="M579 377.7L585.8 374L579.1 370.8L572.3 374.5Z" fill="#f4fc80" stroke="#505509"/><path d="M592.4 377.3L599.2 373.9L592.5 370.6L585.8 374Z" fill="#f5fc80" stroke="#515509"/><path d="M605.9 377.3L612.7 374.2L606 370.7L599.2 373.9Z" fill="#f3fc80" stroke="#505509"/><path d="M619.3 377.7L626.1 374.9L619.4 371.3L612.7 374.2Z" fill="#effc80" stroke="#4d5509"/><path d="M439.3 403.8L445.8 398.4L439.1 396.3L432.7 401.6Z" fill="#6dfc76" stroke="#005505"/><path d="M452.4 400.7L458.9 395.4L452.2 393.1L445.8 398.4Z" fill="#78fc6d" stroke="#065500"/><path d="M465.5 397.7L472.1 392.4L465.4 390.1L458.9 395.4Z" fill="#8bfc6e" stroke="#115500"/><path d="M478.7 394.9L485.3 389.7L478.7 387.3L472.1 392.4Z" fill="#9dfc70" stroke="#1c5500"/><path d="M492 392.2L498.6 387.2L491.9 384.6L485.3 389.7Z" fill="#aefc72" stroke="#265502"/><path d="M505.3 389.8L511.9 384.9L505.2 382.2L498.6 387.2Z" fill="#befc75" stroke="#305503"/><path d="M518.6 387.6L525.3 382.8L518.6 380.1L511.9 384.9Z" fill="#cbfc78" stroke="#375505"/><path d="M532 385.7L538.7 381.1L532 378.2L525.3 382.8Z" fill="#d6fc7b" stroke="#3e5506"/><path d="M545.4 384L552.1 379.6L545.4 376.7L538.7 381.1Z" fill="#dffc7d" stroke="#435508"/><path d="M558.8 382.7L565.5 378.5L558.8 375.4L552.1 379.6Z" fill="#e5fc7e" stroke="#475508"/><path d="M572.2 381.7L579 377.7L572.3 374.5L565.5 378.5Z" fill="#eafc7f" stroke="#4a5509"/><path d="M585.7 381L592.4 377.3L585.8 374L579 377.7Z" fill="#ecfc7f" stroke="#4b5509"/><path d="M599.1 380.7L605.9 377.3L599.2 373.9L592.4 377.3Z" fill="#ecfc7f" stroke="#4b5509"/><path d="M612.5 380.8L619.3 377.7L612.7 374.2L605.9 377.3Z" fill="#eafc7f" stroke="#4a5509"/><path d="M626 381.4L632.7 378.6L626.1 374.9L619.3 377.7Z" fill="#e5fc7e" stroke="#475508"/><path d="M432.8 409.2L439.3 403.8L432.7 401.6L426.2 407Z" fill="#6dfc8a" stroke="#005511"/><path d="M445.9 406L452.4 400.7L445.8 398.4L439.3 403.8Z" fill="#6dfc77" stroke="#005505"/><path d="M459 403L465.5 397.7L458.9 395.4L452.4 400.7Z" fill="#76fc6d" stroke="#055500"/><path d="M472.2 400.1L478.7 394.9L472.1 392.4L465.5 397.7Z" fill="#89fc6e" stroke="#105500"/><path d="M485.4 397.4L492 392.2L485.3 389.7L478.7 394.9Z" fill="#9afc6f" stroke="#1a5500"/><path d="M498.7 394.9L505.3 389.8L498.6 387.2L492 392.2Z" fill="#aafc72" stroke="#235502"/><path d="M512 392.5L518.6 387.6L511.9 384.9L505.3 389.8Z" fill="#b9fc74" stroke="#2d5503"/><path d="M525.3 390.4L532 385.7L525.3 382.8L518.6 387.6Z" fill="#c5fc77" stroke="#345504"/><path d="M538.7 388.6L545.4 384L538.7 381.1L532 385.7Z" fill="#d0fc79" stroke="#3a5505"/><path d="M552.1 387.1L558.8 382.7L552.1 379.6L545.4 384Z" fill="#d8fc7b" stroke="#3f5506"/><path d="M565.5 385.9L572.2 381.7L565.5 378.5L558.8 382.7Z" fill="#defc7d" stroke="#435508"/><path d="M578.9 385L585.7 381L579 377.7L572.2 381.7Z" fill="#e2fc7d" stroke="#455508"/><path d="M592.3 384.4L599.1 380.7L592.4 377.3L585.7 381Z" fill="#e3fc7e" stroke="#465508"/><path d="M605.8 384.2L612.5 380.8L605.9 377.3L599.1 380.7Z" fill="#e3fc7e" stroke="#465508"/><path d="M619.2 384.5L626 381.4L619.3 377.7L612.5 380.8Z" fill="#e0fc7d" stroke="#445508"/><path d="M632.6 385.1L639.3 382.3L632.7 378.6L626 381.4Z" fill="#dafc7c" stroke="#405507"/><path d="M426.4 414.6L432.8 409.2L426.2 407L419.8 412.4Z" fill="#6dfc9f" stroke="#00551d"/><path d="M439.4 411.4L445.9 406L439.3 403.8L432.8 409.2Z" fill="#6dfc8b" stroke="#005511"/><path d="M452.5 408.4L459 403L452.4 400.7L445.9 406Z" fill="#6dfc78" stroke="#005506"/><path d="M465.6 405.5L472.2 400.1L465.5 397.7L459 403Z" fill="#74fc6d" stroke="#045500"/><path d="M478.8 402.7L485.4 397.4L478.7 394.9L472.2 400.1Z" fill="#86fc6e" stroke="#0e5500"/><path d="M492.1 400L498.7 394.9L492 392.2L485.4 397.4Z" fill="#96fc6f" stroke="#175500"/><path d="M505.3 397.6L512 392.5L505.3 389.8L498.7 394.9Z" fill="#a5fc71" stroke="#205501"/><path d="M518.6 395.4L525.3 390.4L518.6 387.6L512 392.5Z" fill="#b3fc73" stroke="#295502"/><path d="M532 393.4L538.7 388.6L532 385.7L525.3 390.4Z" fill="#bffc75" stroke="#305503"/><path d="M545.3 391.7L552.1 387.1L545.4 384L538.7 388.6Z" fill="#c9fc78" stroke="#365505"/><path d="M558.7 390.3L565.5 385.9L558.8 382.7L552.1 387.1Z" fill="#d0fc79" stroke="#3a5505"/><path d="M572.1 389.1L578.9 385L572.2 381.7L565.5 385.9Z" fill="#d6fc7b" stroke="#3e5506"/><path d="M585.6 388.4L592.3 384.4L585.7 381L578.9 385Z" fill="#d9fc7b" stroke="#405506"/><path d="M599 387.9L605.8 384.2L599.1 380.7L592.3 384.4Z" fill="#dafc7c" stroke="#405507"/><path d="M612.4 387.9L619.2 384.5L612.5 380.8L605.8 384.2Z" fill="#d8fc7b" stroke="#3f5506"/><path d="M625.8 388.3L632.6 385.1L626 381.4L619.2 384.5Z" fill="#d4fc7a" stroke="#3d5506"/><path d="M639.2 389L645.9 386.2L639.3 382.3L632.6 385.1Z" fill="#cdfc79" stroke="#395505"/><path d="M420 419.9L426.4 414.6L419.8 412.4L413.4 417.8Z" fill="#6dfcb4" stroke="#00552a"/><path d="M433 416.8L439.4 411.4L432.8 409.2L426.4 414.6Z" fill="#6dfca0" stroke="#00551e"/><path d="M446 413.8L452.5 408.4L445.9 406L439.4 411.4Z" fill="#6dfc8c" stroke="#005512"/><path d="M459.1 410.8L465.6 405.5L459 403L452.5 408.4Z" fill="#6dfc7a" stroke="#005507"/><path d="M472.3 408L478.8 402.7L472.2 400.1L465.6 405.5Z" fill="#71fc6d" stroke="#025500"/><path d="M485.5 405.3L492.1 400L485.4 397.4L478.8 402.7Z" fill="#82fc6e" stroke="#0c5500"/><path d="M498.7 402.8L505.3 397.6L498.7 394.9L492.1 400Z" fill="#91fc6f" stroke="#145500"/><path d="M512 400.5L518.6 395.4L512 392.5L505.3 397.6Z" fill="#a0fc70" stroke="#1e5500"/><path d="M525.3 398.4L532 393.4L525.3 390.4L518.6 395.4Z" fill="#adfc72" stroke="#255502"/><path d="M538.6 396.5L545.3 391.7L538.7 388.6L532 393.4Z" fill="#b8fc74" stroke="#2c5503"/><path d="M552 394.9L558.7 390.3L552.1 387.1L545.3 391.7Z" fill="#c1fc76" stroke="#315504"/><path d="M565.4 393.6L572.1 389.1L565.5 385.9L558.7 390.3Z" fill="#c8fc77" stroke="#365504"/><path d="M578.8 392.6L585.6 388.4L578.9 385L572.1 389.1Z" fill="#cdfc78" stroke="#395505"/><path d="M592.2 391.9L599 387.9L592.3 384.4L585.6 388.4Z" fill="#cffc79" stroke="#3a5505"/><path d="M605.6 391.6L612.4 387.9L605.8 384.2L599 387.9Z" fill="#cffc79" stroke="#3a5505"/><path d="M619 391.7L625.8 388.3L619.2 384.5L612.4 387.9Z" fill="#cdfc79" stroke="#395505"/><path d="M632.4 392.1L639.2 389L632.6 385.1L625.8 388.3Z" fill="#c8fc77" stroke="#365504"/><path d="M645.8 393L652.5 390.3L645.9 386.2L639.2 389Z" fill="#c0fc76" stroke="#315504"/><path d="M413.6 425.3L420 419.9L413.4 417.8L407 423.1Z" fill="#6dfcc8" stroke="#005536"/><path d="M426.5 422.2L433 416.8L426.4 414.6L420 419.9Z" fill="#6dfcb4" stroke="#00552a"/><path d="M439.6 419.2L446 413.8L439.4 411.4L433 416.8Z" fill="#6dfca1" stroke="#00551f"/><path d="M452.6 416.3L459.1 410.8L452.5 408.4L446 413.8Z" fill="#6dfc8e" stroke="#005513"/><path d="M465.7 413.4L472.3 408L465.6 405.5L459.1 410.8Z" fill="#6dfc7d" stroke="#005509"/><path d="M478.9 410.7L485.5 405.3L478.8 402.7L472.3 408Z" fill="#6efc6d" stroke="#005500"/><path d="M492.1 408.1L498.7 402.8L492.1 400L485.5 405.3Z" fill="#7efc6d" stroke="#0a5500"/><path d="M505.4 405.7L512 400.5L505.3 397.6L498.7 402.8Z" fill="#8cfc6e" stroke="#125500"/><path d="M518.6 403.4L525.3 398.4L518.6 395.4L512 400.5Z" fill="#9afc6f" stroke="#1a5500"/><path d="M532 401.4L538.6 396.5L532 393.4L525.3 398.4Z" fill="#a6fc71" stroke="#215501"/><path d="M545.3 399.7L552 394.9L545.3 391.7L538.6 396.5Z" fill="#b0fc72" stroke="#275502"/><path d="M558.7 398.2L565.4 393.6L558.7 390.3L552 394.9Z" fill="#b8fc74" stroke="#2c5503"/><path d="M572 397L578.8 392.6L572.1 389.1L565.4 393.6Z" fill="#bffc75" stroke="#305503"/><path d="M585.4 396.1L592.2 391.9L585.6 388.4L578.8 392.6Z" fill="#c3fc76" stroke="#335504"/><path d="M598.8 395.5L605.6 391.6L599 387.9L592.2 391.9Z" fill="#c4fc77" stroke="#335504"/><path d="M612.2 395.3L619 391.7L612.4 387.9L605.6 391.6Z" fill="#c4fc76" stroke="#335504"/><path d="M625.6 395.5L632.4 392.1L625.8 388.3L619 391.7Z" fill="#c0fc76" stroke="#315504"/><path d="M639 396.1L645.8 393L639.2 389L632.4 392.1Z" fill="#bafc74" stroke="#2d5503"/><path d="M652.3 397.2L659.1 394.4L652.5 390.3L645.8 393Z" fill="#b1fc73" stroke="#285502"/><path d="M407.2 430.6L413.6 425.3L407 423.1L400.6 428.4Z" fill="#6dfcdb" stroke="#005541"/><path d="M420.1 427.6L426.5 422.2L420 419.9L413.6 425.3Z" fill="#6dfcc8" stroke="#005536"/><path d="M433.1 424.6L439.6 419.2L433 416.8L426.5 422.2Z" fill="#6dfcb5" stroke="#00552b"/><path d="M446.1 421.7L452.6 416.3L446 413.8L439.6 419.2Z" fill="#6dfca2" stroke="#00551f"/><path d="M459.2 418.8L465.7 413.4L459.1 410.8L452.6 416.3Z" fill="#6dfc91" stroke="#005515"/><path d="M472.4 416.1L478.9 410.7L472.3 408L465.7 413.4Z" fill="#6dfc80" stroke="#00550b"/><path d="M485.5 413.5L492.1 408.1L485.5 405.3L478.9 410.7Z" fill="#6dfc70" stroke="#005501"/><path d="M498.7 411L505.4 405.7L498.7 402.8L492.1 408.1Z" fill="#79fc6d" stroke="#075500"/><path d="M512 408.6L518.6 403.4L512 400.5L505.4 405.7Z" fill="#87fc6e" stroke="#0f5500"/><path d="M525.3 406.5L532 401.4L525.3 398.4L518.6 403.4Z" fill="#93fc6f" stroke="#165500"/><path d="M538.6 404.6L545.3 399.7L538.6 396.5L532 401.4Z" fill="#9efc70" stroke="#1c5500"/><path d="M551.9 403L558.7 398.2L552 394.9L545.3 399.7Z" fill="#a8fc71" stroke="#225501"/><path d="M565.3 401.6L572 397L565.4 393.6L558.7 398.2Z" fill="#affc72" stroke="#275502"/><path d="M578.7 400.5L585.4 396.1L578.8 392.6L572 397Z" fill="#b5fc73" stroke="#2a5502"/><path d="M592.1 399.7L598.8 395.5L592.2 391.9L585.4 396.1Z" fill="#b8fc74" stroke="#2c5503"/><path d="M605.5 399.3L612.2 395.3L605.6 391.6L598.8 395.5Z" fill="#b9fc74" stroke="#2d5503"/><path d="M618.8 399.2L625.6 395.5L619 391.7L612.2 395.3Z" fill="#b7fc74" stroke="#2b5503"/><path d="M632.2 399.5L639 396.1L632.4 392.1L625.6 395.5Z" fill="#b3fc73" stroke="#295502"/><path d="M645.6 400.3L652.3 397.2L645.8 393L639 396.1Z" fill="#acfc72" stroke="#255502"/><path d="M658.9 401.4L665.6 398.7L659.1 394.4L652.3 397.2Z" fill="#a2fc70" stroke="#1f5500"/><path d="M413.7 432.9L420.1 427.6L413.6 425.3L407.2 430.6Z" fill="#6dfcdb" stroke="#005541"/><path d="M426.7 430L433.1 424.6L426.5 422.2L420.1 427.6Z" fill="#6dfcc8" stroke="#005536"/><path d="M439.7 427.1L446.1 421.7L439.6 419.2L433.1 424.6Z" fill="#6dfcb6" stroke="#00552b"/><path d="M452.7 424.3L459.2 418.8L452.6 416.3L446.1 421.7Z" fill="#6dfca5" stroke="#005521"/><path d="M465.8 421.5L472.4 416.1L465.7 413.4L459.2 418.8Z" fill="#6dfc94" stroke="#005517"/><path d="M479 418.9L485.5 413.5L478.9 410.7L472.4 416.1Z" fill="#6dfc84" stroke="#00550d"/><path d="M492.2 416.3L498.7 411L492.1 408.1L485.5 413.5Z" fill="#6dfc75" stroke="#005504"/><path d="M505.4 413.9L512 408.6L505.4 405.7L498.7 411Z" fill="#73fc6d" stroke="#035500"/><path d="M518.6 411.7L525.3 406.5L518.6 403.4L512 408.6Z" fill="#80fc6e" stroke="#0a5500"/><path d="M531.9 409.7L538.6 404.6L532 401.4L525.3 406.5Z" fill="#8cfc6e" stroke="#125500"/><path d="M545.3 407.9L551.9 403L545.3 399.7L538.6 404.6Z" fill="#96fc6f" stroke="#175500"/><path d="M558.6 406.4L565.3 401.6L558.7 398.2L551.9 403Z" fill="#9ffc70" stroke="#1d5500"/><path d="M572 405.1L578.7 400.5L572 397L565.3 401.6Z" fill="#a6fc71" stroke="#215501"/><path d="M585.3 404.1L592.1 399.7L585.4 396.1L578.7 400.5Z" fill="#aafc72" stroke="#235502"/><path d="M598.7 403.5L605.5 399.3L598.8 395.5L592.1 399.7Z" fill="#adfc72" stroke="#255502"/><path d="M612.1 403.2L618.8 399.2L612.2 395.3L605.5 399.3Z" fill="#adfc72" stroke="#255502"/><path d="M625.4 403.2L632.2 399.5L625.6 395.5L618.8 399.2Z" fill="#aafc72" stroke="#235502"/><path d="M638.8 403.7L645.6 400.3L639 396.1L632.2 399.5Z" fill="#a5fc71" stroke="#205501"/><path d="M652.1 404.5L658.9 401.4L652.3 397.2L645.6 400.3Z" fill="#9dfc70" stroke="#1c5500"/><path d="M420.3 435.3L426.7 430L420.1 427.6L413.7 432.9Z" fill="#6dfcdc" stroke="#005542"/><path d="M433.2 432.5L439.7 427.1L433.1 424.6L426.7 430Z" fill="#6dfcca" stroke="#005537"/><path d="M446.3 429.7L452.7 424.3L446.1 421.7L439.7 427.1Z" fill="#6dfcb8" stroke="#00552c"/><path d="M459.3 427L465.8 421.5L459.2 418.8L452.7 424.3Z" fill="#6dfca7" stroke="#005522"/><path d="M472.4 424.3L479 418.9L472.4 416.1L465.8 421.5Z" fill="#6dfc97" stroke="#005519"/><path d="M485.6 421.8L492.2 416.3L485.5 413.5L479 418.9Z" fill="#6dfc88" stroke="#005510"/><path d="M498.8 419.3L505.4 413.9L498.7 411L492.2 416.3Z" fill="#6dfc7a" stroke="#005507"/><path d="M512 417L518.6 411.7L512 408.6L505.4 413.9Z" fill="#6dfc6d" stroke="#005500"/><path d="M525.3 414.9L531.9 409.7L525.3 406.5L518.6 411.7Z" fill="#79fc6d" stroke="#075500"/><path d="M538.6 413L545.3 407.9L538.6 404.6L531.9 409.7Z" fill="#84fc6e" stroke="#0d5500"/><path d="M551.9 411.3L558.6 406.4L551.9 403L545.3 407.9Z" fill="#8efc6e" stroke="#135500"/><path d="M565.2 409.9L572 405.1L565.3 401.6L558.6 406.4Z" fill="#95fc6f" stroke="#175500"/><path d="M578.6 408.7L585.3 404.1L578.7 400.5L572 405.1Z" fill="#9bfc70" stroke="#1a5500"/><path d="M591.9 407.9L598.7 403.5L592.1 399.7L585.3 404.1Z" fill="#9ffc70" stroke="#1d5500"/><path d="M605.3 407.3L612.1 403.2L605.5 399.3L598.7 403.5Z" fill="#a1fc70" stroke="#1e5500"/><path d="M618.7 407.2L625.4 403.2L618.8 399.2L612.1 403.2Z" fill="#a0fc70" stroke="#1e5500"/><path d="M632 407.3L638.8 403.7L632.2 399.5L625.4 403.2Z" fill="#9cfc70" stroke="#1b5500"/><path d="M645.3 407.9L652.1 404.5L645.6 400.3L638.8 403.7Z" fill="#97fc6f" stroke="#185500"/><path d="M426.8 437.8L433.2 432.5L426.7 430L420.3 435.3Z" fill="#6dfcdd" stroke="#005543"/><path d="M439.8 435.1L446.3 429.7L439.7 427.1L433.2 432.5Z" fill="#6dfccc" stroke="#005538"/><path d="M452.8 432.4L459.3 427L452.7 424.3L446.3 429.7Z" fill="#6dfcbb" stroke="#00552e"/><path d="M465.9 429.8L472.4 424.3L465.8 421.5L459.3 427Z" fill="#6dfcab" stroke="#005525"/><path d="M479 427.2L485.6 421.8L479 418.9L472.4 424.3Z" fill="#6dfc9b" stroke="#00551b"/><path d="M492.2 424.8L498.8 419.3L492.2 416.3L485.6 421.8Z" fill="#6dfc8d" stroke="#005513"/><path d="M505.4 422.4L512 417L505.4 413.9L498.8 419.3Z" fill="#6dfc7f" stroke="#00550a"/><path d="M518.6 420.3L525.3 414.9L518.6 411.7L512 417Z" fill="#6dfc73" stroke="#005503"/><path d="M531.9 418.3L538.6 413L531.9 409.7L525.3 414.9Z" fill="#72fc6d" stroke="#025500"/><path d="M545.2 416.5L551.9 411.3L545.3 407.9L538.6 413Z" fill="#7cfc6d" stroke="#085500"/><path d="M558.5 414.9L565.2 409.9L558.6 406.4L551.9 411.3Z" fill="#85fc6e" stroke="#0d5500"/><path d="M571.8 413.6L578.6 408.7L572 405.1L565.2 409.9Z" fill="#8bfc6e" stroke="#115500"/><path d="M585.2 412.5L591.9 407.9L585.3 404.1L578.6 408.7Z" fill="#90fc6f" stroke="#145500"/><path d="M598.5 411.8L605.3 407.3L598.7 403.5L591.9 407.9Z" fill="#93fc6f" stroke="#165500"/><path d="M611.9 411.3L618.7 407.2L612.1 403.2L605.3 407.3Z" fill="#94fc6f" stroke="#165500"/><path d="M625.2 411.3L632 407.3L625.4 403.2L618.7 407.2Z" fill="#92fc6f" stroke="#155500"/><path d="M638.6 411.6L645.3 407.9L638.8 403.7L632 407.3Z" fill="#8efc6e" stroke="#135500"/><path d="M433.4 440.4L439.8 435.1L433.2 432.5L426.8 437.8Z" fill="#6dfcdf" stroke="#005544"/><path d="M446.4 437.8L452.8 432.4L446.3 429.7L439.8 435.1Z" fill="#6dfcce" stroke="#00553a"/><path d="M459.4 435.2L465.9 429.8L459.3 427L452.8 432.4Z" fill="#6dfcbe" stroke="#005530"/><path d="M472.5 432.7L479 427.2L472.4 424.3L465.9 429.8Z" fill="#6dfcaf" stroke="#005527"/><path d="M485.7 430.2L492.2 424.8L485.6 421.8L479 427.2Z" fill="#6dfca0" stroke="#00551e"/><path d="M498.8 427.9L505.4 422.4L498.8 419.3L492.2 424.8Z" fill="#6dfc92" stroke="#005516"/><path d="M512 425.7L518.6 420.3L512 417L505.4 422.4Z" fill="#6dfc85" stroke="#00550e"/><path d="M525.3 423.6L531.9 418.3L525.3 414.9L518.6 420.3Z" fill="#6dfc7a" stroke="#005507"/><path d="M538.5 421.7L545.2 416.5L538.6 413L531.9 418.3Z" fill="#6dfc6f" stroke="#005501"/><path d="M551.8 420L558.5 414.9L551.9 411.3L545.2 416.5Z" fill="#73fc6d" stroke="#035500"/><path d="M565.1 418.5L571.8 413.6L565.2 409.9L558.5 414.9Z" fill="#7bfc6d" stroke="#085500"/><path d="M578.5 417.3L585.2 412.5L578.6 408.7L571.8 413.6Z" fill="#81fc6e" stroke="#0b5500"/><path d="M591.8 416.4L598.5 411.8L591.9 407.9L585.2 412.5Z" fill="#85fc6e" stroke="#0d5500"/><path d="M605.1 415.8L611.9 411.3L605.3 407.3L598.5 411.8Z" fill="#87fc6e" stroke="#0f5500"/><path d="M618.5 415.4L625.2 411.3L618.7 407.2L611.9 411.3Z" fill="#87fc6e" stroke="#0f5500"/><path d="M631.8 415.5L638.6 411.6L632 407.3L625.2 411.3Z" fill="#85fc6e" stroke="#0d5500"/><path d="M439.9 443.2L446.4 437.8L439.8 435.1L433.4 440.4Z" fill="#6dfce1" stroke="#005545"/><path d="M453 440.7L459.4 435.2L452.8 432.4L446.4 437.8Z" fill="#6dfcd1" stroke="#00553b"/><path d="M466 438.2L472.5 432.7L465.9 429.8L459.4 435.2Z" fill="#6dfcc2" stroke="#005532"/><path d="M479.1 435.7L485.7 430.2L479 427.2L472.5 432.7Z" fill="#6dfcb3" stroke="#005529"/><path d="M492.3 433.4L498.8 427.9L492.2 424.8L485.7 430.2Z" fill="#6dfca5" stroke="#005521"/><path d="M505.4 431.1L512 425.7L505.4 422.4L498.8 427.9Z" fill="#6dfc98" stroke="#005519"/><path d="M518.6 429L525.3 423.6L518.6 420.3L512 425.7Z" fill="#6dfc8c" stroke="#005512"/><path d="M531.9 427L538.5 421.7L531.9 418.3L525.3 423.6Z" fill="#6dfc81" stroke="#00550b"/><path d="M545.1 425.2L551.8 420L545.2 416.5L538.5 421.7Z" fill="#6dfc78" stroke="#005506"/><path d="M558.4 423.6L565.1 418.5L558.5 414.9L551.8 420Z" fill="#6dfc70" stroke="#005501"/><path d="M571.7 422.3L578.5 417.3L571.8 413.6L565.1 418.5Z" fill="#71fc6d" stroke="#025500"/><path d="M585.1 421.2L591.8 416.4L585.2 412.5L578.5 417.3Z" fill="#76fc6d" stroke="#055500"/><path d="M598.4 420.4L605.1 415.8L598.5 411.8L591.8 416.4Z" fill="#79fc6d" stroke="#075500"/><path d="M611.7 419.9L618.5 415.4L611.9 411.3L605.1 415.8Z" fill="#7bfc6d" stroke="#085500"/><path d="M625 419.7L631.8 415.5L625.2 411.3L618.5 415.4Z" fill="#7afc6d" stroke="#075500"/><path d="M446.5 446L453 440.7L446.4 437.8L439.9 443.2Z" fill="#6dfce4" stroke="#005547"/><path d="M459.5 443.6L466 438.2L459.4 435.2L453 440.7Z" fill="#6dfcd5" stroke="#00553e"/><path d="M472.6 441.2L479.1 435.7L472.5 432.7L466 438.2Z" fill="#6dfcc6" stroke="#005535"/><path d="M485.7 438.9L492.3 433.4L485.7 430.2L479.1 435.7Z" fill="#6dfcb8" stroke="#00552c"/><path d="M498.9 436.6L505.4 431.1L498.8 427.9L492.3 433.4Z" fill="#6dfcab" stroke="#005525"/><path d="M512 434.5L518.6 429L512 425.7L505.4 431.1Z" fill="#6dfc9f" stroke="#00551d"/><path d="M525.2 432.4L531.9 427L525.3 423.6L518.6 429Z" fill="#6dfc93" stroke="#005516"/><path d="M538.5 430.6L545.1 425.2L538.5 421.7L531.9 427Z" fill="#6dfc89" stroke="#005510"/><path d="M551.7 428.9L558.4 423.6L551.8 420L545.1 425.2Z" fill="#6dfc80" stroke="#00550b"/><path d="M565 427.4L571.7 422.3L565.1 418.5L558.4 423.6Z" fill="#6dfc79" stroke="#005507"/><path d="M578.3 426.2L585.1 421.2L578.5 417.3L571.7 422.3Z" fill="#6dfc73" stroke="#005503"/><path d="M591.6 425.2L598.4 420.4L591.8 416.4L585.1 421.2Z" fill="#6dfc6f" stroke="#005501"/><path d="M604.9 424.5L611.7 419.9L605.1 415.8L598.4 420.4Z" fill="#6dfc6d" stroke="#005500"/><path d="M618.3 424.1L625 419.7L618.5 415.4L611.7 419.9Z" fill="#6efc6d" stroke="#005500"/><path d="M453 449L459.5 443.6L453 440.7L446.5 446Z" fill="#6dfce7" stroke="#005549"/><path d="M466.1 446.6L472.6 441.2L466 438.2L459.5 443.6Z" fill="#6dfcd9" stroke="#005540"/><path d="M479.2 444.4L485.7 438.9L479.1 435.7L472.6 441.2Z" fill="#6dfccb" stroke="#005538"/><path d="M492.3 442.1L498.9 436.6L492.3 433.4L485.7 438.9Z" fill="#6dfcbe" stroke="#005530"/><path d="M505.4 440L512 434.5L505.4 431.1L498.9 436.6Z" fill="#6dfcb1" stroke="#005528"/><path d="M518.6 437.9L525.2 432.4L518.6 429L512 434.5Z" fill="#6dfca6" stroke="#005522"/><path d="M531.8 436L538.5 430.6L531.9 427L525.2 432.4Z" fill="#6dfc9b" stroke="#00551b"/><path d="M545.1 434.2L551.7 428.9L545.1 425.2L538.5 430.6Z" fill="#6dfc92" stroke="#005516"/><path d="M558.3 432.7L565 427.4L558.4 423.6L551.7 428.9Z" fill="#6dfc8a" stroke="#005511"/><path d="M571.6 431.3L578.3 426.2L571.7 422.3L565 427.4Z" fill="#6dfc83" stroke="#00550d"/><path d="M584.9 430.2L591.6 425.2L585.1 421.2L578.3 426.2Z" fill="#6dfc7e" stroke="#00550a"/><path d="M598.2 429.3L604.9 424.5L598.4 420.4L591.6 425.2Z" fill="#6dfc7a" stroke="#005507"/><path d="M611.5 428.7L618.3 424.1L611.7 419.9L604.9 424.5Z" fill="#6dfc79" stroke="#005507"/><path d="M459.6 452L466.1 446.6L459.5 443.6L453 449Z" fill="#6dfceb" stroke="#00554b"/><path d="M472.7 449.8L479.2 444.4L472.6 441.2L466.1 446.6Z" fill="#6dfcdd" stroke="#005543"/><path d="M485.8 447.6L492.3 442.1L485.7 438.9L479.2 444.4Z" fill="#6dfcd0" stroke="#00553b"/><path d="M498.9 445.5L505.4 440L498.9 436.6L492.3 442.1Z" fill="#6dfcc4" stroke="#005534"/><path d="M512 443.4L518.6 437.9L512 434.5L505.4 440Z" fill="#6dfcb8" stroke="#00552c"/><path d="M525.2 441.5L531.8 436L525.2 432.4L518.6 437.9Z" fill="#6dfcad" stroke="#005526"/><path d="M538.4 439.7L545.1 434.2L538.5 430.6L531.8 436Z" fill="#6dfca3" stroke="#005520"/><path d="M551.7 438L558.3 432.7L551.7 428.9L545.1 434.2Z" fill="#6dfc9b" stroke="#00551b"/><path d="M564.9 436.6L571.6 431.3L565 427.4L558.3 432.7Z" fill="#6dfc93" stroke="#005516"/><path d="M578.2 435.3L584.9 430.2L578.3 426.2L571.6 431.3Z" fill="#6dfc8d" stroke="#005513"/><path d="M591.5 434.3L598.2 429.3L591.6 425.2L584.9 430.2Z" fill="#6dfc89" stroke="#005510"/><path d="M604.8 433.5L611.5 428.7L604.9 424.5L598.2 429.3Z" fill="#6dfc86" stroke="#00550e"/><path d="M466.2 455.2L472.7 449.8L466.1 446.6L459.6 452Z" fill="#6dfcef" stroke="#00554d"/><path d="M479.2 453.1L485.8 447.6L479.2 444.4L472.7 449.8Z" fill="#6dfce2" stroke="#005546"/><path d="M492.3 451L498.9 445.5L492.3 442.1L485.8 447.6Z" fill="#6dfcd6" stroke="#00553e"/><path d="M505.5 448.9L512 443.4L505.4 440L498.9 445.5Z" fill="#6dfcca" stroke="#005537"/><path d="M518.6 447L525.2 441.5L518.6 437.9L512 443.4Z" fill="#6dfcbf" stroke="#005531"/><path d="M531.8 445.2L538.4 439.7L531.8 436L525.2 441.5Z" fill="#6dfcb5" stroke="#00552b"/><path d="M545 443.5L551.7 438L545.1 434.2L538.4 439.7Z" fill="#6dfcac" stroke="#005525"/><path d="M558.2 441.9L564.9 436.6L558.3 432.7L551.7 438Z" fill="#6dfca4" stroke="#005520"/><path d="M571.5 440.6L578.2 435.3L571.6 431.3L564.9 436.6Z" fill="#6dfc9e" stroke="#00551d"/><path d="M584.7 439.4L591.5 434.3L584.9 430.2L578.2 435.3Z" fill="#6dfc99" stroke="#00551a"/><path d="M598 438.5L604.8 433.5L598.2 429.3L591.5 434.3Z" fill="#6dfc95" stroke="#005517"/><path d="M472.7 458.5L479.2 453.1L472.7 449.8L466.2 455.2Z" fill="#6dfcf4" stroke="#005550"/><path d="M485.8 456.5L492.3 451L485.8 447.6L479.2 453.1Z" fill="#6dfce8" stroke="#005549"/><path d="M498.9 454.5L505.5 448.9L498.9 445.5L492.3 451Z" fill="#6dfcdc" stroke="#005542"/><path d="M512 452.5L518.6 447L512 443.4L505.5 448.9Z" fill="#6dfcd1" stroke="#00553b"/><path d="M525.2 450.7L531.8 445.2L525.2 441.5L518.6 447Z" fill="#6dfcc7" stroke="#005535"/><path d="M538.4 448.9L545 443.5L538.4 439.7L531.8 445.2Z" fill="#6dfcbe" stroke="#005530"/><path d="M551.6 447.4L558.2 441.9L551.7 438L545 443.5Z" fill="#6dfcb6" stroke="#00552b"/><path d="M564.8 445.9L571.5 440.6L564.9 436.6L558.2 441.9Z" fill="#6dfcae" stroke="#005526"/><path d="M578 444.7L584.7 439.4L578.2 435.3L571.5 440.6Z" fill="#6dfca9" stroke="#005523"/><path d="M591.3 443.6L598 438.5L591.5 434.3L584.7 439.4Z" fill="#6dfca4" stroke="#005520"/><path d="M479.3 461.9L485.8 456.5L479.2 453.1L472.7 458.5Z" fill="#6dfcfa" stroke="#005554"/><path d="M492.4 459.9L498.9 454.5L492.3 451L485.8 456.5Z" fill="#6dfcee" stroke="#00554d"/><path d="M505.5 458.1L512 452.5L505.5 448.9L498.9 454.5Z" fill="#6dfce3" stroke="#005546"/><path d="M518.6 456.2L525.2 450.7L518.6 447L512 452.5Z" fill="#6dfcd9" stroke="#005540"/><path d="M531.7 454.5L538.4 448.9L531.8 445.2L525.2 450.7Z" fill="#6dfcd0" stroke="#00553b"/><path d="M544.9 452.9L551.6 447.4L545 443.5L538.4 448.9Z" fill="#6dfcc7" stroke="#005535"/><path d="M558.1 451.4L564.8 445.9L558.2 441.9L551.6 447.4Z" fill="#6dfcbf" stroke="#005531"/><path d="M571.4 450L578 444.7L571.5 440.6L564.8 445.9Z" fill="#6dfcb9" stroke="#00552d"/><path d="M584.6 448.9L591.3 443.6L584.7 439.4L578 444.7Z" fill="#6dfcb4" stroke="#00552a"/><path d="M485.8 465.4L492.4 459.9L485.8 456.5L479.3 461.9Z" fill="#6df9fc" stroke="#005355"/><path d="M498.9 463.5L505.5 458.1L498.9 454.5L492.4 459.9Z" fill="#6dfcf5" stroke="#005551"/><path d="M512 461.8L518.6 456.2L512 452.5L505.5 458.1Z" fill="#6dfceb" stroke="#00554b"/><path d="M525.1 460L531.7 454.5L525.2 450.7L518.6 456.2Z" fill="#6dfce1" stroke="#005545"/><path d="M538.3 458.4L544.9 452.9L538.4 448.9L531.7 454.5Z" fill="#6dfcd8" stroke="#005540"/><path d="M551.5 456.9L558.1 451.4L551.6 447.4L544.9 452.9Z" fill="#6dfcd1" stroke="#00553b"/><path d="M564.7 455.5L571.4 450L564.8 445.9L558.1 451.4Z" fill="#6dfcca" stroke="#005537"/><path d="M577.9 454.3L584.6 448.9L578 444.7L571.4 450Z" fill="#6dfcc4" stroke="#005534"/><path d="M492.4 469L498.9 463.5L492.4 459.9L485.8 465.4Z" fill="#6df3fc" stroke="#005055"/><path d="M505.5 467.3L512 461.8L505.5 458.1L498.9 463.5Z" fill="#6dfcfc" stroke="#005555"/><path d="M518.6 465.6L525.1 460L518.6 456.2L512 461.8Z" fill="#6dfcf3" stroke="#005550"/><path d="M531.7 464L538.3 458.4L531.7 454.5L525.1 460Z" fill="#6dfcea" stroke="#00554a"/><path d="M544.9 462.4L551.5 456.9L544.9 452.9L538.3 458.4Z" fill="#6dfce2" stroke="#005546"/><path d="M558 461L564.7 455.5L558.1 451.4L551.5 456.9Z" fill="#6dfcdb" stroke="#005541"/><path d="M571.2 459.7L577.9 454.3L571.4 450L564.7 455.5Z" fill="#6dfcd5" stroke="#00553e"/><path d="M498.9 472.7L505.5 467.3L498.9 463.5L492.4 469Z" fill="#6decfc" stroke="#004c55"/><path d="M512 471.1L518.6 465.6L512 461.8L505.5 467.3Z" fill="#6df5fc" stroke="#005155"/><path d="M525.1 469.5L531.7 464L525.1 460L518.6 465.6Z" fill="#6dfcfb" stroke="#005555"/><path d="M538.2 468L544.9 462.4L538.3 458.4L531.7 464Z" fill="#6dfcf3" stroke="#005550"/><path d="M551.4 466.6L558 461L551.5 456.9L544.9 462.4Z" fill="#6dfcec" stroke="#00554c"/><path d="M564.6 465.3L571.2 459.7L564.7 455.5L558 461Z" fill="#6dfce5" stroke="#005547"/><path d="M505.4 476.5L512 471.1L505.5 467.3L498.9 472.7Z" fill="#6de4fc" stroke="#004755"/><path d="M518.5 475L525.1 469.5L518.6 465.6L512 471.1Z" fill="#6dedfc" stroke="#004c55"/><path d="M531.6 473.6L538.2 468L531.7 464L525.1 469.5Z" fill="#6df5fc" stroke="#005155"/><path d="M544.8 472.1L551.4 466.6L544.9 462.4L538.2 468Z" fill="#6dfcfc" stroke="#005555"/><path d="M557.9 470.8L564.6 465.3L558 461L551.4 466.6Z" fill="#6dfcf6" stroke="#005552"/><path d="M512 480.5L518.5 475L512 471.1L505.4 476.5Z" fill="#6ddcfc" stroke="#004255"/><path d="M525.1 479.1L531.6 473.6L525.1 469.5L518.5 475Z" fill="#6de4fc" stroke="#004755"/><path d="M538.2 477.7L544.8 472.1L538.2 468L531.6 473.6Z" fill="#6debfc" stroke="#004b55"/><path d="M551.3 476.4L557.9 470.8L551.4 466.6L544.8 472.1Z" fill="#6df2fc" stroke="#004f55"/><path d="M518.5 484.5L525.1 479.1L518.5 475L512 480.5Z" fill="#6dd4fc" stroke="#003d55"/><path d="M531.6 483.2L538.2 477.7L531.6 473.6L525.1 479.1Z" fill="#6ddbfc" stroke="#004155"/><path d="M544.7 482L551.3 476.4L544.8 472.1L538.2 477.7Z" fill="#6de1fc" stroke="#004555"/><path d="M525 488.7L531.6 483.2L525.1 479.1L518.5 484.5Z" fill="#6dcbfc" stroke="#003855"/><path d="M538.1 487.5L544.7 482L538.2 477.7L531.6 483.2Z" fill="#6dd1fc" stroke="#003b55"/><path d="M531.5 493L538.1 487.5L531.6 483.2L525 488.7Z" fill="#6dc1fc" stroke="#003255"/></g>
<path d="M97.6 759.4L91.5 617.5 M124.6 750.1L119.9 610.9 M151.5 740.8L148.4 604.2 M178.5 731.5L176.8 597.6 M306.8 757.3L311.8 615.8 M273 745.6L276.3 607.5 M239.2 733.9L240.7 599.2 M70.6 768.6L205.4 722.2 M205.4 722.2L340.5 769 M69.4 744.5L205.4 700.3 M205.4 700.3L341.7 744.8 M68.1 720.4L205.3 678.4 M205.3 678.4L342.8 720.6 M66.9 696.3L205.3 656.4 M205.3 656.4L344 696.4 M65.6 672.2L205.3 634.5 M205.3 634.5L345.1 672.2 M64.3 648L205.2 612.6 M205.2 612.6L346.3 648 M63.1 623.9L205.2 590.7 M205.2 590.7L347.4 623.8" stroke="#1a1a1a" stroke-width="1.15" fill="none"/>
<path d="M73 813.6L63.1 624.2 M205.5 763.1L205.2 590.9 M338.4 814.1L347.4 624.1 M63.1 624.2L205.2 590.9 M205.2 590.9L347.4 624.1" stroke="#111" stroke-width="1.1" fill="none"/>
<g fill="#111"><circle cx="70.6" cy="768.6" r="1.3"/><circle cx="69.4" cy="744.5" r="1.3"/><circle cx="68.1" cy="720.4" r="1.3"/><circle cx="66.9" cy="696.3" r="1.3"/><circle cx="65.6" cy="672.2" r="1.3"/><circle cx="64.3" cy="648" r="1.3"/><circle cx="63.1" cy="623.9" r="1.3"/></g>
<polygon points="206.1,877.7 338.4,814.1 205.5,763.1 73,813.6" fill="#666" stroke="#0d0d0d" stroke-width="1.4" stroke-linejoin="round"/>
<path d="M192.5 871.1L196.5 870.5L200.5 869.9L204.4 869.2L208.3 868.5L212.1 867.8L215.9 867L219.6 866.3L224 865.3L228.7 864.2L232.2 863.3L235.8 862.4L240.3 861.3L240.3 861.3" stroke="#59b0de" stroke-width="1.8" fill="none"/>
<path d="M98.2 804L97.7 805.9L97.3 807.8L97 809L96.6 811L96.2 812.8L96 814.2L95.6 816.3L95.3 817.8L95.1 819.5L94.8 821.5L94.6 822.8L94.5 824" stroke="#59b0de" stroke-width="1.8" fill="none"/>
<path d="M124.9 793.8L125.1 795.9L125.2 797.1L125.4 799.2L125.5 800.5L125.8 802.4L126 804.1L126.3 805.6L126.7 807.7L127 809.1L127.4 810.9L128 813L128.4 814.3L129 816L129.8 818L130.6 820L131.3 821.5L132.2 823L133.3 824.8L134.5 826.7L135.9 828.5L137.4 830.2L139.6 832.4L141.8 834.4L143.9 835.9L147.3 838.1L151.1 840.1L155.4 841.9L160.1 843.5L163.6 844.4L167.2 845.2L171.2 845.9L175.4 846.5L179.9 847L184.3 847.3L187.2 847.4L192.4 847.5L195.2 847.5L200.2 847.4L203.9 847.2L207.4 847L211.9 846.6L216.4 846.2L220.6 845.7L224.2 845.2L228 844.7L231.9 844.2L235.9 843.5L240 842.8L244.2 842.1L248.6 841.2L252.6 840.4L256.4 839.6L260.1 838.8L263.8 838L267.5 837.2L272.6 836L276.6 835.1L280.2 834.2L283.7 833.3L288.6 832L292.5 831L296.1 830.1L299.9 829L304.8 827.7L308.2 826.7L311.7 825.8L316.8 824.3L317.7 824" stroke="#59deb4" stroke-width="1.8" fill="none"/>
<path d="M148.9 784.7L149.7 786.6L150.5 788.3L151.1 789.7L151.9 791.2L152.9 793L153.9 794.8L155 796.6L156.2 798.3L157.5 800.1L158.8 801.8L160.3 803.5L161.8 805.1L163.4 806.7L165.2 808.3L167.5 810.2L170 812L172.2 813.4L175.7 815.4L179.6 817.2L183.8 818.9L187.6 820.2L191.8 821.4L195.3 822.2L199.1 822.9L203.2 823.6L207.2 824.1L211.7 824.5L216.4 824.8L219.6 824.9L223.9 825L227.9 824.9L232.1 824.8L235.5 824.7L240.4 824.4L244.1 824.2L247.4 823.9L251.9 823.5L256.3 823L260.6 822.5L264.5 821.9L268.2 821.4L272 820.9L275.8 820.2L279.8 819.6L283.8 818.9L288 818.1L292.2 817.3L296.5 816.5L300.9 815.6L304.7 814.8L308.5 814L312.3 813.2L316 812.4L319.8 811.5L324.1 810.5L327.2 809.8" stroke="#59de5d" stroke-width="1.8" fill="none"/>
<path d="M170.4 776.5L171.7 778.1L173.1 779.7L174.5 781.3L176 782.9L177.9 784.7L180.1 786.7L181.9 788.2L183.8 789.6L186.3 791.4L188.8 793.1L191.9 794.9L194.6 796.3L198.4 798.1L202.4 799.7L206.8 801.3L210 802.2L214.9 803.5L218.5 804.3L222.1 804.9L226 805.5L230.1 806.1L234.4 806.5L238.8 806.8L242.8 807L245.9 807.1L251 807.2L254.3 807.2L258.9 807.1L262.3 807L267.3 806.8L270.4 806.6L274.6 806.3L279.3 805.9L282.8 805.5L286.1 805.2L290.6 804.7L295 804.2L299.3 803.6L303.4 803L307.1 802.5L307.8 802.4" stroke="#b1de63" stroke-width="1.8" fill="none"/>
<path d="M189.8 769.1L191.5 770.5L193.3 771.9L196.2 774L198.2 775.3L200.5 776.8L203.5 778.5L207 780.4L209.4 781.5L213.3 783.2L217.3 784.8L221.6 786.3L224.7 787.2L229.5 788.5L232.9 789.3L236.4 790L241.3 790.9L245.7 791.5L249.7 792L253.4 792.3L256.9 792.6L260.8 792.8L265.5 793L269.5 793.1L272.8 793.2L278 793.1L280.7 793.1L283.4 793" stroke="#debb65" stroke-width="1.8" fill="none"/>
<g fill="#111"><circle cx="206.1" cy="877.7" r="1.3"/><circle cx="232.6" cy="865" r="1.3"/><circle cx="259" cy="852.3" r="1.3"/><circle cx="285.5" cy="839.5" r="1.3"/><circle cx="311.9" cy="826.8" r="1.3"/><circle cx="338.4" cy="814.1" r="1.3"/><circle cx="206.1" cy="877.7" r="1.3"/><circle cx="172.8" cy="861.7" r="1.3"/><circle cx="139.6" cy="845.7" r="1.3"/><circle cx="106.3" cy="829.6" r="1.3"/><circle cx="73" cy="813.6" r="1.3"/></g>
<g stroke-width="0.85" stroke-linejoin="round"><path d="M205.3 621.4L212.3 613L205.2 612.7L198.2 621.3Z" fill="#fc8e6e" stroke="#551300"/><path d="M198.3 629.7L205.3 621.4L198.2 621.3L191.2 629.8Z" fill="#fcb373" stroke="#552902"/><path d="M212.3 622.1L219.3 613.9L212.3 613L205.3 621.4Z" fill="#fc876e" stroke="#550f00"/><path d="M191.3 637.9L198.3 629.7L191.2 629.8L184.3 638.2Z" fill="#fcd57b" stroke="#553d06"/><path d="M205.3 630.2L212.3 622.1L205.3 621.4L198.3 629.7Z" fill="#fcaa72" stroke="#552302"/><path d="M219.3 623.3L226.4 615.3L219.3 613.9L212.3 622.1Z" fill="#fc836e" stroke="#550c00"/><path d="M184.4 645.9L191.3 637.9L184.3 638.2L177.4 646.3Z" fill="#fcf380" stroke="#555009"/><path d="M198.3 638.1L205.3 630.2L198.3 629.7L191.3 637.9Z" fill="#fccc78" stroke="#553805"/><path d="M212.3 631.2L219.3 623.3L212.3 622.1L205.3 630.2Z" fill="#fca571" stroke="#552001"/><path d="M226.4 625.1L233.5 617.3L226.4 615.3L219.3 623.3Z" fill="#fc826e" stroke="#550c00"/><path d="M177.4 653.7L184.4 645.9L177.4 646.3L170.5 654.4Z" fill="#eafc7f" stroke="#4a5509"/><path d="M191.3 645.9L198.3 638.1L191.3 637.9L184.4 645.9Z" fill="#fcea7f" stroke="#554a09"/><path d="M205.3 639L212.3 631.2L205.3 630.2L198.3 638.1Z" fill="#fcc577" stroke="#553404"/><path d="M219.3 632.8L226.4 625.1L219.3 623.3L212.3 631.2Z" fill="#fca270" stroke="#551f00"/><path d="M233.4 627.4L240.5 619.8L233.5 617.3L226.4 625.1Z" fill="#fc836e" stroke="#550c00"/><path d="M170.6 661.4L177.4 653.7L170.5 654.4L163.7 662.3Z" fill="#cdfc79" stroke="#395505"/><path d="M184.4 653.6L191.3 645.9L184.4 645.9L177.4 653.7Z" fill="#f5fc80" stroke="#515509"/><path d="M198.3 646.6L205.3 639L198.3 638.1L191.3 645.9Z" fill="#fce37e" stroke="#554608"/><path d="M212.3 640.3L219.3 632.8L212.3 631.2L205.3 639Z" fill="#fcc276" stroke="#553204"/><path d="M226.4 634.9L233.4 627.4L226.4 625.1L219.3 632.8Z" fill="#fca370" stroke="#551f00"/><path d="M240.4 630.3L247.6 622.8L240.5 619.8L233.4 627.4Z" fill="#fc886e" stroke="#550f00"/><path d="M163.7 669L170.6 661.4L163.7 662.3L156.8 670Z" fill="#affc72" stroke="#275502"/><path d="M177.5 661.1L184.4 653.6L177.4 653.7L170.6 661.4Z" fill="#dafc7c" stroke="#405507"/><path d="M191.4 654L198.3 646.6L191.3 645.9L184.4 653.6Z" fill="#fcfc81" stroke="#55550a"/><path d="M205.3 647.8L212.3 640.3L205.3 639L198.3 646.6Z" fill="#fcde7d" stroke="#554308"/><path d="M219.3 642.3L226.4 634.9L219.3 632.8L212.3 640.3Z" fill="#fcc176" stroke="#553104"/><path d="M233.4 637.6L240.4 630.3L233.4 627.4L226.4 634.9Z" fill="#fca671" stroke="#552101"/><path d="M247.5 633.6L254.6 626.4L247.6 622.8L240.4 630.3Z" fill="#fc906e" stroke="#551400"/><path d="M156.9 676.4L163.7 669L156.8 670L150.1 677.7Z" fill="#90fc6f" stroke="#145500"/><path d="M170.6 668.5L177.5 661.1L170.6 661.4L163.7 669Z" fill="#befc75" stroke="#305503"/><path d="M184.5 661.4L191.4 654L184.4 653.6L177.5 661.1Z" fill="#e4fc7e" stroke="#465508"/><path d="M198.3 655L205.3 647.8L198.3 646.6L191.4 654Z" fill="#fcf781" stroke="#55520a"/><path d="M212.3 649.5L219.3 642.3L212.3 640.3L205.3 647.8Z" fill="#fcdc7c" stroke="#554207"/><path d="M226.3 644.7L233.4 637.6L226.4 634.9L219.3 642.3Z" fill="#fcc376" stroke="#553304"/><path d="M240.4 640.8L247.5 633.6L240.4 630.3L233.4 637.6Z" fill="#fcac72" stroke="#552502"/><path d="M254.5 637.6L261.6 630.5L254.6 626.4L247.5 633.6Z" fill="#fc9a6f" stroke="#551a00"/><path d="M150.1 683.8L156.9 676.4L150.1 677.7L143.3 685.2Z" fill="#74fc6d" stroke="#045500"/><path d="M163.8 675.8L170.6 668.5L163.7 669L156.9 676.4Z" fill="#a1fc70" stroke="#1e5500"/><path d="M177.6 668.6L184.5 661.4L177.5 661.1L170.6 668.5Z" fill="#c9fc78" stroke="#365505"/><path d="M191.4 662.2L198.3 655L191.4 654L184.5 661.4Z" fill="#eafc7f" stroke="#4a5509"/><path d="M205.3 656.6L212.3 649.5L205.3 647.8L198.3 655Z" fill="#fcf480" stroke="#555009"/><path d="M219.3 651.8L226.3 644.7L219.3 642.3L212.3 649.5Z" fill="#fcdd7c" stroke="#554207"/><path d="M233.3 647.7L240.4 640.8L233.4 637.6L226.3 644.7Z" fill="#fcc877" stroke="#553604"/><path d="M247.4 644.5L254.5 637.6L247.5 633.6L240.4 640.8Z" fill="#fcb673" stroke="#552b02"/><path d="M261.4 642L268.6 635.1L261.6 630.5L254.5 637.6Z" fill="#fca771" stroke="#552201"/><path d="M143.3 691L150.1 683.8L143.3 685.2L136.5 692.6Z" fill="#6dfc81" stroke="#00550b"/><path d="M157 682.9L163.8 675.8L156.9 676.4L150.1 683.8Z" fill="#85fc6e" stroke="#0d5500"/><path d="M170.7 675.7L177.6 668.6L170.6 668.5L163.8 675.8Z" fill="#aefc72" stroke="#265502"/><path d="M184.5 669.2L191.4 662.2L184.5 661.4L177.6 668.6Z" fill="#d2fc7a" stroke="#3c5506"/><path d="M198.4 663.6L205.3 656.6L198.3 655L191.4 662.2Z" fill="#eefc80" stroke="#4d5509"/><path d="M212.3 658.7L219.3 651.8L212.3 649.5L205.3 656.6Z" fill="#fcf480" stroke="#555009"/><path d="M226.3 654.6L233.3 647.7L226.3 644.7L219.3 651.8Z" fill="#fce07d" stroke="#554408"/><path d="M240.3 651.3L247.4 644.5L240.4 640.8L233.3 647.7Z" fill="#fccf79" stroke="#553a05"/><path d="M254.4 648.7L261.4 642L254.5 637.6L247.4 644.5Z" fill="#fcc176" stroke="#553104"/><path d="M268.4 646.9L275.5 640.2L268.6 635.1L261.4 642Z" fill="#fcb774" stroke="#552b03"/><path d="M136.6 698.1L143.3 691L136.5 692.6L129.8 699.9Z" fill="#6dfb9b" stroke="#00551b"/><path d="M150.2 690L157 682.9L150.1 683.8L143.3 691Z" fill="#6dfc6f" stroke="#005501"/><path d="M163.8 682.6L170.7 675.7L163.8 675.8L157 682.9Z" fill="#93fc6f" stroke="#165500"/><path d="M177.6 676.1L184.5 669.2L177.6 668.6L170.7 675.7Z" fill="#b8fc74" stroke="#2c5503"/><path d="M191.5 670.4L198.4 663.6L191.4 662.2L184.5 669.2Z" fill="#d7fc7b" stroke="#3f5506"/><path d="M205.4 665.5L212.3 658.7L205.3 656.6L198.4 663.6Z" fill="#f0fc80" stroke="#4e5509"/><path d="M219.3 661.3L226.3 654.6L219.3 651.8L212.3 658.7Z" fill="#fcf681" stroke="#55510a"/><path d="M233.3 658L240.3 651.3L233.3 647.7L226.3 654.6Z" fill="#fce67e" stroke="#554808"/><path d="M247.3 655.3L254.4 648.7L247.4 644.5L240.3 651.3Z" fill="#fcd97b" stroke="#554006"/><path d="M261.3 653.5L268.4 646.9L261.4 642L254.4 648.7Z" fill="#fccf79" stroke="#553a05"/><path d="M275.3 652.4L282.4 645.9L275.5 640.2L268.4 646.9Z" fill="#fcc978" stroke="#553605"/><path d="M129.9 705.1L136.6 698.1L129.8 699.9L123.1 707Z" fill="#6cf9b4" stroke="#00542b"/><path d="M143.4 696.9L150.2 690L143.3 691L136.6 698.1Z" fill="#6dfb88" stroke="#005510"/><path d="M157 689.5L163.8 682.6L157 682.9L150.2 690Z" fill="#79fc6d" stroke="#075500"/><path d="M170.8 682.9L177.6 676.1L170.7 675.7L163.8 682.6Z" fill="#9efc70" stroke="#1c5500"/><path d="M184.6 677.2L191.5 670.4L184.5 669.2L177.6 676.1Z" fill="#bffc75" stroke="#305503"/><path d="M198.4 672.2L205.4 665.5L198.4 663.6L191.5 670.4Z" fill="#dafc7c" stroke="#405507"/><path d="M212.3 667.9L219.3 661.3L212.3 658.7L205.4 665.5Z" fill="#effc80" stroke="#4d5509"/><path d="M226.3 664.5L233.3 658L226.3 654.6L219.3 661.3Z" fill="#fcfa81" stroke="#55540a"/><path d="M240.3 661.8L247.3 655.3L240.3 651.3L233.3 658Z" fill="#fcee80" stroke="#554d09"/><path d="M254.3 659.9L261.3 653.5L254.4 648.7L247.3 655.3Z" fill="#fce57e" stroke="#554708"/><path d="M268.2 658.8L275.3 652.4L268.4 646.9L261.3 653.5Z" fill="#fcdf7d" stroke="#554308"/><path d="M282.2 658.3L289.3 652L282.4 645.9L275.3 652.4Z" fill="#fcdc7c" stroke="#554207"/><path d="M123.2 712L129.9 705.1L123.1 707L116.5 714.1Z" fill="#68f1c7" stroke="#005138"/><path d="M136.6 703.8L143.4 696.9L136.6 698.1L129.9 705.1Z" fill="#6cfaa0" stroke="#00551f"/><path d="M150.2 696.3L157 689.5L150.2 690L143.4 696.9Z" fill="#6dfb79" stroke="#005507"/><path d="M163.9 689.7L170.8 682.9L163.8 682.6L157 689.5Z" fill="#85fc6e" stroke="#0d5500"/><path d="M177.7 683.8L184.6 677.2L177.6 676.1L170.8 682.9Z" fill="#a6fc71" stroke="#215501"/><path d="M191.5 678.7L198.4 672.2L191.5 670.4L184.6 677.2Z" fill="#c3fc76" stroke="#335504"/><path d="M205.4 674.5L212.3 667.9L205.4 665.5L198.4 672.2Z" fill="#dafc7c" stroke="#405507"/><path d="M219.3 671L226.3 664.5L219.3 661.3L212.3 667.9Z" fill="#ebfc7f" stroke="#4b5509"/><path d="M233.3 668.2L240.3 661.8L233.3 658L226.3 664.5Z" fill="#f8fc81" stroke="#53550a"/><path d="M247.2 666.2L254.3 659.9L247.3 655.3L240.3 661.8Z" fill="#fcf881" stroke="#55530a"/><path d="M261.2 665L268.2 658.8L261.3 653.5L254.3 659.9Z" fill="#fcf280" stroke="#554f09"/><path d="M275.2 664.5L282.2 658.3L275.3 652.4L268.2 658.8Z" fill="#fcef80" stroke="#554d09"/><path d="M289.1 664.8L296.2 658.6L289.3 652L282.2 658.3Z" fill="#fcf080" stroke="#554e09"/><path d="M116.5 718.8L123.2 712L116.5 714.1L109.8 721.1Z" fill="#63e4d6" stroke="#004d45"/><path d="M129.9 710.5L136.6 703.8L129.9 705.1L123.2 712Z" fill="#6bf7b7" stroke="#00532d"/><path d="M143.5 703L150.2 696.3L143.4 696.9L136.6 703.8Z" fill="#6cfb90" stroke="#005515"/><path d="M157.1 696.3L163.9 689.7L157 689.5L150.2 696.3Z" fill="#6efc6d" stroke="#005500"/><path d="M170.8 690.3L177.7 683.8L170.8 682.9L163.9 689.7Z" fill="#8ffc6e" stroke="#135500"/><path d="M184.6 685.2L191.5 678.7L184.6 677.2L177.7 683.8Z" fill="#acfc72" stroke="#255502"/><path d="M198.5 680.9L205.4 674.5L198.4 672.2L191.5 678.7Z" fill="#c4fc76" stroke="#335504"/><path d="M212.3 677.3L219.3 671L212.3 667.9L205.4 674.5Z" fill="#d7fc7b" stroke="#3f5506"/><path d="M226.3 674.5L233.3 668.2L226.3 664.5L219.3 671Z" fill="#e5fc7e" stroke="#475508"/><path d="M240.2 672.5L247.2 666.2L240.3 661.8L233.3 668.2Z" fill="#effc80" stroke="#4d5509"/><path d="M254.2 671.2L261.2 665L254.3 659.9L247.2 666.2Z" fill="#f6fc81" stroke="#51550a"/><path d="M268.1 670.6L275.2 664.5L268.2 658.8L261.2 665Z" fill="#f8fc81" stroke="#53550a"/><path d="M282 670.8L289.1 664.8L282.2 658.3L275.2 664.5Z" fill="#f8fc81" stroke="#53550a"/><path d="M295.9 671.7L303 665.8L296.2 658.6L289.1 664.8Z" fill="#f4fc80" stroke="#505509"/><path d="M109.8 725.6L116.5 718.8L109.8 721.1L103.2 728Z" fill="#5dd4e1" stroke="#00444c"/><path d="M123.2 717.2L129.9 710.5L123.2 712L116.5 718.8Z" fill="#69f1cc" stroke="#00513b"/><path d="M136.7 709.6L143.5 703L136.6 703.8L129.9 710.5Z" fill="#6cf9a6" stroke="#005422"/><path d="M150.3 702.8L157.1 696.3L150.2 696.3L143.5 703Z" fill="#6dfb82" stroke="#00550c"/><path d="M164 696.8L170.8 690.3L163.9 689.7L157.1 696.3Z" fill="#78fc6d" stroke="#065500"/><path d="M177.7 691.6L184.6 685.2L177.7 683.8L170.8 690.3Z" fill="#95fc6f" stroke="#175500"/><path d="M191.5 687.2L198.5 680.9L191.5 678.7L184.6 685.2Z" fill="#aefc72" stroke="#265502"/><path d="M205.4 683.5L212.3 677.3L205.4 674.5L198.5 680.9Z" fill="#c2fc76" stroke="#325504"/><path d="M219.3 680.7L226.3 674.5L219.3 671L212.3 677.3Z" fill="#d2fc7a" stroke="#3c5506"/><path d="M233.2 678.6L240.2 672.5L233.3 668.2L226.3 674.5Z" fill="#ddfc7c" stroke="#425507"/><path d="M247.2 677.2L254.2 671.2L247.2 666.2L240.2 672.5Z" fill="#e4fc7e" stroke="#465508"/><path d="M261.1 676.6L268.1 670.6L261.2 665L254.2 671.2Z" fill="#e7fc7f" stroke="#485509"/><path d="M275 676.7L282 670.8L275.2 664.5L268.1 670.6Z" fill="#e7fc7f" stroke="#485509"/><path d="M288.9 677.6L295.9 671.7L289.1 664.8L282 670.8Z" fill="#e3fc7e" stroke="#465508"/><path d="M302.7 679.1L309.8 673.3L303 665.8L295.9 671.7Z" fill="#dcfc7c" stroke="#425507"/><path d="M103.2 732.3L109.8 725.6L103.2 728L96.6 734.8Z" fill="#54b0d5" stroke="#003348"/><path d="M116.5 723.8L123.2 717.2L116.5 718.8L109.8 725.6Z" fill="#63e3d9" stroke="#004d47"/><path d="M130 716.1L136.7 709.6L129.9 710.5L123.2 717.2Z" fill="#6af5bb" stroke="#005330"/><path d="M143.5 709.2L150.3 702.8L143.5 703L136.7 709.6Z" fill="#6cfa98" stroke="#00551a"/><path d="M157.2 703.2L164 696.8L157.1 696.3L150.3 702.8Z" fill="#6dfc77" stroke="#005505"/><path d="M170.9 697.9L177.7 691.6L170.8 690.3L164 696.8Z" fill="#7ffc6d" stroke="#0a5500"/><path d="M184.7 693.4L191.5 687.2L184.6 685.2L177.7 691.6Z" fill="#98fc6f" stroke="#195500"/><path d="M198.5 689.7L205.4 683.5L198.5 680.9L191.5 687.2Z" fill="#adfc72" stroke="#255502"/><path d="M212.4 686.8L219.3 680.7L212.3 677.3L205.4 683.5Z" fill="#befc75" stroke="#305503"/><path d="M226.3 684.6L233.2 678.6L226.3 674.5L219.3 680.7Z" fill="#cafc78" stroke="#375505"/><path d="M240.2 683.2L247.2 677.2L240.2 672.5L233.2 678.6Z" fill="#d2fc7a" stroke="#3c5506"/><path d="M254.1 682.5L261.1 676.6L254.2 671.2L247.2 677.2Z" fill="#d6fc7b" stroke="#3e5506"/><path d="M268 682.5L275 676.7L268.1 670.6L261.1 676.6Z" fill="#d6fc7b" stroke="#3e5506"/><path d="M281.8 683.3L288.9 677.6L282 670.8L275 676.7Z" fill="#d3fc7a" stroke="#3c5506"/><path d="M295.7 684.8L302.7 679.1L295.9 671.7L288.9 677.6Z" fill="#cbfc78" stroke="#375505"/><path d="M309.5 687L316.5 681.4L309.8 673.3L302.7 679.1Z" fill="#c0fc76" stroke="#315504"/><path d="M96.5 738.9L103.2 732.3L96.6 734.8L90 741.5Z" fill="#4b8ec9" stroke="#002444"/><path d="M109.8 730.3L116.5 723.8L109.8 725.6L103.2 732.3Z" fill="#5bd1e1" stroke="#00434c"/><path d="M123.2 722.6L130 716.1L123.2 717.2L116.5 723.8Z" fill="#68efcd" stroke="#00513c"/><path d="M136.8 715.6L143.5 709.2L136.7 709.6L130 716.1Z" fill="#6cf8ad" stroke="#005427"/><path d="M150.4 709.5L157.2 703.2L150.3 702.8L143.5 709.2Z" fill="#6dfb8c" stroke="#005512"/><path d="M164 704.1L170.9 697.9L164 696.8L157.2 703.2Z" fill="#6dfc70" stroke="#005501"/><path d="M177.8 699.5L184.7 693.4L177.7 691.6L170.9 697.9Z" fill="#83fc6e" stroke="#0c5500"/><path d="M191.6 695.8L198.5 689.7L191.5 687.2L184.7 693.4Z" fill="#98fc6f" stroke="#195500"/><path d="M205.4 692.8L212.4 686.8L205.4 683.5L198.5 689.7Z" fill="#aafc71" stroke="#245501"/><path d="M219.3 690.5L226.3 684.6L219.3 680.7L212.4 686.8Z" fill="#b7fc74" stroke="#2b5503"/><path d="M233.2 689L240.2 683.2L233.2 678.6L226.3 684.6Z" fill="#c0fc76" stroke="#315504"/><path d="M247.1 688.3L254.1 682.5L247.2 677.2L240.2 683.2Z" fill="#c4fc77" stroke="#335504"/><path d="M261 688.3L268 682.5L261.1 676.6L254.1 682.5Z" fill="#c5fc77" stroke="#345504"/><path d="M274.8 689L281.8 683.3L275 676.7L268 682.5Z" fill="#c2fc76" stroke="#325504"/><path d="M288.6 690.4L295.7 684.8L288.9 677.6L281.8 683.3Z" fill="#bafc74" stroke="#2d5503"/><path d="M302.4 692.6L309.5 687L302.7 679.1L295.7 684.8Z" fill="#affc72" stroke="#275502"/><path d="M316.2 695.4L323.2 689.9L316.5 681.4L309.5 687Z" fill="#a0fc70" stroke="#1e5500"/><path d="M89.9 745.4L96.5 738.9L90 741.5L83.4 748.2Z" fill="#4171be" stroke="#001840"/><path d="M103.2 736.8L109.8 730.3L103.2 732.3L96.5 738.9Z" fill="#53afd7" stroke="#003249"/><path d="M116.5 728.9L123.2 722.6L116.5 723.8L109.8 730.3Z" fill="#64e6de" stroke="#004e49"/><path d="M130 721.9L136.8 715.6L130 716.1L123.2 722.6Z" fill="#6af5c0" stroke="#005333"/><path d="M143.6 715.7L150.4 709.5L143.5 709.2L136.8 715.6Z" fill="#6cfba0" stroke="#00551f"/><path d="M157.2 710.3L164 704.1L157.2 703.2L150.4 709.5Z" fill="#6dfc83" stroke="#00550d"/><path d="M170.9 705.6L177.8 699.5L170.9 697.9L164 704.1Z" fill="#6ffc6d" stroke="#015500"/><path d="M184.7 701.8L191.6 695.8L184.7 693.4L177.8 699.5Z" fill="#85fc6e" stroke="#0d5500"/><path d="M198.5 698.7L205.4 692.8L198.5 689.7L191.6 695.8Z" fill="#96fc6f" stroke="#175500"/><path d="M212.4 696.4L219.3 690.5L212.4 686.8L205.4 692.8Z" fill="#a4fc71" stroke="#205501"/><path d="M226.2 694.8L233.2 689L226.3 684.6L219.3 690.5Z" fill="#adfc72" stroke="#255502"/><path d="M240.1 694L247.1 688.3L240.2 683.2L233.2 689Z" fill="#b2fc73" stroke="#285502"/><path d="M254 693.9L261 688.3L254.1 682.5L247.1 688.3Z" fill="#b3fc73" stroke="#295502"/><path d="M267.8 694.5L274.8 689L268 682.5L261 688.3Z" fill="#b0fc73" stroke="#275502"/><path d="M281.6 695.9L288.6 690.4L281.8 683.3L274.8 689Z" fill="#aafc71" stroke="#245501"/><path d="M295.4 698L302.4 692.6L295.7 684.8L288.6 690.4Z" fill="#9ffc70" stroke="#1d5500"/><path d="M309.2 700.7L316.2 695.4L309.5 687L302.4 692.6Z" fill="#90fc6f" stroke="#145500"/><path d="M322.8 704.2L329.8 698.9L323.2 689.9L316.2 695.4Z" fill="#7efc6d" stroke="#0a5500"/><path d="M83.3 751.9L89.9 745.4L83.4 748.2L76.8 754.9Z" fill="#395bb5" stroke="#00103d"/><path d="M96.5 743.2L103.2 736.8L96.5 738.9L89.9 745.4Z" fill="#4b90cb" stroke="#002545"/><path d="M109.9 735.3L116.5 728.9L109.8 730.3L103.2 736.8Z" fill="#5ed8e8" stroke="#00454e"/><path d="M123.3 728.2L130 721.9L123.2 722.6L116.5 728.9Z" fill="#68f1d2" stroke="#00513f"/><path d="M136.8 721.9L143.6 715.7L136.8 715.6L130 721.9Z" fill="#6cf9b3" stroke="#00542a"/><path d="M150.4 716.3L157.2 710.3L150.4 709.5L143.6 715.7Z" fill="#6dfc96" stroke="#005518"/><path d="M164.1 711.6L170.9 705.6L164 704.1L157.2 710.3Z" fill="#6dfc7d" stroke="#005509"/><path d="M177.9 707.7L184.7 701.8L177.8 699.5L170.9 705.6Z" fill="#72fc6d" stroke="#025500"/><path d="M191.6 704.5L198.5 698.7L191.6 695.8L184.7 701.8Z" fill="#83fc6e" stroke="#0c5500"/><path d="M205.5 702.1L212.4 696.4L205.4 692.8L198.5 698.7Z" fill="#91fc6f" stroke="#145500"/><path d="M219.3 700.5L226.2 694.8L219.3 690.5L212.4 696.4Z" fill="#9bfc70" stroke="#1a5500"/><path d="M233.2 699.6L240.1 694L233.2 689L226.2 694.8Z" fill="#a1fc70" stroke="#1e5500"/><path d="M247 699.4L254 693.9L247.1 688.3L240.1 694Z" fill="#a2fc70" stroke="#1f5500"/><path d="M260.9 700L267.8 694.5L261 688.3L254 693.9Z" fill="#a0fc70" stroke="#1e5500"/><path d="M274.7 701.3L281.6 695.9L274.8 689L267.8 694.5Z" fill="#99fc6f" stroke="#195500"/><path d="M288.4 703.3L295.4 698L288.6 690.4L281.6 695.9Z" fill="#8ffc6e" stroke="#135500"/><path d="M302.2 706L309.2 700.7L302.4 692.6L295.4 698Z" fill="#81fc6e" stroke="#0b5500"/><path d="M315.8 709.4L322.8 704.2L316.2 695.4L309.2 700.7Z" fill="#70fc6d" stroke="#015500"/><path d="M329.4 713.5L336.4 708.3L329.8 698.9L322.8 704.2Z" fill="#6dfc7e" stroke="#00550a"/><path d="M76.8 758.4L83.3 751.9L76.8 754.9L70.3 761.4Z" fill="#354daf" stroke="#000b3b"/><path d="M89.9 749.5L96.5 743.2L89.9 745.4L83.3 751.9Z" fill="#4477c2" stroke="#001a41"/><path d="M103.2 741.5L109.9 735.3L103.2 736.8L96.5 743.2Z" fill="#58badf" stroke="#00374b"/><path d="M116.6 734.4L123.3 728.2L116.5 728.9L109.9 735.3Z" fill="#66ebe1" stroke="#004f49"/><path d="M130.1 728L136.8 721.9L130 721.9L123.3 728.2Z" fill="#6bf7c6" stroke="#005336"/><path d="M143.6 722.4L150.4 716.3L143.6 715.7L136.8 721.9Z" fill="#6dfba9" stroke="#005524"/><path d="M157.3 717.6L164.1 711.6L157.2 710.3L150.4 716.3Z" fill="#6dfc8f" stroke="#005514"/><path d="M171 713.5L177.9 707.7L170.9 705.6L164.1 711.6Z" fill="#6dfc7a" stroke="#005507"/><path d="M184.8 710.3L191.6 704.5L184.7 701.8L177.9 707.7Z" fill="#71fc6d" stroke="#025500"/><path d="M198.6 707.8L205.5 702.1L198.5 698.7L191.6 704.5Z" fill="#7ffc6d" stroke="#0a5500"/><path d="M212.4 706.1L219.3 700.5L212.4 696.4L205.5 702.1Z" fill="#89fc6e" stroke="#105500"/><path d="M226.2 705.1L233.2 699.6L226.2 694.8L219.3 700.5Z" fill="#90fc6e" stroke="#145500"/><path d="M240.1 704.9L247 699.4L240.1 694L233.2 699.6Z" fill="#92fc6f" stroke="#155500"/><path d="M253.9 705.4L260.9 700L254 693.9L247 699.4Z" fill="#90fc6e" stroke="#145500"/><path d="M267.7 706.6L274.7 701.3L267.8 694.5L260.9 700Z" fill="#8afc6e" stroke="#105500"/><path d="M281.5 708.6L288.4 703.3L281.6 695.9L274.7 701.3Z" fill="#81fc6e" stroke="#0b5500"/><path d="M295.2 711.2L302.2 706L295.4 698L288.4 703.3Z" fill="#73fc6d" stroke="#035500"/><path d="M308.9 714.5L315.8 709.4L309.2 700.7L302.2 706Z" fill="#6dfc77" stroke="#005505"/><path d="M322.5 718.5L329.4 713.5L322.8 704.2L315.8 709.4Z" fill="#6dfc8a" stroke="#005511"/><path d="M336 723.2L342.9 718.2L336.4 708.3L329.4 713.5Z" fill="#6dfca2" stroke="#00551f"/><path d="M83.3 755.9L89.9 749.5L83.3 751.9L76.8 758.4Z" fill="#3f66bc" stroke="#00133f"/><path d="M96.5 747.8L103.2 741.5L96.5 743.2L89.9 749.5Z" fill="#52a1d7" stroke="#002b49"/><path d="M109.9 740.5L116.6 734.4L109.9 735.3L103.2 741.5Z" fill="#64e5f0" stroke="#004b51"/><path d="M123.3 734L130.1 728L123.3 728.2L116.6 734.4Z" fill="#6af5d7" stroke="#005341"/><path d="M136.9 728.4L143.6 722.4L136.8 721.9L130.1 728Z" fill="#6cfabb" stroke="#00552f"/><path d="M150.5 723.5L157.3 717.6L150.4 716.3L143.6 722.4Z" fill="#6dfca1" stroke="#00551f"/><path d="M164.2 719.4L171 713.5L164.1 711.6L157.3 717.6Z" fill="#6dfc8b" stroke="#005511"/><path d="M177.9 716L184.8 710.3L177.9 707.7L171 713.5Z" fill="#6dfc79" stroke="#005507"/><path d="M191.7 713.5L198.6 707.8L191.6 704.5L184.8 710.3Z" fill="#6efc6d" stroke="#005500"/><path d="M205.5 711.7L212.4 706.1L205.5 702.1L198.6 707.8Z" fill="#79fc6d" stroke="#075500"/><path d="M219.3 710.6L226.2 705.1L219.3 700.5L212.4 706.1Z" fill="#7ffc6d" stroke="#0a5500"/><path d="M233.1 710.3L240.1 704.9L233.2 699.6L226.2 705.1Z" fill="#82fc6e" stroke="#0c5500"/><path d="M247 710.7L253.9 705.4L247 699.4L240.1 704.9Z" fill="#81fc6e" stroke="#0b5500"/><path d="M260.7 711.9L267.7 706.6L260.9 700L253.9 705.4Z" fill="#7bfc6d" stroke="#085500"/><path d="M274.5 713.7L281.5 708.6L274.7 701.3L267.7 706.6Z" fill="#73fc6d" stroke="#035500"/><path d="M288.2 716.3L295.2 711.2L288.4 703.3L281.5 708.6Z" fill="#6dfc73" stroke="#005503"/><path d="M301.9 719.5L308.9 714.5L302.2 706L295.2 711.2Z" fill="#6dfc83" stroke="#00550d"/><path d="M315.5 723.5L322.5 718.5L315.8 709.4L308.9 714.5Z" fill="#6dfc96" stroke="#005518"/><path d="M329 728L336 723.2L329.4 713.5L322.5 718.5Z" fill="#6dfcad" stroke="#005526"/><path d="M89.9 754L96.5 747.8L89.9 749.5L83.3 755.9Z" fill="#4f8dd0" stroke="#002146"/><path d="M103.2 746.6L109.9 740.5L103.2 741.5L96.5 747.8Z" fill="#61cfec" stroke="#003f50"/><path d="M116.6 740.1L123.3 734L116.6 734.4L109.9 740.5Z" fill="#69f3e8" stroke="#00524c"/><path d="M130.1 734.3L136.9 728.4L130.1 728L123.3 734Z" fill="#6cfacc" stroke="#005539"/><path d="M143.7 729.3L150.5 723.5L143.6 722.4L136.9 728.4Z" fill="#6dfcb3" stroke="#005529"/><path d="M157.4 725.1L164.2 719.4L157.3 717.6L150.5 723.5Z" fill="#6dfc9c" stroke="#00551c"/><path d="M171.1 721.7L177.9 716L171 713.5L164.2 719.4Z" fill="#6dfc8a" stroke="#005511"/><path d="M184.8 719.1L191.7 713.5L184.8 710.3L177.9 716Z" fill="#6dfc7b" stroke="#005508"/><path d="M198.6 717.2L205.5 711.7L198.6 707.8L191.7 713.5Z" fill="#6dfc71" stroke="#005502"/><path d="M212.4 716L219.3 710.6L212.4 706.1L205.5 711.7Z" fill="#70fc6d" stroke="#015500"/><path d="M226.2 715.6L233.1 710.3L226.2 705.1L219.3 710.6Z" fill="#73fc6d" stroke="#035500"/><path d="M240 716L247 710.7L240.1 704.9L233.1 710.3Z" fill="#72fc6d" stroke="#025500"/><path d="M253.8 717L260.7 711.9L253.9 705.4L247 710.7Z" fill="#6efc6d" stroke="#005500"/><path d="M267.6 718.8L274.5 713.7L267.7 706.6L260.7 711.9Z" fill="#6dfc74" stroke="#005504"/><path d="M281.3 721.3L288.2 716.3L281.5 708.6L274.5 713.7Z" fill="#6dfc80" stroke="#00550b"/><path d="M295 724.5L301.9 719.5L295.2 711.2L288.2 716.3Z" fill="#6dfc8f" stroke="#005514"/><path d="M308.6 728.3L315.5 723.5L308.9 714.5L301.9 719.5Z" fill="#6dfca2" stroke="#00551f"/><path d="M322.1 732.8L329 728L322.5 718.5L315.5 723.5Z" fill="#6dfcb8" stroke="#00552c"/><path d="M96.6 752.7L103.2 746.6L96.5 747.8L89.9 754Z" fill="#5ebae7" stroke="#00344e"/><path d="M109.9 746.1L116.6 740.1L109.9 740.5L103.2 746.6Z" fill="#68eff6" stroke="#004f53"/><path d="M123.4 740.2L130.1 734.3L123.3 734L116.6 740.1Z" fill="#6cf9de" stroke="#005444"/><path d="M137 735.1L143.7 729.3L136.9 728.4L130.1 734.3Z" fill="#6dfbc4" stroke="#005534"/><path d="M150.6 730.9L157.4 725.1L150.5 723.5L143.7 729.3Z" fill="#6dfcad" stroke="#005526"/><path d="M164.3 727.3L171.1 721.7L164.2 719.4L157.4 725.1Z" fill="#6dfc9a" stroke="#00551a"/><path d="M178 724.6L184.8 719.1L177.9 716L171.1 721.7Z" fill="#6dfc8b" stroke="#005511"/><path d="M191.8 722.6L198.6 717.2L191.7 713.5L184.8 719.1Z" fill="#6dfc80" stroke="#00550b"/><path d="M205.5 721.4L212.4 716L205.5 711.7L198.6 717.2Z" fill="#6dfc79" stroke="#005507"/><path d="M219.3 720.9L226.2 715.6L219.3 710.6L212.4 716Z" fill="#6dfc75" stroke="#005504"/><path d="M233.1 721.2L240 716L233.1 710.3L226.2 715.6Z" fill="#6dfc75" stroke="#005504"/><path d="M246.9 722.2L253.8 717L247 710.7L240 716Z" fill="#6dfc79" stroke="#005507"/><path d="M260.6 723.9L267.6 718.8L260.7 711.9L253.8 717Z" fill="#6dfc81" stroke="#00550b"/><path d="M274.4 726.3L281.3 721.3L274.5 713.7L267.6 718.8Z" fill="#6dfc8c" stroke="#005512"/><path d="M288 729.4L295 724.5L288.2 716.3L281.3 721.3Z" fill="#6dfc9b" stroke="#00551b"/><path d="M301.6 733.1L308.6 728.3L301.9 719.5L295 724.5Z" fill="#6dfcad" stroke="#005526"/><path d="M315.2 737.6L322.1 732.8L315.5 723.5L308.6 728.3Z" fill="#6dfcc2" stroke="#005532"/><path d="M103.3 752L109.9 746.1L103.2 746.6L96.6 752.7Z" fill="#68def6" stroke="#004553"/><path d="M116.7 746.1L123.4 740.2L116.6 740.1L109.9 746.1Z" fill="#6bf8ee" stroke="#00544e"/><path d="M130.2 740.9L137 735.1L130.1 734.3L123.4 740.2Z" fill="#6dfbd4" stroke="#00553d"/><path d="M143.8 736.5L150.6 730.9L143.7 729.3L137 735.1Z" fill="#6dfcbd" stroke="#00552f"/><path d="M157.5 732.9L164.3 727.3L157.4 725.1L150.6 730.9Z" fill="#6dfcaa" stroke="#005524"/><path d="M171.2 730.1L178 724.6L171.1 721.7L164.3 727.3Z" fill="#6dfc9a" stroke="#00551a"/><path d="M184.9 728.1L191.8 722.6L184.8 719.1L178 724.6Z" fill="#6dfc8f" stroke="#005514"/><path d="M198.7 726.7L205.5 721.4L198.6 717.2L191.8 722.6Z" fill="#6dfc87" stroke="#00550f"/><path d="M212.4 726.2L219.3 720.9L212.4 716L205.5 721.4Z" fill="#6dfc83" stroke="#00550d"/><path d="M226.2 726.3L233.1 721.2L226.2 715.6L219.3 720.9Z" fill="#6dfc83" stroke="#00550d"/><path d="M240 727.2L246.9 722.2L240 716L233.1 721.2Z" fill="#6dfc86" stroke="#00550e"/><path d="M253.7 728.9L260.6 723.9L253.8 717L246.9 722.2Z" fill="#6dfc8d" stroke="#005513"/><path d="M267.4 731.2L274.4 726.3L267.6 718.8L260.6 723.9Z" fill="#6dfc98" stroke="#005519"/><path d="M281.1 734.2L288 729.4L281.3 721.3L274.4 726.3Z" fill="#6dfca6" stroke="#005522"/><path d="M294.7 737.9L301.6 733.1L295 724.5L288 729.4Z" fill="#6dfcb7" stroke="#00552c"/><path d="M308.3 742.2L315.2 737.6L308.6 728.3L301.6 733.1Z" fill="#6dfccc" stroke="#005538"/><path d="M110 752L116.7 746.1L109.9 746.1L103.3 752Z" fill="#6bf4fa" stroke="#005155"/><path d="M123.5 746.7L130.2 740.9L123.4 740.2L116.7 746.1Z" fill="#6dfbe5" stroke="#005548"/><path d="M137 742.2L143.8 736.5L137 735.1L130.2 740.9Z" fill="#6dfccd" stroke="#005539"/><path d="M150.7 738.5L157.5 732.9L150.6 730.9L143.8 736.5Z" fill="#6dfcb9" stroke="#00552d"/><path d="M164.3 735.6L171.2 730.1L164.3 727.3L157.5 732.9Z" fill="#6dfca9" stroke="#005523"/><path d="M178.1 733.4L184.9 728.1L178 724.6L171.2 730.1Z" fill="#6dfc9d" stroke="#00551c"/><path d="M191.8 732L198.7 726.7L191.8 722.6L184.9 728.1Z" fill="#6dfc95" stroke="#005517"/><path d="M205.6 731.4L212.4 726.2L205.5 721.4L198.7 726.7Z" fill="#6dfc90" stroke="#005514"/><path d="M219.3 731.5L226.2 726.3L219.3 720.9L212.4 726.2Z" fill="#6dfc90" stroke="#005514"/><path d="M233.1 732.3L240 727.2L233.1 721.2L226.2 726.3Z" fill="#6dfc92" stroke="#005516"/><path d="M246.8 733.8L253.7 728.9L246.9 722.2L240 727.2Z" fill="#6dfc99" stroke="#00551a"/><path d="M260.5 736L267.4 731.2L260.6 723.9L253.7 728.9Z" fill="#6dfca3" stroke="#005520"/><path d="M274.2 739L281.1 734.2L274.4 726.3L267.4 731.2Z" fill="#6dfcb0" stroke="#005528"/><path d="M287.8 742.6L294.7 737.9L288 729.4L281.1 734.2Z" fill="#6dfcc1" stroke="#005532"/><path d="M301.4 746.8L308.3 742.2L301.6 733.1L294.7 737.9Z" fill="#6dfcd6" stroke="#00553e"/><path d="M116.8 752.5L123.5 746.7L116.7 746.1L110 752Z" fill="#6dfbf4" stroke="#005551"/><path d="M130.3 747.9L137 742.2L130.2 740.9L123.5 746.7Z" fill="#6dfcdd" stroke="#005543"/><path d="M143.9 744.1L150.7 738.5L143.8 736.5L137 742.2Z" fill="#6dfcc9" stroke="#005537"/><path d="M157.5 741.1L164.3 735.6L157.5 732.9L150.7 738.5Z" fill="#6dfcb8" stroke="#00552c"/><path d="M171.2 738.8L178.1 733.4L171.2 730.1L164.3 735.6Z" fill="#6dfcab" stroke="#005525"/><path d="M185 737.3L191.8 732L184.9 728.1L178.1 733.4Z" fill="#6dfca3" stroke="#005520"/><path d="M198.7 736.6L205.6 731.4L198.7 726.7L191.8 732Z" fill="#6dfc9e" stroke="#00551d"/><path d="M212.5 736.6L219.3 731.5L212.4 726.2L205.6 731.4Z" fill="#6dfc9c" stroke="#00551c"/><path d="M226.2 737.3L233.1 732.3L226.2 726.3L219.3 731.5Z" fill="#6dfc9e" stroke="#00551d"/><path d="M240 738.7L246.8 733.8L240 727.2L233.1 732.3Z" fill="#6dfca4" stroke="#005520"/><path d="M253.7 740.8L260.5 736L253.7 728.9L246.8 733.8Z" fill="#6dfcae" stroke="#005526"/><path d="M267.3 743.7L274.2 739L267.4 731.2L260.5 736Z" fill="#6dfcbb" stroke="#00552e"/><path d="M281 747.2L287.8 742.6L281.1 734.2L274.2 739Z" fill="#6dfccb" stroke="#005538"/><path d="M294.5 751.4L301.4 746.8L294.7 737.9L287.8 742.6Z" fill="#6dfcdf" stroke="#005544"/><path d="M123.6 753.6L130.3 747.9L123.5 746.7L116.8 752.5Z" fill="#6dfced" stroke="#00554c"/><path d="M137.1 749.7L143.9 744.1L137 742.2L130.3 747.9Z" fill="#6dfcd8" stroke="#005540"/><path d="M150.8 746.5L157.5 741.1L150.7 738.5L143.9 744.1Z" fill="#6dfcc7" stroke="#005535"/><path d="M164.4 744.2L171.2 738.8L164.3 735.6L157.5 741.1Z" fill="#6dfcba" stroke="#00552e"/><path d="M178.1 742.6L185 737.3L178.1 733.4L171.2 738.8Z" fill="#6dfcb0" stroke="#005528"/><path d="M191.9 741.7L198.7 736.6L191.8 732L185 737.3Z" fill="#6dfcab" stroke="#005525"/><path d="M205.6 741.6L212.5 736.6L205.6 731.4L198.7 736.6Z" fill="#6dfca9" stroke="#005523"/><path d="M219.4 742.2L226.2 737.3L219.3 731.5L212.5 736.6Z" fill="#6dfcaa" stroke="#005524"/><path d="M233.1 743.6L240 738.7L233.1 732.3L226.2 737.3Z" fill="#6dfcb0" stroke="#005528"/><path d="M246.8 745.6L253.7 740.8L246.8 733.8L240 738.7Z" fill="#6dfcb8" stroke="#00552c"/><path d="M260.5 748.4L267.3 743.7L260.5 736L253.7 740.8Z" fill="#6dfcc5" stroke="#005534"/><path d="M274.1 751.8L281 747.2L274.2 739L267.3 743.7Z" fill="#6dfcd5" stroke="#00553e"/><path d="M287.6 755.9L294.5 751.4L287.8 742.6L281 747.2Z" fill="#6dfce8" stroke="#005549"/><path d="M130.4 755.2L137.1 749.7L130.3 747.9L123.6 753.6Z" fill="#6dfce7" stroke="#005549"/><path d="M144 752L150.8 746.5L143.9 744.1L137.1 749.7Z" fill="#6dfcd5" stroke="#00553e"/><path d="M157.6 749.5L164.4 744.2L157.5 741.1L150.8 746.5Z" fill="#6dfcc7" stroke="#005535"/><path d="M171.3 747.8L178.1 742.6L171.2 738.8L164.4 744.2Z" fill="#6dfcbd" stroke="#00552f"/><path d="M185 746.9L191.9 741.7L185 737.3L178.1 742.6Z" fill="#6dfcb7" stroke="#00552c"/><path d="M198.8 746.7L205.6 741.6L198.7 736.6L191.9 741.7Z" fill="#6dfcb5" stroke="#00552b"/><path d="M212.5 747.2L219.4 742.2L212.5 736.6L205.6 741.6Z" fill="#6dfcb6" stroke="#00552b"/><path d="M226.2 748.4L233.1 743.6L226.2 737.3L219.4 742.2Z" fill="#6dfcbb" stroke="#00552e"/><path d="M239.9 750.4L246.8 745.6L240 738.7L233.1 743.6Z" fill="#6dfcc3" stroke="#005533"/><path d="M253.6 753L260.5 748.4L253.7 740.8L246.8 745.6Z" fill="#6dfccf" stroke="#00553a"/><path d="M267.2 756.4L274.1 751.8L267.3 743.7L260.5 748.4Z" fill="#6dfcde" stroke="#005543"/><path d="M280.8 760.4L287.6 755.9L281 747.2L274.1 751.8Z" fill="#6dfcf0" stroke="#00554e"/><path d="M137.2 757.5L144 752L137.1 749.7L130.4 755.2Z" fill="#6dfce3" stroke="#005546"/><path d="M150.9 754.9L157.6 749.5L150.8 746.5L144 752Z" fill="#6dfcd5" stroke="#00553e"/><path d="M164.5 753.1L171.3 747.8L164.4 744.2L157.6 749.5Z" fill="#6dfccb" stroke="#005538"/><path d="M178.2 752L185 746.9L178.1 742.6L171.3 747.8Z" fill="#6dfcc4" stroke="#005534"/><path d="M191.9 751.7L198.8 746.7L191.9 741.7L185 746.9Z" fill="#6dfcc1" stroke="#005532"/><path d="M205.7 752.1L212.5 747.2L205.6 741.6L198.8 746.7Z" fill="#6dfcc1" stroke="#005532"/><path d="M219.4 753.3L226.2 748.4L219.4 742.2L212.5 747.2Z" fill="#6dfcc5" stroke="#005534"/><path d="M233.1 755.1L239.9 750.4L233.1 743.6L226.2 748.4Z" fill="#6dfccd" stroke="#005539"/><path d="M246.7 757.7L253.6 753L246.8 745.6L239.9 750.4Z" fill="#6dfcd8" stroke="#005540"/><path d="M260.4 760.9L267.2 756.4L260.5 748.4L253.6 753Z" fill="#6dfce7" stroke="#005549"/><path d="M273.9 764.9L280.8 760.4L274.1 751.8L267.2 756.4Z" fill="#6dfcf9" stroke="#005553"/><path d="M144.1 760.3L150.9 754.9L144 752L137.2 757.5Z" fill="#6dfce3" stroke="#005546"/><path d="M157.7 758.4L164.5 753.1L157.6 749.5L150.9 754.9Z" fill="#6dfcd8" stroke="#005540"/><path d="M171.4 757.2L178.2 752L171.3 747.8L164.5 753.1Z" fill="#6dfcd0" stroke="#00553b"/><path d="M185.1 756.8L191.9 751.7L185 746.9L178.2 752Z" fill="#6dfccd" stroke="#005539"/><path d="M198.8 757.1L205.7 752.1L198.8 746.7L191.9 751.7Z" fill="#6dfccd" stroke="#005539"/><path d="M212.5 758.1L219.4 753.3L212.5 747.2L205.7 752.1Z" fill="#6dfcd0" stroke="#00553b"/><path d="M226.2 759.9L233.1 755.1L226.2 748.4L219.4 753.3Z" fill="#6dfcd7" stroke="#00553f"/><path d="M239.9 762.3L246.7 757.7L239.9 750.4L233.1 755.1Z" fill="#6dfce2" stroke="#005546"/><path d="M253.5 765.5L260.4 760.9L253.6 753L246.7 757.7Z" fill="#6dfcef" stroke="#00554d"/><path d="M267.1 769.3L273.9 764.9L267.2 756.4L260.4 760.9Z" fill="#6df8fc" stroke="#005355"/><path d="M151 763.7L157.7 758.4L150.9 754.9L144.1 760.3Z" fill="#6dfce5" stroke="#005547"/><path d="M164.6 762.4L171.4 757.2L164.5 753.1L157.7 758.4Z" fill="#6dfcdd" stroke="#005543"/><path d="M178.3 761.8L185.1 756.8L178.2 752L171.4 757.2Z" fill="#6dfcd8" stroke="#005540"/><path d="M192 762L198.8 757.1L191.9 751.7L185.1 756.8Z" fill="#6dfcd8" stroke="#005540"/><path d="M205.7 763L212.5 758.1L205.7 752.1L198.8 757.1Z" fill="#6dfcdb" stroke="#005541"/><path d="M219.4 764.6L226.2 759.9L219.4 753.3L212.5 758.1Z" fill="#6dfce1" stroke="#005545"/><path d="M233 767L239.9 762.3L233.1 755.1L226.2 759.9Z" fill="#6dfceb" stroke="#00554b"/><path d="M246.7 770L253.5 765.5L246.7 757.7L239.9 762.3Z" fill="#6dfcf8" stroke="#005553"/><path d="M260.3 773.7L267.1 769.3L260.4 760.9L253.5 765.5Z" fill="#6df0fc" stroke="#004e55"/><path d="M157.8 767.6L164.6 762.4L157.7 758.4L151 763.7Z" fill="#6dfce9" stroke="#00554a"/><path d="M171.5 766.9L178.3 761.8L171.4 757.2L164.6 762.4Z" fill="#6dfce4" stroke="#005547"/><path d="M185.2 767L192 762L185.1 756.8L178.3 761.8Z" fill="#6dfce3" stroke="#005546"/><path d="M198.9 767.8L205.7 763L198.8 757.1L192 762Z" fill="#6dfce5" stroke="#005547"/><path d="M212.6 769.4L219.4 764.6L212.5 758.1L205.7 763Z" fill="#6dfceb" stroke="#00554b"/><path d="M226.2 771.6L233 767L226.2 759.9L219.4 764.6Z" fill="#6dfcf4" stroke="#005550"/><path d="M239.8 774.5L246.7 770L239.9 762.3L233 767Z" fill="#6df8fc" stroke="#005355"/><path d="M253.4 778.2L260.3 773.7L253.5 765.5L246.7 770Z" fill="#6de8fc" stroke="#004955"/><path d="M164.7 772.1L171.5 766.9L164.6 762.4L157.8 767.6Z" fill="#6dfcf0" stroke="#00554e"/><path d="M178.4 772L185.2 767L178.3 761.8L171.5 766.9Z" fill="#6dfcee" stroke="#00554d"/><path d="M192.1 772.7L198.9 767.8L192 762L185.2 767Z" fill="#6dfcf0" stroke="#00554e"/><path d="M205.7 774.2L212.6 769.4L205.7 763L198.9 767.8Z" fill="#6dfcf5" stroke="#005551"/><path d="M219.4 776.3L226.2 771.6L219.4 764.6L212.6 769.4Z" fill="#6dfcfc" stroke="#005555"/><path d="M233 779.1L239.8 774.5L233 767L226.2 771.6Z" fill="#6df0fc" stroke="#004e55"/><path d="M246.6 782.6L253.4 778.2L246.7 770L239.8 774.5Z" fill="#6de1fc" stroke="#004555"/><path d="M171.6 777.1L178.4 772L171.5 766.9L164.7 772.1Z" fill="#6dfcf9" stroke="#005553"/><path d="M185.3 777.7L192.1 772.7L185.2 767L178.4 772Z" fill="#6dfcfa" stroke="#005554"/><path d="M198.9 779L205.7 774.2L198.9 767.8L192.1 772.7Z" fill="#6dfafc" stroke="#005455"/><path d="M212.6 781L219.4 776.3L212.6 769.4L205.7 774.2Z" fill="#6df3fc" stroke="#005055"/><path d="M226.2 783.7L233 779.1L226.2 771.6L219.4 776.3Z" fill="#6de7fc" stroke="#004955"/><path d="M239.8 787.1L246.6 782.6L239.8 774.5L233 779.1Z" fill="#6dd9fc" stroke="#004055"/><path d="M178.5 782.7L185.3 777.7L178.4 772L171.6 777.1Z" fill="#6df4fc" stroke="#005055"/><path d="M192.1 783.8L198.9 779L192.1 772.7L185.3 777.7Z" fill="#6df0fc" stroke="#004e55"/><path d="M205.8 785.7L212.6 781L205.7 774.2L198.9 779Z" fill="#6de9fc" stroke="#004a55"/><path d="M219.4 788.3L226.2 783.7L219.4 776.3L212.6 781Z" fill="#6ddffc" stroke="#004455"/><path d="M233 791.6L239.8 787.1L233 779.1L226.2 783.7Z" fill="#6dd1fc" stroke="#003b55"/><path d="M185.4 788.7L192.1 783.8L185.3 777.7L178.5 782.7Z" fill="#6de6fc" stroke="#004855"/><path d="M199 790.5L205.8 785.7L198.9 779L192.1 783.8Z" fill="#6de0fc" stroke="#004455"/><path d="M212.6 793L219.4 788.3L212.6 781L205.8 785.7Z" fill="#6dd6fc" stroke="#003e55"/><path d="M226.2 796.1L233 791.6L226.2 783.7L219.4 788.3Z" fill="#6dc9fc" stroke="#003755"/><path d="M192.2 795.4L199 790.5L192.1 783.8L185.4 788.7Z" fill="#6dd7fc" stroke="#003f55"/><path d="M205.8 797.7L212.6 793L205.8 785.7L199 790.5Z" fill="#6dcefc" stroke="#003a55"/><path d="M219.4 800.7L226.2 796.1L219.4 788.3L212.6 793Z" fill="#6dc1fc" stroke="#003255"/><path d="M199.1 802.5L205.8 797.7L199 790.5L192.2 795.4Z" fill="#6dc5fc" stroke="#003455"/><path d="M212.7 805.4L219.4 800.7L212.6 793L205.8 797.7Z" fill="#6db9fc" stroke="#002d55"/><path d="M205.9 810.1L212.7 805.4L205.8 797.7L199.1 802.5Z" fill="#6db1fc" stroke="#002855"/></g>
<path d="M448.9 759.3L443.9 623.8 M478.7 747.9L475.2 616 M508.5 736.6L506.5 608.2 M628 759.3L632 623.8 M598.1 747.9L600.6 616 M568.2 736.6L569.2 608.2 M419.1 770.6L538.3 725.2 M538.3 725.2L657.9 770.6 M418 747.4L538.2 704.4 M538.2 704.4L658.8 747.4 M417 724.2L538.1 683.6 M538.1 683.6L659.7 724.2 M415.9 701L538.1 662.8 M538.1 662.8L660.6 701 M414.8 677.8L538 642 M538 642L661.6 677.8 M413.7 654.6L537.9 621.2 M537.9 621.2L662.5 654.6 M412.6 631.4L537.8 600.4 M537.8 600.4L663.4 631.4" stroke="#1a1a1a" stroke-width="1.15" fill="none"/>
<path d="M421.2 814.6L412.6 631.5 M538.5 764.6L537.8 600.5 M656.1 814.6L663.4 631.5 M412.6 631.5L537.8 600.5 M537.8 600.5L663.4 631.5" stroke="#111" stroke-width="1.1" fill="none"/>
<g fill="#111"><circle cx="419.1" cy="770.6" r="1.3"/><circle cx="418" cy="747.4" r="1.3"/><circle cx="417" cy="724.2" r="1.3"/><circle cx="415.9" cy="701" r="1.3"/><circle cx="414.8" cy="677.8" r="1.3"/><circle cx="413.7" cy="654.6" r="1.3"/><circle cx="412.6" cy="631.4" r="1.3"/></g>
<polygon points="538.4,879.2 656.1,814.6 538.5,764.6 421.2,814.6" fill="#666" stroke="#0d0d0d" stroke-width="1.4" stroke-linejoin="round"/>
<path d="M517.4 867.6L521.2 867.9L525.2 868.1L527.8 868.1L532.5 868.2L534.9 868.2L539.6 868.2L542.2 868.1L546.3 867.9L550 867.7L552.7 867.5L556.8 867.2L560.9 866.7L561.2 866.7" stroke="#59dea7" stroke-width="1.8" fill="none"/>
<path d="M645.4 820.5L646.9 818.8L648.2 817L649.5 815.3L650.7 813.5L651.3 812.5" stroke="#59de7a" stroke-width="1.8" fill="none"/>
<path d="M496.9 856.3L500.2 856.9L503.4 857.4L506.5 857.8L510.4 858.3L514.5 858.7L517.8 859L520.8 859.2L525.2 859.4L528.1 859.5L532.1 859.5L535.3 859.5L539.4 859.4L542.1 859.4L546.4 859.1L550 858.9L552.7 858.6L556.7 858.2L560.6 857.7L564.4 857.2L568.1 856.6L571.5 856L575.1 855.3L578.8 854.5L582.2 853.7L585.5 852.8L587.3 852.3" stroke="#59de7a" stroke-width="1.8" fill="none"/>
<path d="M426 812.6L427.8 814.1L430.1 816L432.5 817.9L435.4 820.1L437.4 821.5L440.6 823.7L443.8 825.7L446.6 827.4L449.5 829.1L453.1 831L455.6 832.3L459.4 834.1L463.4 835.9L466.8 837.3L470.3 838.7L473.8 839.9L477.7 841.2L480.7 842.2L484.2 843.2L488.5 844.3L492.1 845.2L495.6 845.9L499.2 846.6L502.8 847.2L506.2 847.7L509.3 848.1L512.5 848.5L516.6 848.9L520.5 849.2L523.1 849.3L527.6 849.4L530.5 849.5L534.7 849.5L537.4 849.4L541.8 849.2L545.1 849L548 848.7L552 848.3L555.9 847.8L559.7 847.3L563.3 846.7L566.8 846L570.3 845.3L573.6 844.5L576.8 843.6L580.2 842.7L584.5 841.3L587.5 840.3L591.7 838.7L594.5 837.6L598.4 835.9L602.2 834.1L605.8 832.1L609.2 830.2L612.4 828.1L614.5 826.7L617.4 824.4L619.2 822.9L621.8 820.6L623.4 819L625 817.3L626.4 815.6L627.9 813.7L629.1 811.9L630.2 810.2L631.1 808.5L632 806.6L632.7 804.7L632.7 804.7" stroke="#65de59" stroke-width="1.8" fill="none"/>
<path d="M440.8 806.2L442.7 807.9L445.3 810L447.2 811.5L450.1 813.6L453.2 815.7L455.4 817.1L458.7 819.1L462.1 821L465.8 822.9L469.5 824.7L472.1 825.8L476.2 827.5L480.3 829L483.4 830.1L486.4 831L491 832.3L494.4 833.2L497.8 833.9L501.2 834.6L504.9 835.3L508.6 835.8L512.3 836.3L515.2 836.6L518.7 836.9L523.1 837.1L525.6 837.2L530 837.2L532.7 837.2L537 837L540.4 836.8L543.3 836.5L547.1 836.1L550.9 835.6L554.5 835L558 834.3L561.3 833.5L565.1 832.6L569.1 831.4L572 830.4L576.2 828.9L579.3 827.6L582.6 826L586.2 824.2L589.1 822.5L591.6 820.8L594.6 818.7L596.4 817.2L598.6 815.2L600.5 813.3L601.9 811.7L603.2 810L604.4 808.2L605.4 806.4L606.3 804.6L607 803L607.4 801.6L607.9 799.7L608.2 797.9L608.4 796.5L608.4 794.5L608.4 794.3" stroke="#94de5d" stroke-width="1.8" fill="none"/>
<path d="M461.3 797.5L463.7 799.7L465.6 801.2L467.8 802.9L470.4 804.7L473.6 806.7L476.9 808.6L480.5 810.4L484.3 812.2L488.3 813.8L491.2 814.8L495.5 816.2L498.7 817L501.9 817.8L505.4 818.5L509 819.1L512.8 819.6L516.9 820L520.2 820.2L523.6 820.3L527.2 820.2L531.3 820L534.2 819.8L537.4 819.4L541 818.8L545.1 817.9L548.9 816.9L551.8 816L555.8 814.4L559.4 812.7L562.7 810.8L564.6 809.5L567.3 807.3L568.9 805.8L570.2 804.2L571.5 802.5L572.5 800.7L573.3 798.8L573.8 797.2L574.1 795.9L574.3 793.8L574.3 792.5L574.2 790.5L573.9 789.3L573.5 787.5L572.8 785.7L572.1 784.2L571.4 782.8L570.5 781.4L569.4 779.8L568.2 778.3L566.9 776.7L566.9 776.7" stroke="#c1de67" stroke-width="1.8" fill="none"/>
<g fill="#111"><circle cx="538.4" cy="879.2" r="1.3"/><circle cx="567.8" cy="863.1" r="1.3"/><circle cx="597.2" cy="846.9" r="1.3"/><circle cx="626.7" cy="830.8" r="1.3"/><circle cx="656.1" cy="814.6" r="1.3"/><circle cx="538.4" cy="879.2" r="1.3"/><circle cx="509.1" cy="863.1" r="1.3"/><circle cx="479.8" cy="846.9" r="1.3"/><circle cx="450.5" cy="830.8" r="1.3"/><circle cx="421.2" cy="814.6" r="1.3"/></g>
<g stroke-width="0.85" stroke-linejoin="round"><path d="M538 651.4L544.2 650.7L538 648.7L531.9 649.4Z" fill="#ecfc7f" stroke="#4b5509"/><path d="M531.9 652.3L538 651.4L531.9 649.4L525.7 650.3Z" fill="#f2fc80" stroke="#4f5509"/><path d="M544.2 653.5L550.3 652.8L544.2 650.7L538 651.4Z" fill="#eafc7f" stroke="#4a5509"/><path d="M525.7 653.4L531.9 652.3L525.7 650.3L519.5 651.4Z" fill="#f7fc81" stroke="#52550a"/><path d="M538 654.4L544.2 653.5L538 651.4L531.9 652.3Z" fill="#f1fc80" stroke="#4e5509"/><path d="M550.3 655.7L556.5 655L550.3 652.8L544.2 653.5Z" fill="#e9fc7f" stroke="#4a5509"/><path d="M519.5 654.6L525.7 653.4L519.5 651.4L513.4 652.7Z" fill="#fbfc81" stroke="#55550a"/><path d="M531.9 655.4L538 654.4L531.9 652.3L525.7 653.4Z" fill="#f6fc81" stroke="#51550a"/><path d="M544.2 656.6L550.3 655.7L544.2 653.5L538 654.4Z" fill="#effc80" stroke="#4d5509"/><path d="M556.5 658L562.6 657.3L556.5 655L550.3 655.7Z" fill="#e6fc7e" stroke="#485508"/><path d="M513.4 656.1L519.5 654.6L513.4 652.7L507.2 654.2Z" fill="#fcfb81" stroke="#55550a"/><path d="M525.7 656.7L531.9 655.4L525.7 653.4L519.5 654.6Z" fill="#fafc81" stroke="#54550a"/><path d="M538 657.6L544.2 656.6L538 654.4L531.9 655.4Z" fill="#f5fc80" stroke="#515509"/><path d="M550.4 658.8L556.5 658L550.3 655.7L544.2 656.6Z" fill="#edfc80" stroke="#4c5509"/><path d="M562.7 660.4L568.8 659.7L562.6 657.3L556.5 658Z" fill="#e3fc7e" stroke="#465508"/><path d="M507.2 657.8L513.4 656.1L507.2 654.2L501.1 655.9Z" fill="#fcfa81" stroke="#55540a"/><path d="M519.6 658.1L525.7 656.7L519.5 654.6L513.4 656.1Z" fill="#fcfc81" stroke="#55550a"/><path d="M531.9 658.8L538 657.6L531.9 655.4L525.7 656.7Z" fill="#f9fc81" stroke="#53550a"/><path d="M544.2 659.9L550.4 658.8L544.2 656.6L538 657.6Z" fill="#f3fc80" stroke="#505509"/><path d="M556.5 661.3L562.7 660.4L556.5 658L550.4 658.8Z" fill="#eafc7f" stroke="#4a5509"/><path d="M568.8 662.9L575 662.3L568.8 659.7L562.7 660.4Z" fill="#dffc7d" stroke="#435508"/><path d="M501.1 659.6L507.2 657.8L501.1 655.9L494.9 657.8Z" fill="#fcfa81" stroke="#55540a"/><path d="M513.4 659.8L519.6 658.1L513.4 656.1L507.2 657.8Z" fill="#fcfa81" stroke="#55540a"/><path d="M525.7 660.3L531.9 658.8L525.7 656.7L519.6 658.1Z" fill="#fcfc81" stroke="#55550a"/><path d="M538 661.1L544.2 659.9L538 657.6L531.9 658.8Z" fill="#f7fc81" stroke="#52550a"/><path d="M550.4 662.3L556.5 661.3L550.4 658.8L544.2 659.9Z" fill="#f0fc80" stroke="#4e5509"/><path d="M562.7 663.8L568.8 662.9L562.7 660.4L556.5 661.3Z" fill="#e7fc7e" stroke="#485508"/><path d="M575 665.6L581.1 664.9L575 662.3L568.8 662.9Z" fill="#dafc7c" stroke="#405507"/><path d="M494.9 661.7L501.1 659.6L494.9 657.8L488.8 659.9Z" fill="#fcfb81" stroke="#55550a"/><path d="M507.2 661.6L513.4 659.8L507.2 657.8L501.1 659.6Z" fill="#fcf981" stroke="#55530a"/><path d="M519.6 661.9L525.7 660.3L519.6 658.1L513.4 659.8Z" fill="#fcfb81" stroke="#55550a"/><path d="M531.9 662.5L538 661.1L531.9 658.8L525.7 660.3Z" fill="#fbfc81" stroke="#55550a"/><path d="M544.2 663.5L550.4 662.3L544.2 659.9L538 661.1Z" fill="#f5fc80" stroke="#515509"/><path d="M556.5 664.8L562.7 663.8L556.5 661.3L550.4 662.3Z" fill="#edfc80" stroke="#4c5509"/><path d="M568.8 666.4L575 665.6L568.8 662.9L562.7 663.8Z" fill="#e2fc7e" stroke="#455508"/><path d="M581.1 668.4L587.2 667.7L581.1 664.9L575 665.6Z" fill="#d5fc7a" stroke="#3d5506"/><path d="M488.8 664L494.9 661.7L488.8 659.9L482.6 662.2Z" fill="#fcfc81" stroke="#55550a"/><path d="M501.1 663.7L507.2 661.6L501.1 659.6L494.9 661.7Z" fill="#fcfa81" stroke="#55540a"/><path d="M513.4 663.7L519.6 661.9L513.4 659.8L507.2 661.6Z" fill="#fcfa81" stroke="#55540a"/><path d="M525.7 664.1L531.9 662.5L525.7 660.3L519.6 661.9Z" fill="#fcfc81" stroke="#55550a"/><path d="M538.1 664.9L544.2 663.5L538 661.1L531.9 662.5Z" fill="#f9fc81" stroke="#53550a"/><path d="M550.4 666L556.5 664.8L550.4 662.3L544.2 663.5Z" fill="#f2fc80" stroke="#4f5509"/><path d="M562.7 667.5L568.8 666.4L562.7 663.8L556.5 664.8Z" fill="#e9fc7f" stroke="#4a5509"/><path d="M575 669.2L581.1 668.4L575 665.6L568.8 666.4Z" fill="#ddfc7c" stroke="#425507"/><path d="M587.3 671.3L593.4 670.6L587.2 667.7L581.1 668.4Z" fill="#cffc79" stroke="#3a5505"/><path d="M482.7 666.6L488.8 664L482.6 662.2L476.5 664.8Z" fill="#f8fc81" stroke="#53550a"/><path d="M494.9 666L501.1 663.7L494.9 661.7L488.8 664Z" fill="#fcfc81" stroke="#55550a"/><path d="M507.3 665.8L513.4 663.7L507.2 661.6L501.1 663.7Z" fill="#fcfa81" stroke="#55540a"/><path d="M519.6 666L525.7 664.1L519.6 661.9L513.4 663.7Z" fill="#fcfb81" stroke="#55550a"/><path d="M531.9 666.5L538.1 664.9L531.9 662.5L525.7 664.1Z" fill="#fbfc81" stroke="#55550a"/><path d="M544.2 667.4L550.4 666L544.2 663.5L538.1 664.9Z" fill="#f6fc81" stroke="#51550a"/><path d="M556.5 668.7L562.7 667.5L556.5 664.8L550.4 666Z" fill="#eefc80" stroke="#4d5509"/><path d="M568.8 670.3L575 669.2L568.8 666.4L562.7 667.5Z" fill="#e4fc7e" stroke="#465508"/><path d="M581.1 672.1L587.3 671.3L581.1 668.4L575 669.2Z" fill="#d7fc7b" stroke="#3f5506"/><path d="M593.4 674.3L599.5 673.6L593.4 670.6L587.3 671.3Z" fill="#c7fc77" stroke="#355504"/><path d="M476.5 669.4L482.7 666.6L476.5 664.8L470.4 667.6Z" fill="#f3fc80" stroke="#505509"/><path d="M488.8 668.6L494.9 666L488.8 664L482.7 666.6Z" fill="#f9fc81" stroke="#53550a"/><path d="M501.1 668.1L507.3 665.8L501.1 663.7L494.9 666Z" fill="#fcfc81" stroke="#55550a"/><path d="M513.4 668L519.6 666L513.4 663.7L507.3 665.8Z" fill="#fcfb81" stroke="#55550a"/><path d="M525.7 668.4L531.9 666.5L525.7 664.1L519.6 666Z" fill="#fcfc81" stroke="#55550a"/><path d="M538.1 669.1L544.2 667.4L538.1 664.9L531.9 666.5Z" fill="#f8fc81" stroke="#53550a"/><path d="M550.4 670.1L556.5 668.7L550.4 666L544.2 667.4Z" fill="#f2fc80" stroke="#4f5509"/><path d="M562.7 671.5L568.8 670.3L562.7 667.5L556.5 668.7Z" fill="#e9fc7f" stroke="#4a5509"/><path d="M575 673.2L581.1 672.1L575 669.2L568.8 670.3Z" fill="#defc7d" stroke="#435508"/><path d="M587.3 675.2L593.4 674.3L587.3 671.3L581.1 672.1Z" fill="#d0fc79" stroke="#3a5505"/><path d="M599.5 677.5L605.6 676.8L599.5 673.6L593.4 674.3Z" fill="#bffc75" stroke="#305503"/><path d="M470.4 672.5L476.5 669.4L470.4 667.6L464.3 670.7Z" fill="#edfc80" stroke="#4c5509"/><path d="M482.7 671.3L488.8 668.6L482.7 666.6L476.5 669.4Z" fill="#f5fc80" stroke="#515509"/><path d="M495 670.6L501.1 668.1L494.9 666L488.8 668.6Z" fill="#fafc81" stroke="#54550a"/><path d="M507.3 670.3L513.4 668L507.3 665.8L501.1 668.1Z" fill="#fcfc81" stroke="#55550a"/><path d="M519.6 670.4L525.7 668.4L519.6 666L513.4 668Z" fill="#fcfc81" stroke="#55550a"/><path d="M531.9 670.9L538.1 669.1L531.9 666.5L525.7 668.4Z" fill="#f9fc81" stroke="#53550a"/><path d="M544.2 671.7L550.4 670.1L544.2 667.4L538.1 669.1Z" fill="#f5fc80" stroke="#515509"/><path d="M556.5 672.9L562.7 671.5L556.5 668.7L550.4 670.1Z" fill="#edfc80" stroke="#4c5509"/><path d="M568.8 674.5L575 673.2L568.8 670.3L562.7 671.5Z" fill="#e4fc7e" stroke="#465508"/><path d="M581.1 676.3L587.3 675.2L581.1 672.1L575 673.2Z" fill="#d7fc7b" stroke="#3f5506"/><path d="M593.4 678.5L599.5 677.5L593.4 674.3L587.3 675.2Z" fill="#c8fc77" stroke="#365504"/><path d="M605.6 680.9L611.7 680.1L605.6 676.8L599.5 677.5Z" fill="#b5fc73" stroke="#2a5502"/><path d="M464.3 675.8L470.4 672.5L464.3 670.7L458.2 674.1Z" fill="#e5fc7e" stroke="#475508"/><path d="M476.6 674.4L482.7 671.3L476.5 669.4L470.4 672.5Z" fill="#effc80" stroke="#4d5509"/><path d="M488.8 673.4L495 670.6L488.8 668.6L482.7 671.3Z" fill="#f5fc80" stroke="#515509"/><path d="M501.1 672.9L507.3 670.3L501.1 668.1L495 670.6Z" fill="#f9fc81" stroke="#53550a"/><path d="M513.4 672.7L519.6 670.4L513.4 668L507.3 670.3Z" fill="#fbfc81" stroke="#55550a"/><path d="M525.8 673L531.9 670.9L525.7 668.4L519.6 670.4Z" fill="#fafc81" stroke="#54550a"/><path d="M538.1 673.6L544.2 671.7L538.1 669.1L531.9 670.9Z" fill="#f6fc81" stroke="#51550a"/><path d="M550.4 674.6L556.5 672.9L550.4 670.1L544.2 671.7Z" fill="#f0fc80" stroke="#4e5509"/><path d="M562.7 675.9L568.8 674.5L562.7 671.5L556.5 672.9Z" fill="#e8fc7f" stroke="#495509"/><path d="M575 677.6L581.1 676.3L575 673.2L568.8 674.5Z" fill="#ddfc7c" stroke="#425507"/><path d="M587.3 679.6L593.4 678.5L587.3 675.2L581.1 676.3Z" fill="#cffc79" stroke="#3a5505"/><path d="M599.5 681.8L605.6 680.9L599.5 677.5L593.4 678.5Z" fill="#befc75" stroke="#305503"/><path d="M611.7 684.4L617.8 683.6L611.7 680.1L605.6 680.9Z" fill="#abfc72" stroke="#245502"/><path d="M458.2 679.4L464.3 675.8L458.2 674.1L452.1 677.7Z" fill="#dbfc7c" stroke="#415507"/><path d="M470.5 677.7L476.6 674.4L470.4 672.5L464.3 675.8Z" fill="#e7fc7f" stroke="#485509"/><path d="M482.7 676.5L488.8 673.4L482.7 671.3L476.6 674.4Z" fill="#f0fc80" stroke="#4e5509"/><path d="M495 675.6L501.1 672.9L495 670.6L488.8 673.4Z" fill="#f5fc80" stroke="#515509"/><path d="M507.3 675.2L513.4 672.7L507.3 670.3L501.1 672.9Z" fill="#f8fc81" stroke="#53550a"/><path d="M519.6 675.3L525.8 673L519.6 670.4L513.4 672.7Z" fill="#f8fc81" stroke="#53550a"/><path d="M531.9 675.6L538.1 673.6L531.9 670.9L525.8 673Z" fill="#f6fc81" stroke="#51550a"/><path d="M544.2 676.4L550.4 674.6L544.2 671.7L538.1 673.6Z" fill="#f2fc80" stroke="#4f5509"/><path d="M556.5 677.6L562.7 675.9L556.5 672.9L550.4 674.6Z" fill="#ebfc7f" stroke="#4b5509"/><path d="M568.8 679L575 677.6L568.8 674.5L562.7 675.9Z" fill="#e2fc7d" stroke="#455508"/><path d="M581.1 680.8L587.3 679.6L581.1 676.3L575 677.6Z" fill="#d5fc7b" stroke="#3d5506"/><path d="M593.4 683L599.5 681.8L593.4 678.5L587.3 679.6Z" fill="#c6fc77" stroke="#345504"/><path d="M605.6 685.4L611.7 684.4L605.6 680.9L599.5 681.8Z" fill="#b4fc73" stroke="#2a5502"/><path d="M617.8 688.1L623.9 687.2L617.8 683.6L611.7 684.4Z" fill="#9ffc70" stroke="#1d5500"/><path d="M452.2 683.3L458.2 679.4L452.1 677.7L446 681.6Z" fill="#d0fc79" stroke="#3a5505"/><path d="M464.4 681.3L470.5 677.7L464.3 675.8L458.2 679.4Z" fill="#defc7d" stroke="#435508"/><path d="M476.6 679.8L482.7 676.5L476.6 674.4L470.5 677.7Z" fill="#e8fc7f" stroke="#495509"/><path d="M488.9 678.7L495 675.6L488.8 673.4L482.7 676.5Z" fill="#f0fc80" stroke="#4e5509"/><path d="M501.1 678L507.3 675.2L501.1 672.9L495 675.6Z" fill="#f4fc80" stroke="#505509"/><path d="M513.5 677.8L519.6 675.3L513.4 672.7L507.3 675.2Z" fill="#f6fc81" stroke="#51550a"/><path d="M525.8 678L531.9 675.6L525.8 673L519.6 675.3Z" fill="#f5fc80" stroke="#515509"/><path d="M538.1 678.5L544.2 676.4L538.1 673.6L531.9 675.6Z" fill="#f2fc80" stroke="#4f5509"/><path d="M550.4 679.4L556.5 677.6L550.4 674.6L544.2 676.4Z" fill="#edfc80" stroke="#4c5509"/><path d="M562.7 680.7L568.8 679L562.7 675.9L556.5 677.6Z" fill="#e5fc7e" stroke="#475508"/><path d="M575 682.3L581.1 680.8L575 677.6L568.8 679Z" fill="#dafc7c" stroke="#405507"/><path d="M587.3 684.3L593.4 683L587.3 679.6L581.1 680.8Z" fill="#cdfc78" stroke="#395505"/><path d="M599.5 686.6L605.6 685.4L599.5 681.8L593.4 683Z" fill="#bcfc75" stroke="#2e5503"/><path d="M611.7 689.1L617.8 688.1L611.7 684.4L605.6 685.4Z" fill="#a9fc71" stroke="#235501"/><path d="M623.9 692L630 691.1L623.9 687.2L617.8 688.1Z" fill="#93fc6f" stroke="#165500"/><path d="M446.1 687.5L452.2 683.3L446 681.6L440 685.8Z" fill="#c1fc76" stroke="#315504"/><path d="M458.3 685.2L464.4 681.3L458.2 679.4L452.2 683.3Z" fill="#d2fc7a" stroke="#3c5506"/><path d="M470.5 683.4L476.6 679.8L470.5 677.7L464.4 681.3Z" fill="#dffc7d" stroke="#435508"/><path d="M482.7 682L488.9 678.7L482.7 676.5L476.6 679.8Z" fill="#e9fc7f" stroke="#4a5509"/><path d="M495 681.1L501.1 678L495 675.6L488.9 678.7Z" fill="#effc80" stroke="#4d5509"/><path d="M507.3 680.6L513.5 677.8L507.3 675.2L501.1 678Z" fill="#f2fc80" stroke="#4f5509"/><path d="M519.6 680.5L525.8 678L519.6 675.3L513.5 677.8Z" fill="#f3fc80" stroke="#505509"/><path d="M531.9 680.8L538.1 678.5L531.9 675.6L525.8 678Z" fill="#f1fc80" stroke="#4e5509"/><path d="M544.2 681.5L550.4 679.4L544.2 676.4L538.1 678.5Z" fill="#edfc80" stroke="#4c5509"/><path d="M556.5 682.6L562.7 680.7L556.5 677.6L550.4 679.4Z" fill="#e7fc7e" stroke="#485508"/><path d="M568.8 684L575 682.3L568.8 679L562.7 680.7Z" fill="#ddfc7d" stroke="#425508"/><path d="M581.1 685.8L587.3 684.3L581.1 680.8L575 682.3Z" fill="#d1fc7a" stroke="#3b5506"/><path d="M593.4 687.9L599.5 686.6L593.4 683L587.3 684.3Z" fill="#c2fc76" stroke="#325504"/><path d="M605.6 690.3L611.7 689.1L605.6 685.4L599.5 686.6Z" fill="#b0fc73" stroke="#275502"/><path d="M617.8 693L623.9 692L617.8 688.1L611.7 689.1Z" fill="#9cfc70" stroke="#1b5500"/><path d="M630 696L636.1 695L630 691.1L623.9 692Z" fill="#85fc6e" stroke="#0d5500"/><path d="M440.1 692L446.1 687.5L440 685.8L434 690.3Z" fill="#b1fc73" stroke="#285502"/><path d="M452.2 689.4L458.3 685.2L452.2 683.3L446.1 687.5Z" fill="#c5fc77" stroke="#345504"/><path d="M464.4 687.3L470.5 683.4L464.4 681.3L458.3 685.2Z" fill="#d4fc7a" stroke="#3d5506"/><path d="M476.6 685.6L482.7 682L476.6 679.8L470.5 683.4Z" fill="#e0fc7d" stroke="#445508"/><path d="M488.9 684.4L495 681.1L488.9 678.7L482.7 682Z" fill="#e8fc7f" stroke="#495509"/><path d="M501.2 683.6L507.3 680.6L501.1 678L495 681.1Z" fill="#edfc80" stroke="#4c5509"/><path d="M513.5 683.3L519.6 680.5L513.5 677.8L507.3 680.6Z" fill="#effc80" stroke="#4d5509"/><path d="M525.8 683.4L531.9 680.8L525.8 678L519.6 680.5Z" fill="#effc80" stroke="#4d5509"/><path d="M538.1 683.9L544.2 681.5L538.1 678.5L531.9 680.8Z" fill="#ecfc7f" stroke="#4b5509"/><path d="M550.4 684.7L556.5 682.6L550.4 679.4L544.2 681.5Z" fill="#e7fc7f" stroke="#485509"/><path d="M562.7 686L568.8 684L562.7 680.7L556.5 682.6Z" fill="#dffc7d" stroke="#435508"/><path d="M575 687.6L581.1 685.8L575 682.3L568.8 684Z" fill="#d5fc7a" stroke="#3d5506"/><path d="M587.2 689.5L593.4 687.9L587.3 684.3L581.1 685.8Z" fill="#c7fc77" stroke="#355504"/><path d="M599.5 691.7L605.6 690.3L599.5 686.6L593.4 687.9Z" fill="#b7fc74" stroke="#2b5503"/><path d="M611.7 694.3L617.8 693L611.7 689.1L605.6 690.3Z" fill="#a4fc71" stroke="#205501"/><path d="M623.9 697.1L630 696L623.9 692L617.8 693Z" fill="#8efc6e" stroke="#135500"/><path d="M636 700.2L642.1 699.2L636.1 695L630 696Z" fill="#77fc6d" stroke="#055500"/><path d="M434.1 696.8L440.1 692L434 690.3L428 695.1Z" fill="#9ffc70" stroke="#1d5500"/><path d="M446.2 693.9L452.2 689.4L446.1 687.5L440.1 692Z" fill="#b5fc73" stroke="#2a5502"/><path d="M458.3 691.4L464.4 687.3L458.3 685.2L452.2 689.4Z" fill="#c7fc77" stroke="#355504"/><path d="M470.5 689.5L476.6 685.6L470.5 683.4L464.4 687.3Z" fill="#d5fc7b" stroke="#3d5506"/><path d="M482.8 688L488.9 684.4L482.7 682L476.6 685.6Z" fill="#dffc7d" stroke="#435508"/><path d="M495 687L501.2 683.6L495 681.1L488.9 684.4Z" fill="#e6fc7e" stroke="#485508"/><path d="M507.3 686.4L513.5 683.3L507.3 680.6L501.2 683.6Z" fill="#eafc7f" stroke="#4a5509"/><path d="M519.6 686.2L525.8 683.4L519.6 680.5L513.5 683.3Z" fill="#ebfc7f" stroke="#4b5509"/><path d="M531.9 686.5L538.1 683.9L531.9 680.8L525.8 683.4Z" fill="#eafc7f" stroke="#4a5509"/><path d="M544.2 687.1L550.4 684.7L544.2 681.5L538.1 683.9Z" fill="#e6fc7e" stroke="#485508"/><path d="M556.5 688.1L562.7 686L556.5 682.6L550.4 684.7Z" fill="#e0fc7d" stroke="#445508"/><path d="M568.8 689.5L575 687.6L568.8 684L562.7 686Z" fill="#d7fc7b" stroke="#3f5506"/><path d="M581.1 691.3L587.2 689.5L581.1 685.8L575 687.6Z" fill="#cbfc78" stroke="#375505"/><path d="M593.4 693.3L599.5 691.7L593.4 687.9L587.2 689.5Z" fill="#bcfc75" stroke="#2e5503"/><path d="M605.6 695.7L611.7 694.3L605.6 690.3L599.5 691.7Z" fill="#aafc72" stroke="#235502"/><path d="M617.8 698.4L623.9 697.1L617.8 693L611.7 694.3Z" fill="#96fc6f" stroke="#175500"/><path d="M629.9 701.4L636 700.2L630 696L623.9 697.1Z" fill="#80fc6e" stroke="#0a5500"/><path d="M642.1 704.6L648.1 703.6L642.1 699.2L636 700.2Z" fill="#6dfc72" stroke="#005502"/><path d="M428.1 701.9L434.1 696.8L428 695.1L422 700.2Z" fill="#8afc6e" stroke="#105500"/><path d="M440.2 698.7L446.2 693.9L440.1 692L434.1 696.8Z" fill="#a3fc70" stroke="#1f5500"/><path d="M452.3 695.9L458.3 691.4L452.2 689.4L446.2 693.9Z" fill="#b7fc74" stroke="#2b5503"/><path d="M464.5 693.7L470.5 689.5L464.4 687.3L458.3 691.4Z" fill="#c8fc77" stroke="#365504"/><path d="M476.7 691.9L482.8 688L476.6 685.6L470.5 689.5Z" fill="#d5fc7a" stroke="#3d5506"/><path d="M488.9 690.6L495 687L488.9 684.4L482.8 688Z" fill="#defc7d" stroke="#435508"/><path d="M501.2 689.7L507.3 686.4L501.2 683.6L495 687Z" fill="#e3fc7e" stroke="#465508"/><path d="M513.5 689.3L519.6 686.2L513.5 683.3L507.3 686.4Z" fill="#e6fc7e" stroke="#485508"/><path d="M525.8 689.3L531.9 686.5L525.8 683.4L519.6 686.2Z" fill="#e7fc7e" stroke="#485508"/><path d="M538.1 689.7L544.2 687.1L538.1 683.9L531.9 686.5Z" fill="#e4fc7e" stroke="#465508"/><path d="M550.4 690.5L556.5 688.1L550.4 684.7L544.2 687.1Z" fill="#dffc7d" stroke="#435508"/><path d="M562.7 691.7L568.8 689.5L562.7 686L556.5 688.1Z" fill="#d8fc7b" stroke="#3f5506"/><path d="M575 693.3L581.1 691.3L575 687.6L568.8 689.5Z" fill="#cdfc79" stroke="#395505"/><path d="M587.2 695.2L593.4 693.3L587.2 689.5L581.1 691.3Z" fill="#c0fc76" stroke="#315504"/><path d="M599.5 697.4L605.6 695.7L599.5 691.7L593.4 693.3Z" fill="#affc72" stroke="#275502"/><path d="M611.7 699.9L617.8 698.4L611.7 694.3L605.6 695.7Z" fill="#9cfc70" stroke="#1b5500"/><path d="M623.9 702.8L629.9 701.4L623.9 697.1L617.8 698.4Z" fill="#87fc6e" stroke="#0f5500"/><path d="M636 705.9L642.1 704.6L636 700.2L629.9 701.4Z" fill="#70fc6d" stroke="#015500"/><path d="M648.1 709.2L654.2 708.1L648.1 703.6L642.1 704.6Z" fill="#6dfc81" stroke="#00550b"/><path d="M422.1 707.4L428.1 701.9L422 700.2L416.1 705.7Z" fill="#75fc6d" stroke="#045500"/><path d="M434.2 703.8L440.2 698.7L434.1 696.8L428.1 701.9Z" fill="#8ffc6e" stroke="#135500"/><path d="M446.3 700.7L452.3 695.9L446.2 693.9L440.2 698.7Z" fill="#a6fc71" stroke="#215501"/><path d="M458.4 698.1L464.5 693.7L458.3 691.4L452.3 695.9Z" fill="#b9fc74" stroke="#2d5503"/><path d="M470.6 696.1L476.7 691.9L470.5 689.5L464.5 693.7Z" fill="#c8fc77" stroke="#365504"/><path d="M482.8 694.5L488.9 690.6L482.8 688L476.7 691.9Z" fill="#d3fc7a" stroke="#3c5506"/><path d="M495.1 693.3L501.2 689.7L495 687L488.9 690.6Z" fill="#dbfc7c" stroke="#415507"/><path d="M507.4 692.6L513.5 689.3L507.3 686.4L501.2 689.7Z" fill="#e0fc7d" stroke="#445508"/><path d="M519.6 692.4L525.8 689.3L519.6 686.2L513.5 689.3Z" fill="#e2fc7d" stroke="#455508"/><path d="M531.9 692.6L538.1 689.7L531.9 686.5L525.8 689.3Z" fill="#e1fc7d" stroke="#455508"/><path d="M544.2 693.2L550.4 690.5L544.2 687.1L538.1 689.7Z" fill="#ddfc7c" stroke="#425507"/><path d="M556.5 694.1L562.7 691.7L556.5 688.1L550.4 690.5Z" fill="#d7fc7b" stroke="#3f5506"/><path d="M568.8 695.5L575 693.3L568.8 689.5L562.7 691.7Z" fill="#cefc79" stroke="#395505"/><path d="M581.1 697.2L587.2 695.2L581.1 691.3L575 693.3Z" fill="#c2fc76" stroke="#325504"/><path d="M593.3 699.3L599.5 697.4L593.4 693.3L587.2 695.2Z" fill="#b3fc73" stroke="#295502"/><path d="M605.6 701.6L611.7 699.9L605.6 695.7L599.5 697.4Z" fill="#a1fc70" stroke="#1e5500"/><path d="M617.7 704.3L623.9 702.8L617.8 698.4L611.7 699.9Z" fill="#8dfc6e" stroke="#125500"/><path d="M629.9 707.3L636 705.9L629.9 701.4L623.9 702.8Z" fill="#78fc6d" stroke="#065500"/><path d="M642 710.6L648.1 709.2L642.1 704.6L636 705.9Z" fill="#6dfc79" stroke="#005507"/><path d="M654.1 714.1L660.2 712.9L654.2 708.1L648.1 709.2Z" fill="#6dfc92" stroke="#005516"/><path d="M428.2 709.2L434.2 703.8L428.1 701.9L422.1 707.4Z" fill="#79fc6d" stroke="#075500"/><path d="M440.3 705.8L446.3 700.7L440.2 698.7L434.2 703.8Z" fill="#92fc6f" stroke="#155500"/><path d="M452.4 702.9L458.4 698.1L452.3 695.9L446.3 700.7Z" fill="#a7fc71" stroke="#225501"/><path d="M464.5 700.5L470.6 696.1L464.5 693.7L458.4 698.1Z" fill="#b9fc74" stroke="#2d5503"/><path d="M476.7 698.7L482.8 694.5L476.7 691.9L470.6 696.1Z" fill="#c7fc77" stroke="#355504"/><path d="M489 697.2L495.1 693.3L488.9 690.6L482.8 694.5Z" fill="#d1fc79" stroke="#3b5505"/><path d="M501.2 696.3L507.4 692.6L501.2 689.7L495.1 693.3Z" fill="#d7fc7b" stroke="#3f5506"/><path d="M513.5 695.8L519.6 692.4L513.5 689.3L507.4 692.6Z" fill="#dbfc7c" stroke="#415507"/><path d="M525.8 695.7L531.9 692.6L525.8 689.3L519.6 692.4Z" fill="#dcfc7c" stroke="#425507"/><path d="M538.1 696.1L544.2 693.2L538.1 689.7L531.9 692.6Z" fill="#d9fc7c" stroke="#405507"/><path d="M550.4 696.8L556.5 694.1L550.4 690.5L544.2 693.2Z" fill="#d5fc7a" stroke="#3d5506"/><path d="M562.7 698L568.8 695.5L562.7 691.7L556.5 694.1Z" fill="#cdfc79" stroke="#395505"/><path d="M574.9 699.5L581.1 697.2L575 693.3L568.8 695.5Z" fill="#c2fc76" stroke="#325504"/><path d="M587.2 701.4L593.3 699.3L587.2 695.2L581.1 697.2Z" fill="#b5fc73" stroke="#2a5502"/><path d="M599.4 703.6L605.6 701.6L599.5 697.4L593.3 699.3Z" fill="#a5fc71" stroke="#205501"/><path d="M611.6 706.1L617.7 704.3L611.7 699.9L605.6 701.6Z" fill="#92fc6f" stroke="#155500"/><path d="M623.8 709L629.9 707.3L623.9 702.8L617.7 704.3Z" fill="#7efc6d" stroke="#0a5500"/><path d="M635.9 712.1L642 710.6L636 705.9L629.9 707.3Z" fill="#6dfc73" stroke="#005503"/><path d="M648 715.5L654.1 714.1L648.1 709.2L642 710.6Z" fill="#6dfc8a" stroke="#005511"/><path d="M434.3 711.3L440.3 705.8L434.2 703.8L428.2 709.2Z" fill="#7dfc6d" stroke="#095500"/><path d="M446.4 708.1L452.4 702.9L446.3 700.7L440.3 705.8Z" fill="#94fc6f" stroke="#165500"/><path d="M458.5 705.4L464.5 700.5L458.4 698.1L452.4 702.9Z" fill="#a8fc71" stroke="#225501"/><path d="M470.7 703.2L476.7 698.7L470.6 696.1L464.5 700.5Z" fill="#b8fc74" stroke="#2c5503"/><path d="M482.9 701.4L489 697.2L482.8 694.5L476.7 698.7Z" fill="#c4fc77" stroke="#335504"/><path d="M495.1 700.2L501.2 696.3L495.1 693.3L489 697.2Z" fill="#cdfc79" stroke="#395505"/><path d="M507.4 699.4L513.5 695.8L507.4 692.6L501.2 696.3Z" fill="#d2fc7a" stroke="#3c5506"/><path d="M519.7 699.1L525.8 695.7L519.6 692.4L513.5 695.8Z" fill="#d5fc7a" stroke="#3d5506"/><path d="M531.9 699.2L538.1 696.1L531.9 692.6L525.8 695.7Z" fill="#d4fc7a" stroke="#3d5506"/><path d="M544.2 699.8L550.4 696.8L544.2 693.2L538.1 696.1Z" fill="#d1fc7a" stroke="#3b5506"/><path d="M556.5 700.7L562.7 698L556.5 694.1L550.4 696.8Z" fill="#cbfc78" stroke="#375505"/><path d="M568.8 702L574.9 699.5L568.8 695.5L562.7 698Z" fill="#c2fc76" stroke="#325504"/><path d="M581.1 703.7L587.2 701.4L581.1 697.2L574.9 699.5Z" fill="#b6fc73" stroke="#2b5502"/><path d="M593.3 705.7L599.4 703.6L593.3 699.3L587.2 701.4Z" fill="#a7fc71" stroke="#225501"/><path d="M605.5 708.1L611.6 706.1L605.6 701.6L599.4 703.6Z" fill="#96fc6f" stroke="#175500"/><path d="M617.7 710.8L623.8 709L617.7 704.3L611.6 706.1Z" fill="#82fc6e" stroke="#0c5500"/><path d="M629.8 713.8L635.9 712.1L629.9 707.3L623.8 709Z" fill="#6dfc6d" stroke="#005500"/><path d="M642 717.1L648 715.5L642 710.6L635.9 712.1Z" fill="#6dfc84" stroke="#00550d"/><path d="M440.4 713.5L446.4 708.1L440.3 705.8L434.3 711.3Z" fill="#7ffc6d" stroke="#0a5500"/><path d="M452.5 710.5L458.5 705.4L452.4 702.9L446.4 708.1Z" fill="#95fc6f" stroke="#175500"/><path d="M464.6 708L470.7 703.2L464.5 700.5L458.5 705.4Z" fill="#a7fc71" stroke="#225501"/><path d="M476.8 706L482.9 701.4L476.7 698.7L470.7 703.2Z" fill="#b5fc73" stroke="#2a5502"/><path d="M489 704.4L495.1 700.2L489 697.2L482.9 701.4Z" fill="#c0fc76" stroke="#315504"/><path d="M501.3 703.4L507.4 699.4L501.2 696.3L495.1 700.2Z" fill="#c8fc77" stroke="#365504"/><path d="M513.5 702.8L519.7 699.1L513.5 695.8L507.4 699.4Z" fill="#ccfc78" stroke="#385505"/><path d="M525.8 702.7L531.9 699.2L525.8 695.7L519.7 699.1Z" fill="#cdfc79" stroke="#395505"/><path d="M538.1 703L544.2 699.8L538.1 696.1L531.9 699.2Z" fill="#ccfc78" stroke="#385505"/><path d="M550.4 703.7L556.5 700.7L550.4 696.8L544.2 699.8Z" fill="#c7fc77" stroke="#355504"/><path d="M562.6 704.8L568.8 702L562.7 698L556.5 700.7Z" fill="#bffc75" stroke="#305503"/><path d="M574.9 706.3L581.1 703.7L574.9 699.5L568.8 702Z" fill="#b5fc73" stroke="#2a5502"/><path d="M587.2 708.1L593.3 705.7L587.2 701.4L581.1 703.7Z" fill="#a7fc71" stroke="#225501"/><path d="M599.4 710.3L605.5 708.1L599.4 703.6L593.3 705.7Z" fill="#98fc6f" stroke="#195500"/><path d="M611.6 712.9L617.7 710.8L611.6 706.1L605.5 708.1Z" fill="#85fc6e" stroke="#0d5500"/><path d="M623.7 715.7L629.8 713.8L623.8 709L617.7 710.8Z" fill="#71fc6d" stroke="#025500"/><path d="M635.9 718.8L642 717.1L635.9 712.1L629.8 713.8Z" fill="#6dfc7e" stroke="#00550a"/><path d="M446.5 716L452.5 710.5L446.4 708.1L440.4 713.5Z" fill="#80fc6e" stroke="#0a5500"/><path d="M458.6 713.1L464.6 708L458.5 705.4L452.5 710.5Z" fill="#94fc6f" stroke="#165500"/><path d="M470.8 710.8L476.8 706L470.7 703.2L464.6 708Z" fill="#a5fc71" stroke="#205501"/><path d="M483 709L489 704.4L482.9 701.4L476.8 706Z" fill="#b2fc73" stroke="#285502"/><path d="M495.2 707.7L501.3 703.4L495.1 700.2L489 704.4Z" fill="#bbfc75" stroke="#2e5503"/><path d="M507.4 706.8L513.5 702.8L507.4 699.4L501.3 703.4Z" fill="#c2fc76" stroke="#325504"/><path d="M519.7 706.4L525.8 702.7L519.7 699.1L513.5 702.8Z" fill="#c5fc77" stroke="#345504"/><path d="M532 706.5L538.1 703L531.9 699.2L525.8 702.7Z" fill="#c5fc77" stroke="#345504"/><path d="M544.2 706.9L550.4 703.7L544.2 699.8L538.1 703Z" fill="#c1fc76" stroke="#315504"/><path d="M556.5 707.8L562.6 704.8L556.5 700.7L550.4 703.7Z" fill="#bbfc75" stroke="#2e5503"/><path d="M568.8 709.1L574.9 706.3L568.8 702L562.6 704.8Z" fill="#b2fc73" stroke="#285502"/><path d="M581 710.8L587.2 708.1L581.1 703.7L574.9 706.3Z" fill="#a6fc71" stroke="#215501"/><path d="M593.2 712.8L599.4 710.3L593.3 705.7L587.2 708.1Z" fill="#98fc6f" stroke="#195500"/><path d="M605.4 715.2L611.6 712.9L605.5 708.1L599.4 710.3Z" fill="#87fc6e" stroke="#0f5500"/><path d="M617.6 717.8L623.7 715.7L617.7 710.8L611.6 712.9Z" fill="#74fc6d" stroke="#045500"/><path d="M629.8 720.9L635.9 718.8L629.8 713.8L623.7 715.7Z" fill="#6dfc7a" stroke="#005507"/><path d="M452.6 718.6L458.6 713.1L452.5 710.5L446.5 716Z" fill="#7ffc6d" stroke="#0a5500"/><path d="M464.7 716L470.8 710.8L464.6 708L458.6 713.1Z" fill="#92fc6f" stroke="#155500"/><path d="M476.9 713.9L483 709L476.8 706L470.8 710.8Z" fill="#a1fc70" stroke="#1e5500"/><path d="M489.1 712.2L495.2 707.7L489 704.4L483 709Z" fill="#adfc72" stroke="#255502"/><path d="M501.3 711.1L507.4 706.8L501.3 703.4L495.2 707.7Z" fill="#b5fc73" stroke="#2a5502"/><path d="M513.6 710.4L519.7 706.4L513.5 702.8L507.4 706.8Z" fill="#bafc74" stroke="#2d5503"/><path d="M525.8 710.2L532 706.5L525.8 702.7L519.7 706.4Z" fill="#bcfc75" stroke="#2e5503"/><path d="M538.1 710.5L544.2 706.9L538.1 703L532 706.5Z" fill="#bafc74" stroke="#2d5503"/><path d="M550.4 711.1L556.5 707.8L550.4 703.7L544.2 706.9Z" fill="#b6fc73" stroke="#2b5502"/><path d="M562.6 712.2L568.8 709.1L562.6 704.8L556.5 707.8Z" fill="#aefc72" stroke="#265502"/><path d="M574.9 713.7L581 710.8L574.9 706.3L568.8 709.1Z" fill="#a4fc71" stroke="#205501"/><path d="M587.1 715.5L593.2 712.8L587.2 708.1L581 710.8Z" fill="#97fc6f" stroke="#185500"/><path d="M599.3 717.7L605.4 715.2L599.4 710.3L593.2 712.8Z" fill="#87fc6e" stroke="#0f5500"/><path d="M611.5 720.2L617.6 717.8L611.6 712.9L605.4 715.2Z" fill="#76fc6d" stroke="#055500"/><path d="M623.7 723.1L629.8 720.9L623.7 715.7L617.6 717.8Z" fill="#6dfc78" stroke="#005506"/><path d="M458.7 721.5L464.7 716L458.6 713.1L452.6 718.6Z" fill="#7efc6d" stroke="#0a5500"/><path d="M470.8 719.1L476.9 713.9L470.8 710.8L464.7 716Z" fill="#8ffc6e" stroke="#135500"/><path d="M483 717.1L489.1 712.2L483 709L476.9 713.9Z" fill="#9cfc70" stroke="#1b5500"/><path d="M495.2 715.7L501.3 711.1L495.2 707.7L489.1 712.2Z" fill="#a7fc71" stroke="#225501"/><path d="M507.5 714.8L513.6 710.4L507.4 706.8L501.3 711.1Z" fill="#adfc72" stroke="#255502"/><path d="M519.7 714.3L525.8 710.2L519.7 706.4L513.6 710.4Z" fill="#b1fc73" stroke="#285502"/><path d="M532 714.3L538.1 710.5L532 706.5L525.8 710.2Z" fill="#b1fc73" stroke="#285502"/><path d="M544.2 714.7L550.4 711.1L544.2 706.9L538.1 710.5Z" fill="#aefc72" stroke="#265502"/><path d="M556.5 715.6L562.6 712.2L556.5 707.8L550.4 711.1Z" fill="#a8fc71" stroke="#225501"/><path d="M568.7 716.8L574.9 713.7L568.8 709.1L562.6 712.2Z" fill="#a0fc70" stroke="#1e5500"/><path d="M581 718.4L587.1 715.5L581 710.8L574.9 713.7Z" fill="#94fc6f" stroke="#165500"/><path d="M593.2 720.5L599.3 717.7L593.2 712.8L587.1 715.5Z" fill="#86fc6e" stroke="#0e5500"/><path d="M605.4 722.8L611.5 720.2L605.4 715.2L599.3 717.7Z" fill="#76fc6d" stroke="#055500"/><path d="M617.5 725.5L623.7 723.1L617.6 717.8L611.5 720.2Z" fill="#6dfc77" stroke="#005505"/><path d="M464.8 724.6L470.8 719.1L464.7 716L458.7 721.5Z" fill="#7bfc6d" stroke="#085500"/><path d="M477 722.4L483 717.1L476.9 713.9L470.8 719.1Z" fill="#8afc6e" stroke="#105500"/><path d="M489.2 720.7L495.2 715.7L489.1 712.2L483 717.1Z" fill="#96fc6f" stroke="#175500"/><path d="M501.4 719.4L507.5 714.8L501.3 711.1L495.2 715.7Z" fill="#9ffc70" stroke="#1d5500"/><path d="M513.6 718.7L519.7 714.3L513.6 710.4L507.5 714.8Z" fill="#a4fc71" stroke="#205501"/><path d="M525.8 718.4L532 714.3L525.8 710.2L519.7 714.3Z" fill="#a6fc71" stroke="#215501"/><path d="M538.1 718.6L544.2 714.7L538.1 710.5L532 714.3Z" fill="#a5fc71" stroke="#205501"/><path d="M550.4 719.2L556.5 715.6L550.4 711.1L544.2 714.7Z" fill="#a1fc70" stroke="#1e5500"/><path d="M562.6 720.2L568.7 716.8L562.6 712.2L556.5 715.6Z" fill="#9afc6f" stroke="#1a5500"/><path d="M574.8 721.7L581 718.4L574.9 713.7L568.7 716.8Z" fill="#90fc6e" stroke="#145500"/><path d="M587.1 723.5L593.2 720.5L587.1 715.5L581 718.4Z" fill="#83fc6e" stroke="#0c5500"/><path d="M599.3 725.7L605.4 722.8L599.3 717.7L593.2 720.5Z" fill="#74fc6d" stroke="#045500"/><path d="M611.4 728.2L617.5 725.5L611.5 720.2L605.4 722.8Z" fill="#6dfc77" stroke="#005505"/><path d="M470.9 728L477 722.4L470.8 719.1L464.8 724.6Z" fill="#76fc6d" stroke="#055500"/><path d="M483.1 725.9L489.2 720.7L483 717.1L477 722.4Z" fill="#84fc6e" stroke="#0d5500"/><path d="M495.3 724.4L501.4 719.4L495.2 715.7L489.2 720.7Z" fill="#8ffc6e" stroke="#135500"/><path d="M507.5 723.4L513.6 718.7L507.5 714.8L501.4 719.4Z" fill="#96fc6f" stroke="#175500"/><path d="M519.7 722.8L525.8 718.4L519.7 714.3L513.6 718.7Z" fill="#9afc6f" stroke="#1a5500"/><path d="M532 722.8L538.1 718.6L532 714.3L525.8 718.4Z" fill="#9afc6f" stroke="#1a5500"/><path d="M544.2 723.1L550.4 719.2L544.2 714.7L538.1 718.6Z" fill="#98fc6f" stroke="#195500"/><path d="M556.5 724L562.6 720.2L556.5 715.6L550.4 719.2Z" fill="#92fc6f" stroke="#155500"/><path d="M568.7 725.2L574.8 721.7L568.7 716.8L562.6 720.2Z" fill="#8afc6e" stroke="#105500"/><path d="M580.9 726.8L587.1 723.5L581 718.4L574.8 721.7Z" fill="#7ffc6d" stroke="#0a5500"/><path d="M593.1 728.8L599.3 725.7L593.2 720.5L587.1 723.5Z" fill="#71fc6d" stroke="#025500"/><path d="M605.3 731.2L611.4 728.2L605.4 722.8L599.3 725.7Z" fill="#6dfc78" stroke="#005506"/><path d="M477.1 731.6L483.1 725.9L477 722.4L470.9 728Z" fill="#70fc6d" stroke="#015500"/><path d="M489.2 729.7L495.3 724.4L489.2 720.7L483.1 725.9Z" fill="#7dfc6d" stroke="#095500"/><path d="M501.4 728.4L507.5 723.4L501.4 719.4L495.3 724.4Z" fill="#86fc6e" stroke="#0e5500"/><path d="M513.6 727.6L519.7 722.8L513.6 718.7L507.5 723.4Z" fill="#8bfc6e" stroke="#115500"/><path d="M525.9 727.3L532 722.8L525.8 718.4L519.7 722.8Z" fill="#8efc6e" stroke="#135500"/><path d="M538.1 727.4L544.2 723.1L538.1 718.6L532 722.8Z" fill="#8dfc6e" stroke="#125500"/><path d="M550.3 728L556.5 724L550.4 719.2L544.2 723.1Z" fill="#89fc6e" stroke="#105500"/><path d="M562.6 729L568.7 725.2L562.6 720.2L556.5 724Z" fill="#83fc6e" stroke="#0c5500"/><path d="M574.8 730.4L580.9 726.8L574.8 721.7L568.7 725.2Z" fill="#79fc6d" stroke="#075500"/><path d="M587 732.2L593.1 728.8L587.1 723.5L580.9 726.8Z" fill="#6dfc6d" stroke="#005500"/><path d="M599.2 734.4L605.3 731.2L599.3 725.7L593.1 728.8Z" fill="#6dfc7b" stroke="#005508"/><path d="M483.2 735.4L489.2 729.7L483.1 725.9L477.1 731.6Z" fill="#6dfc70" stroke="#005501"/><path d="M495.4 733.8L501.4 728.4L495.3 724.4L489.2 729.7Z" fill="#74fc6d" stroke="#045500"/><path d="M507.6 732.7L513.6 727.6L507.5 723.4L501.4 728.4Z" fill="#7bfc6d" stroke="#085500"/><path d="M519.8 732.1L525.9 727.3L519.7 722.8L513.6 727.6Z" fill="#80fc6e" stroke="#0a5500"/><path d="M532 731.9L538.1 727.4L532 722.8L525.9 727.3Z" fill="#81fc6e" stroke="#0b5500"/><path d="M544.2 732.3L550.3 728L544.2 723.1L538.1 727.4Z" fill="#7ffc6d" stroke="#0a5500"/><path d="M556.4 733L562.6 729L556.5 724L550.3 728Z" fill="#79fc6d" stroke="#075500"/><path d="M568.7 734.2L574.8 730.4L568.7 725.2L562.6 729Z" fill="#71fc6d" stroke="#025500"/><path d="M580.9 735.9L587 732.2L580.9 726.8L574.8 730.4Z" fill="#6dfc73" stroke="#005503"/><path d="M593 737.9L599.2 734.4L593.1 728.8L587 732.2Z" fill="#6dfc80" stroke="#00550b"/><path d="M489.3 739.5L495.4 733.8L489.2 729.7L483.2 735.4Z" fill="#6dfc79" stroke="#005507"/><path d="M501.5 738.1L507.6 732.7L501.4 728.4L495.4 733.8Z" fill="#6dfc70" stroke="#005501"/><path d="M513.7 737.2L519.8 732.1L513.6 727.6L507.6 732.7Z" fill="#70fc6d" stroke="#015500"/><path d="M525.9 736.8L532 731.9L525.9 727.3L519.8 732.1Z" fill="#73fc6d" stroke="#035500"/><path d="M538.1 736.9L544.2 732.3L538.1 727.4L532 731.9Z" fill="#72fc6d" stroke="#025500"/><path d="M550.3 737.4L556.4 733L550.3 728L544.2 732.3Z" fill="#6ffc6d" stroke="#015500"/><path d="M562.5 738.4L568.7 734.2L562.6 729L556.4 733Z" fill="#6dfc71" stroke="#005502"/><path d="M574.7 739.8L580.9 735.9L574.8 730.4L568.7 734.2Z" fill="#6dfc7a" stroke="#005507"/><path d="M586.9 741.6L593 737.9L587 732.2L580.9 735.9Z" fill="#6dfc86" stroke="#00550e"/><path d="M495.4 743.9L501.5 738.1L495.4 733.8L489.3 739.5Z" fill="#6dfc83" stroke="#00550d"/><path d="M507.6 742.7L513.7 737.2L507.6 732.7L501.5 738.1Z" fill="#6dfc7b" stroke="#005508"/><path d="M519.8 742.1L525.9 736.8L519.8 732.1L513.7 737.2Z" fill="#6dfc77" stroke="#005505"/><path d="M532 741.9L538.1 736.9L532 731.9L525.9 736.8Z" fill="#6dfc75" stroke="#005504"/><path d="M544.2 742.1L550.3 737.4L544.2 732.3L538.1 736.9Z" fill="#6dfc77" stroke="#005505"/><path d="M556.4 742.9L562.5 738.4L556.4 733L550.3 737.4Z" fill="#6dfc7c" stroke="#005508"/><path d="M568.6 744.1L574.7 739.8L568.7 734.2L562.5 738.4Z" fill="#6dfc83" stroke="#00550d"/><path d="M580.8 745.7L586.9 741.6L580.9 735.9L574.7 739.8Z" fill="#6dfc8d" stroke="#005513"/><path d="M501.6 748.6L507.6 742.7L501.5 738.1L495.4 743.9Z" fill="#6dfc8e" stroke="#005513"/><path d="M513.7 747.6L519.8 742.1L513.7 737.2L507.6 742.7Z" fill="#6dfc88" stroke="#005510"/><path d="M525.9 747.2L532 741.9L525.9 736.8L519.8 742.1Z" fill="#6dfc85" stroke="#00550e"/><path d="M538.1 747.2L544.2 742.1L538.1 736.9L532 741.9Z" fill="#6dfc85" stroke="#00550e"/><path d="M550.3 747.7L556.4 742.9L550.3 737.4L544.2 742.1Z" fill="#6dfc88" stroke="#005510"/><path d="M562.5 748.6L568.6 744.1L562.5 738.4L556.4 742.9Z" fill="#6dfc8e" stroke="#005513"/><path d="M574.7 750L580.8 745.7L574.7 739.8L568.6 744.1Z" fill="#6dfc97" stroke="#005519"/><path d="M507.7 753.5L513.7 747.6L507.6 742.7L501.6 748.6Z" fill="#6dfc9b" stroke="#00551b"/><path d="M519.8 752.8L525.9 747.2L519.8 742.1L513.7 747.6Z" fill="#6dfc96" stroke="#005518"/><path d="M532 752.6L538.1 747.2L532 741.9L525.9 747.2Z" fill="#6dfc94" stroke="#005517"/><path d="M544.2 752.8L550.3 747.7L544.2 742.1L538.1 747.2Z" fill="#6dfc96" stroke="#005518"/><path d="M556.4 753.5L562.5 748.6L556.4 742.9L550.3 747.7Z" fill="#6dfc9a" stroke="#00551a"/><path d="M568.5 754.7L574.7 750L568.6 744.1L562.5 748.6Z" fill="#6dfca2" stroke="#00551f"/><path d="M513.8 758.8L519.8 752.8L513.7 747.6L507.7 753.5Z" fill="#6dfca9" stroke="#005523"/><path d="M525.9 758.3L532 752.6L525.9 747.2L519.8 752.8Z" fill="#6dfca6" stroke="#005522"/><path d="M538.1 758.3L544.2 752.8L538.1 747.2L532 752.6Z" fill="#6dfca6" stroke="#005522"/><path d="M550.3 758.7L556.4 753.5L550.3 747.7L544.2 752.8Z" fill="#6dfca8" stroke="#005523"/><path d="M562.4 759.7L568.5 754.7L562.5 748.6L556.4 753.5Z" fill="#6dfcae" stroke="#005526"/><path d="M519.9 764.4L525.9 758.3L519.8 752.8L513.8 758.8Z" fill="#6dfcb9" stroke="#00552d"/><path d="M532 764.1L538.1 758.3L532 752.6L525.9 758.3Z" fill="#6dfcb7" stroke="#00552c"/><path d="M544.2 764.3L550.3 758.7L544.2 752.8L538.1 758.3Z" fill="#6dfcb8" stroke="#00552c"/><path d="M556.3 765L562.4 759.7L556.4 753.5L550.3 758.7Z" fill="#6dfcbd" stroke="#00552f"/><path d="M526 770.3L532 764.1L525.9 758.3L519.9 764.4Z" fill="#6dfcca" stroke="#005537"/><path d="M538.1 770.2L544.2 764.3L538.1 758.3L532 764.1Z" fill="#6dfcca" stroke="#005537"/><path d="M550.2 770.7L556.3 765L550.3 758.7L544.2 764.3Z" fill="#6dfccd" stroke="#005539"/><path d="M532 776.5L538.1 770.2L532 764.1L526 770.3Z" fill="#6dfcdd" stroke="#005543"/><path d="M544.2 776.7L550.2 770.7L544.2 764.3L538.1 770.2Z" fill="#6dfcde" stroke="#005543"/><path d="M538.1 783.1L544.2 776.7L538.1 770.2L532 776.5Z" fill="#6dfcf2" stroke="#00554f"/></g>
<path d="M192 501.5L192 512.1M531.8 490.2L531.8 501.5M188 35.3L188 39.3M521.3 40.7L521.3 43M531.8 328.4L531.8 336.3M205 608.9L205 613" stroke="#111" stroke-width="1.3"/>
<circle cx="188" cy="35.3" r="2.8" fill="#3a0000" stroke="#000" stroke-width="0.8"/>
<circle cx="188" cy="103.3" r="2.8" fill="#3a0000" stroke="#000" stroke-width="0.8"/>
<circle cx="56.4" cy="154.7" r="2.8" fill="#3a0000" stroke="#000" stroke-width="0.8"/>
<circle cx="322.4" cy="104" r="2.7" fill="#fbe4e4" stroke="#7a3030" stroke-width="1"/>
<circle cx="188" cy="220.7" r="2.8" fill="#fff" stroke="#222" stroke-width="1"/>
<circle cx="395.1" cy="130.1" r="2.8" fill="#3a0000" stroke="#000" stroke-width="0.8"/>
<circle cx="521.3" cy="40.7" r="2.8" fill="#3a0000" stroke="#000" stroke-width="0.8"/>
<circle cx="521.8" cy="93" r="2.8" fill="#3a0000" stroke="#000" stroke-width="0.8"/>
<circle cx="649.3" cy="97.4" r="2.7" fill="#fbe4e4" stroke="#7a3030" stroke-width="1"/>
<circle cx="521.5" cy="209.9" r="2.8" fill="#fff" stroke="#222" stroke-width="1"/>
<circle cx="65.7" cy="448.4" r="2.7" fill="#fbe4e4" stroke="#7a3030" stroke-width="1"/>
<circle cx="191.8" cy="400.6" r="2.8" fill="#3a0000" stroke="#000" stroke-width="0.8"/>
<circle cx="317.4" cy="448.4" r="2.8" fill="#3a0000" stroke="#000" stroke-width="0.8"/>
<circle cx="192" cy="501.5" r="2.8" fill="#3a0000" stroke="#000" stroke-width="0.8"/>
<circle cx="400.4" cy="426.6" r="2.8" fill="#3a0000" stroke="#000" stroke-width="0.8"/>
<circle cx="531.8" cy="328.4" r="2.8" fill="#3a0000" stroke="#000" stroke-width="0.8"/>
<circle cx="531.8" cy="395.9" r="2.8" fill="#3a0000" stroke="#000" stroke-width="0.8"/>
<circle cx="664.7" cy="401.7" r="2.7" fill="#fbe4e4" stroke="#7a3030" stroke-width="1"/>
<circle cx="531.8" cy="501.5" r="2.8" fill="#fff" stroke="#222" stroke-width="1"/>
<circle cx="69.1" cy="752.3" r="2.8" fill="#3a0000" stroke="#000" stroke-width="0.8"/>
<circle cx="205" cy="608.9" r="2.8" fill="#3a0000" stroke="#000" stroke-width="0.8"/>
<circle cx="205" cy="695.6" r="2.8" fill="#3a0000" stroke="#000" stroke-width="0.8"/>
<circle cx="342.3" cy="728.8" r="2.7" fill="#fbe4e4" stroke="#7a3030" stroke-width="1"/>
<circle cx="204.4" cy="816" r="2.8" fill="#fff" stroke="#222" stroke-width="1"/>
<circle cx="415.5" cy="708.8" r="2.7" fill="#fbe4e4" stroke="#7a3030" stroke-width="1"/>
<circle cx="538.2" cy="689.8" r="2.8" fill="#3a0000" stroke="#000" stroke-width="0.8"/>
<circle cx="660.5" cy="713" r="2.8" fill="#3a0000" stroke="#000" stroke-width="0.8"/>
<circle cx="538.2" cy="776" r="2.8" fill="#3a0000" stroke="#000" stroke-width="0.8"/>
<text x="5.6" y="23.4" font-size="15">A</text>
<text x="7.3" y="124" font-size="11.5">R1</text>
<text x="44.6" y="41.3" font-size="11.6" text-anchor="end">0.7</text>
<text x="46.7" y="86.8" font-size="11.6" text-anchor="end">0.5</text>
<text x="50.2" y="132.8" font-size="11.6" text-anchor="end">0.3</text>
<text x="52" y="178.7" font-size="11.6" text-anchor="end">0.1</text>
<text x="51.3" y="223.4" font-size="11.6" text-anchor="middle">8</text>
<text x="83.3" y="241.4" font-size="11.6" text-anchor="middle">7</text>
<text x="116.8" y="255.2" font-size="11.6" text-anchor="middle">6</text>
<text x="146.4" y="268.9" font-size="11.6" text-anchor="middle">5</text>
<text x="181.5" y="285.4" font-size="11.6" text-anchor="middle">4</text>
<text x="196.9" y="284.6" font-size="11.6" text-anchor="middle">10</text>
<text x="220.3" y="273.2" font-size="11.6" text-anchor="middle">12</text>
<text x="245.9" y="260.5" font-size="11.6" text-anchor="middle">14</text>
<text x="273.4" y="247.7" font-size="11.6" text-anchor="middle">16</text>
<text x="299.9" y="234.6" font-size="11.6" text-anchor="middle">18</text>
<text x="327.6" y="221.4" font-size="11.6" text-anchor="middle">20</text>
<text x="33.7" y="264.4" font-size="12">B: Band length</text>
<text x="33.7" y="277.5" font-size="12">(mm)</text>
<text x="259" y="275.5" font-size="12">A: Saturation</text>
<text x="259" y="286.8" font-size="12">time (min)</text>
<text x="350" y="25.7" font-size="15">B</text>
<text x="350" y="120.5" font-size="11.5">R2</text>
<text x="387.3" y="40.7" font-size="11.6" text-anchor="end">0.9</text>
<text x="390.4" y="109" font-size="11.6" text-anchor="end">0.6</text>
<text x="392.5" y="178.4" font-size="11.6" text-anchor="end">0.3</text>
<text x="392.6" y="223.3" font-size="11.6" text-anchor="middle">8</text>
<text x="422.1" y="241" font-size="11.6" text-anchor="middle">7</text>
<text x="451.6" y="255.3" font-size="11.6" text-anchor="middle">6</text>
<text x="484.1" y="270.9" font-size="11.6" text-anchor="middle">5</text>
<text x="514.7" y="285.6" font-size="11.6" text-anchor="middle">4</text>
<text x="530.3" y="285.9" font-size="11.6" text-anchor="middle">10</text>
<text x="553" y="273.4" font-size="11.6" text-anchor="middle">12</text>
<text x="576.8" y="262.3" font-size="11.6" text-anchor="middle">14</text>
<text x="602.9" y="249.1" font-size="11.6" text-anchor="middle">16</text>
<text x="628.1" y="236" font-size="11.6" text-anchor="middle">18</text>
<text x="654.5" y="220.9" font-size="11.6" text-anchor="middle">20</text>
<text x="386" y="269.6" font-size="12">B: Band length</text>
<text x="386" y="282.7" font-size="12">(mm)</text>
<text x="591.7" y="276.7" font-size="12">A: Saturation</text>
<text x="591.7" y="289.3" font-size="12">time (min)</text>
<text x="7.9" y="335.5" font-size="15">C</text>
<text x="13.1" y="411.7" font-size="11.5">R1</text>
<text x="57.3" y="343.8" font-size="11.6" text-anchor="end">0.7</text>
<text x="57.8" y="364.5" font-size="11.6" text-anchor="end">0.6</text>
<text x="58.6" y="385.6" font-size="11.6" text-anchor="end">0.5</text>
<text x="59.4" y="406.6" font-size="11.6" text-anchor="end">0.4</text>
<text x="61" y="427.3" font-size="11.6" text-anchor="end">0.3</text>
<text x="61.7" y="447.6" font-size="11.6" text-anchor="end">0.2</text>
<text x="64.4" y="467.6" font-size="11.6" text-anchor="end">0.1</text>
<text x="59.7" y="513.9" font-size="11.6" text-anchor="middle">90</text>
<text x="92.9" y="529.1" font-size="11.6" text-anchor="middle">85</text>
<text x="123.1" y="542.8" font-size="11.6" text-anchor="middle">80</text>
<text x="153.3" y="557.3" font-size="11.6" text-anchor="middle">75</text>
<text x="180.9" y="571.1" font-size="11.6" text-anchor="middle">70</text>
<text x="198.5" y="571.4" font-size="11.6" text-anchor="middle">4</text>
<text x="228.8" y="556.9" font-size="11.6" text-anchor="middle">5</text>
<text x="258" y="541.3" font-size="11.6" text-anchor="middle">6</text>
<text x="288.6" y="528.3" font-size="11.6" text-anchor="middle">7</text>
<text x="320.3" y="512.2" font-size="11.6" text-anchor="middle">8</text>
<text x="55.5" y="553.9" font-size="12">C: Solvent</text>
<text x="55.5" y="566.7" font-size="12">front (mm)</text>
<text x="249.9" y="558.1" font-size="12">B: Band length</text>
<text x="249.9" y="571.4" font-size="12">(mm)</text>
<text x="365" y="331" font-size="15">D</text>
<text x="350" y="423" font-size="11.5">R2</text>
<text x="391.2" y="350.8" font-size="11.6" text-anchor="end">0.9</text>
<text x="393.9" y="409" font-size="11.6" text-anchor="end">0.6</text>
<text x="397.8" y="473.1" font-size="11.6" text-anchor="end">0.3</text>
<text x="395.3" y="515.3" font-size="11.6" text-anchor="middle">90</text>
<text x="426.4" y="529.8" font-size="11.6" text-anchor="middle">85</text>
<text x="458.4" y="542.9" font-size="11.6" text-anchor="middle">80</text>
<text x="493.1" y="558.9" font-size="11.6" text-anchor="middle">75</text>
<text x="524" y="572.1" font-size="11.6" text-anchor="middle">70</text>
<text x="542" y="571.9" font-size="11.6" text-anchor="middle">10</text>
<text x="565.4" y="560.7" font-size="11.6" text-anchor="middle">12</text>
<text x="590.3" y="550.2" font-size="11.6" text-anchor="middle">14</text>
<text x="616.9" y="538.1" font-size="11.6" text-anchor="middle">16</text>
<text x="641" y="527.2" font-size="11.6" text-anchor="middle">18</text>
<text x="668.5" y="512.4" font-size="11.6" text-anchor="middle">20</text>
<text x="392" y="554.4" font-size="12">C: Solvent</text>
<text x="392" y="566.7" font-size="12">front (mm)</text>
<text x="603.5" y="559.3" font-size="12">A: Saturation</text>
<text x="603.5" y="571.9" font-size="12">time (min)</text>
<text x="13.1" y="622" font-size="15">E</text>
<text x="17.1" y="718" font-size="11.5">R1</text>
<text x="60.4" y="628.5" font-size="11.6" text-anchor="end">0.7</text>
<text x="61" y="652.4" font-size="11.6" text-anchor="end">0.6</text>
<text x="61.7" y="676.7" font-size="11.6" text-anchor="end">0.5</text>
<text x="63.1" y="700.9" font-size="11.6" text-anchor="end">0.4</text>
<text x="64.4" y="724.5" font-size="11.6" text-anchor="end">0.3</text>
<text x="65.7" y="748.4" font-size="11.6" text-anchor="end">0.2</text>
<text x="67.8" y="773.4" font-size="11.6" text-anchor="end">0.1</text>
<text x="63.7" y="821.7" font-size="11.6" text-anchor="middle">90</text>
<text x="96.6" y="840.6" font-size="11.6" text-anchor="middle">85</text>
<text x="128.4" y="857" font-size="11.6" text-anchor="middle">80</text>
<text x="162.5" y="872.5" font-size="11.6" text-anchor="middle">75</text>
<text x="194.7" y="888.9" font-size="11.6" text-anchor="middle">70</text>
<text x="213.3" y="888.9" font-size="11.6" text-anchor="middle">10</text>
<text x="240" y="877.9" font-size="11.6" text-anchor="middle">12</text>
<text x="265.3" y="864.3" font-size="11.6" text-anchor="middle">14</text>
<text x="292.6" y="849.1" font-size="11.6" text-anchor="middle">16</text>
<text x="317" y="835.1" font-size="11.6" text-anchor="middle">18</text>
<text x="345.3" y="822.5" font-size="11.6" text-anchor="middle">20</text>
<text x="55.2" y="876.1" font-size="12">C: Solvent</text>
<text x="55.2" y="889.2" font-size="12">front (mm)</text>
<text x="281.2" y="878.6" font-size="12">A: Saturation</text>
<text x="281.2" y="891.4" font-size="12">time (min)</text>
<text x="372.6" y="609.7" font-size="15">F</text>
<text x="376.6" y="726" font-size="11.5">R2</text>
<text x="408.9" y="635.9" font-size="11.6" text-anchor="end">0.9</text>
<text x="410.7" y="704.2" font-size="11.6" text-anchor="end">0.6</text>
<text x="415.2" y="774.1" font-size="11.6" text-anchor="end">0.3</text>
<text x="411.4" y="824.8" font-size="11.6" text-anchor="middle">90</text>
<text x="441.6" y="842.1" font-size="11.6" text-anchor="middle">85</text>
<text x="471.2" y="857.8" font-size="11.6" text-anchor="middle">80</text>
<text x="502" y="873.8" font-size="11.6" text-anchor="middle">75</text>
<text x="530.3" y="890.9" font-size="11.6" text-anchor="middle">70</text>
<text x="543.5" y="888.9" font-size="11.6" text-anchor="middle">4</text>
<text x="572.7" y="874.2" font-size="11.6" text-anchor="middle">5</text>
<text x="602.5" y="857.6" font-size="11.6" text-anchor="middle">6</text>
<text x="632.7" y="842.1" font-size="11.6" text-anchor="middle">7</text>
<text x="664.4" y="824.1" font-size="11.6" text-anchor="middle">8</text>
<text x="392.3" y="868.7" font-size="12">C: Solvent</text>
<text x="392.3" y="881.9" font-size="12">front (mm)</text>
<text x="602.7" y="874" font-size="12">B: Band length</text>
<text x="602.7" y="887.1" font-size="12">(mm)</text>
</svg></body></html>
